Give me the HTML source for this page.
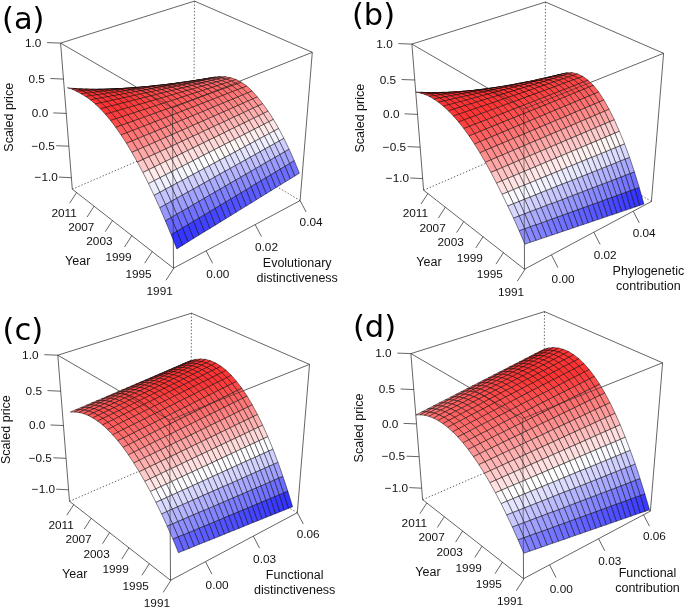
<!DOCTYPE html>
<html><head><meta charset="utf-8"><title>Figure</title>
<style>html,body{margin:0;padding:0;background:#fff}svg{display:block}</style></head>
<body><svg width="685" height="608" viewBox="0 0 685 608">
<rect width="685" height="608" fill="#fff"/>
<g stroke="#222" stroke-width="0.7" fill="none">
<path d="M60.6 43.1L194.5 1.1" />
<path d="M194.5 1.1L312.3 52.3" />
<path d="M60.6 43.1L72.3 189.2" />
<path d="M312.3 52.3L300.1 200.6" />
<path d="M72.3 189.2L173.5 268.2" />
<path d="M173.5 268.2L300.1 200.6" />
<path d="M194.5 1.1L193.7 136.8" stroke-dasharray="1.4 1.9"/>
<path d="M72.3 189.2L193.7 136.8" stroke-dasharray="1.4 1.9"/>
<path d="M300.1 200.6L193.7 136.8" stroke-dasharray="1.4 1.9"/>
<path d="M173.8 268.2L166.0 280.3" />
<path d="M152.3 251.5L144.7 263.2" />
<path d="M131.9 235.6L124.5 247.0" />
<path d="M112.5 220.5L105.3 231.6" />
<path d="M94.1 206.2L87.1 217.0" />
<path d="M76.6 192.6L69.7 203.1" />
<path d="M206.2 250.9L212.6 263.3" />
<path d="M255.2 224.6L261.4 236.5" />
<path d="M300.1 200.6L306.1 211.9" />
<path d="M71.4 177.7L59.0 177.1" />
<path d="M68.9 146.2L56.2 145.7" />
<path d="M66.3 113.4L53.3 112.9" />
<path d="M63.5 79.1L50.3 78.5" />
<path d="M60.6 43.1L47.1 42.6" />
</g>
<g stroke="#000" stroke-width="0.48" stroke-linejoin="round">
<path d="M191.3 86.3L186.7 90.2L191.2 90.3L195.9 86.2Z" fill="#efefff"/>
<path d="M186.7 86.5L182.1 90.2L186.7 90.2L191.3 86.3Z" fill="#f9f9ff"/>
<path d="M196.1 83.1L191.3 86.3L195.9 86.2L200.7 82.8Z" fill="#ffecec"/>
<path d="M182.1 86.6L177.4 90.2L182.1 90.2L186.7 86.5Z" fill="#fffcfc"/>
<path d="M191.5 83.4L186.7 86.5L191.3 86.3L196.1 83.1Z" fill="#ffe3e3"/>
<path d="M177.4 86.8L172.7 90.2L177.4 90.2L182.1 86.6Z" fill="#fff1f1"/>
<path d="M200.9 80.6L196.1 83.1L200.7 82.8L205.5 80.1Z" fill="#ffcdcd"/>
<path d="M186.8 83.8L182.1 86.6L186.7 86.5L191.5 83.4Z" fill="#ffdada"/>
<path d="M172.6 87.0L168.0 90.1L172.7 90.2L177.4 86.8Z" fill="#ffe8e8"/>
<path d="M196.3 81.1L191.5 83.4L196.1 83.1L200.9 80.6Z" fill="#ffc5c5"/>
<path d="M182.1 84.1L177.4 86.8L182.1 86.6L186.8 83.8Z" fill="#ffd1d1"/>
<path d="M167.8 87.1L163.2 90.1L168.0 90.1L172.6 87.0Z" fill="#ffdede"/>
<path d="M205.9 78.8L200.9 80.6L205.5 80.1L210.5 78.2Z" fill="#ffb2b2"/>
<path d="M191.6 81.6L186.8 83.8L191.5 83.4L196.3 81.1Z" fill="#ffbdbd"/>
<path d="M177.3 84.5L172.6 87.0L177.4 86.8L182.1 84.1Z" fill="#ffc9c9"/>
<path d="M162.9 87.3L158.4 90.1L163.2 90.1L167.8 87.1Z" fill="#ffd5d5"/>
<path d="M201.2 79.5L196.3 81.1L200.9 80.6L205.9 78.8Z" fill="#ffacac"/>
<path d="M186.8 82.1L182.1 84.1L186.8 83.8L191.6 81.6Z" fill="#ffb6b6"/>
<path d="M172.5 84.8L167.8 87.1L172.6 87.0L177.3 84.5Z" fill="#ffc1c1"/>
<path d="M158.0 87.5L153.5 90.1L158.4 90.1L162.9 87.3Z" fill="#ffcbcb"/>
<path d="M210.9 77.8L205.9 78.8L210.5 78.2L215.5 77.0Z" fill="#ff9c9c"/>
<path d="M196.5 80.2L191.6 81.6L196.3 81.1L201.2 79.5Z" fill="#ffa5a5"/>
<path d="M182.1 82.7L177.3 84.5L182.1 84.1L186.8 82.1Z" fill="#ffaeae"/>
<path d="M167.6 85.2L162.9 87.3L167.8 87.1L172.5 84.8Z" fill="#ffb8b8"/>
<path d="M206.2 78.7L201.2 79.5L205.9 78.8L210.9 77.8Z" fill="#ff9696"/>
<path d="M153.1 87.6L148.6 90.0L153.5 90.1L158.0 87.5Z" fill="#ffc1c1"/>
<path d="M191.7 80.9L186.8 82.1L191.6 81.6L196.5 80.2Z" fill="#ff9e9e"/>
<path d="M177.2 83.2L172.5 84.8L177.3 84.5L182.1 82.7Z" fill="#ffa7a7"/>
<path d="M215.9 77.6L210.9 77.8L215.5 77.0L220.6 76.6Z" fill="#ff8a8a"/>
<path d="M162.7 85.5L158.0 87.5L162.9 87.3L167.6 85.2Z" fill="#ffafaf"/>
<path d="M201.4 79.6L196.5 80.2L201.2 79.5L206.2 78.7Z" fill="#ff9191"/>
<path d="M148.1 87.8L143.6 90.0L148.6 90.0L153.1 87.6Z" fill="#ffb7b7"/>
<path d="M186.9 81.6L182.1 82.7L186.8 82.1L191.7 80.9Z" fill="#ff9898"/>
<path d="M172.3 83.7L167.6 85.2L172.5 84.8L177.2 83.2Z" fill="#ff9f9f"/>
<path d="M211.2 78.6L206.2 78.7L210.9 77.8L215.9 77.6Z" fill="#ff8585"/>
<path d="M157.7 85.9L153.1 87.6L158.0 87.5L162.7 85.5Z" fill="#ffa6a6"/>
<path d="M196.7 80.4L191.7 80.9L196.5 80.2L201.4 79.6Z" fill="#ff8b8b"/>
<path d="M143.0 88.0L138.5 90.0L143.6 90.0L148.1 87.8Z" fill="#ffadad"/>
<path d="M221.1 78.0L215.9 77.6L220.6 76.6L225.7 76.8Z" fill="#ff7c7c"/>
<path d="M182.1 82.3L177.2 83.2L182.1 82.7L186.9 81.6Z" fill="#ff9191"/>
<path d="M206.5 79.6L201.4 79.6L206.2 78.7L211.2 78.6Z" fill="#ff8181"/>
<path d="M167.4 84.3L162.7 85.5L167.6 85.2L172.3 83.7Z" fill="#ff9898"/>
<path d="M152.7 86.2L148.1 87.8L153.1 87.6L157.7 85.9Z" fill="#ff9e9e"/>
<path d="M191.8 81.3L186.9 81.6L191.7 80.9L196.7 80.4Z" fill="#ff8585"/>
<path d="M216.3 79.2L211.2 78.6L215.9 77.6L221.1 78.0Z" fill="#ff7979"/>
<path d="M137.9 88.1L133.4 90.0L138.5 90.0L143.0 88.0Z" fill="#ffa4a4"/>
<path d="M177.2 83.1L172.3 83.7L177.2 83.2L182.1 82.3Z" fill="#ff8b8b"/>
<path d="M201.7 80.7L196.7 80.4L201.4 79.6L206.5 79.6Z" fill="#ff7c7c"/>
<path d="M162.4 84.8L157.7 85.9L162.7 85.5L167.4 84.3Z" fill="#ff9090"/>
<path d="M226.2 79.2L221.1 78.0L225.7 76.8L230.9 77.8Z" fill="#ff7272"/>
<path d="M187.0 82.2L182.1 82.3L186.9 81.6L191.8 81.3Z" fill="#ff8080"/>
<path d="M147.6 86.6L143.0 88.0L148.1 87.8L152.7 86.2Z" fill="#ff9595"/>
<path d="M211.6 80.4L206.5 79.6L211.2 78.6L216.3 79.2Z" fill="#ff7575"/>
<path d="M172.2 83.8L167.4 84.3L172.3 83.7L177.2 83.1Z" fill="#ff8585"/>
<path d="M132.7 88.3L128.3 89.9L133.4 90.0L137.9 88.1Z" fill="#ff9a9a"/>
<path d="M196.9 81.8L191.8 81.3L196.7 80.4L201.7 80.7Z" fill="#ff7777"/>
<path d="M221.5 80.6L216.3 79.2L221.1 78.0L226.2 79.2Z" fill="#ff6f6f"/>
<path d="M157.4 85.4L152.7 86.2L157.7 85.9L162.4 84.8Z" fill="#ff8989"/>
<path d="M182.1 83.1L177.2 83.1L182.1 82.3L187.0 82.2Z" fill="#ff7a7a"/>
<path d="M206.8 81.7L201.7 80.7L206.5 79.6L211.6 80.4Z" fill="#ff7171"/>
<path d="M231.5 81.1L226.2 79.2L230.9 77.8L236.2 79.6Z" fill="#ff6c6c"/>
<path d="M142.5 87.0L137.9 88.1L143.0 88.0L147.6 86.6Z" fill="#ff8d8d"/>
<path d="M167.2 84.5L162.4 84.8L167.4 84.3L172.2 83.8Z" fill="#ff7d7d"/>
<path d="M127.5 88.5L123.1 89.9L128.3 89.9L132.7 88.3Z" fill="#ff9090"/>
<path d="M192.0 82.8L187.0 82.2L191.8 81.3L196.9 81.8Z" fill="#ff7272"/>
<path d="M216.7 81.9L211.6 80.4L216.3 79.2L221.5 80.6Z" fill="#ff6c6c"/>
<path d="M152.3 86.0L147.6 86.6L152.7 86.2L157.4 85.4Z" fill="#ff8181"/>
<path d="M177.1 84.0L172.2 83.8L177.2 83.1L182.1 83.1Z" fill="#ff7575"/>
<path d="M226.7 82.6L221.5 80.6L226.2 79.2L231.5 81.1Z" fill="#ff6969"/>
<path d="M201.9 82.9L196.9 81.8L201.7 80.7L206.8 81.7Z" fill="#ff6d6d"/>
<path d="M137.3 87.4L132.7 88.3L137.9 88.1L142.5 87.0Z" fill="#ff8484"/>
<path d="M236.8 84.0L231.5 81.1L236.2 79.6L241.5 82.3Z" fill="#ff6969"/>
<path d="M162.1 85.3L157.4 85.4L162.4 84.8L167.2 84.5Z" fill="#ff7777"/>
<path d="M187.0 83.9L182.1 83.1L187.0 82.2L192.0 82.8Z" fill="#ff6d6d"/>
<path d="M211.9 83.3L206.8 81.7L211.6 80.4L216.7 81.9Z" fill="#ff6969"/>
<path d="M122.2 88.6L117.8 89.9L123.1 89.9L127.5 88.5Z" fill="#ff8686"/>
<path d="M147.1 86.5L142.5 87.0L147.6 86.6L152.3 86.0Z" fill="#ff7979"/>
<path d="M222.0 84.2L216.7 81.9L221.5 80.6L226.7 82.6Z" fill="#ff6767"/>
<path d="M172.1 84.9L167.2 84.5L172.2 83.8L177.1 84.0Z" fill="#ff6f6f"/>
<path d="M197.0 84.2L192.0 82.8L196.9 81.8L201.9 82.9Z" fill="#ff6969"/>
<path d="M132.0 87.7L127.5 88.5L132.7 88.3L137.3 87.4Z" fill="#ff7b7b"/>
<path d="M232.0 85.7L226.7 82.6L231.5 81.1L236.8 84.0Z" fill="#ff6969"/>
<path d="M157.0 86.0L152.3 86.0L157.4 85.4L162.1 85.3Z" fill="#ff7171"/>
<path d="M207.1 84.8L201.9 82.9L206.8 81.7L211.9 83.3Z" fill="#ff6666"/>
<path d="M182.1 85.0L177.1 84.0L182.1 83.1L187.0 83.9Z" fill="#ff6969"/>
<path d="M242.1 87.9L236.8 84.0L241.5 82.3L246.8 86.1Z" fill="#ff6d6d"/>
<path d="M116.9 88.8L112.5 89.8L117.8 89.9L122.2 88.6Z" fill="#ff7d7d"/>
<path d="M217.1 85.8L211.9 83.3L216.7 81.9L222.0 84.2Z" fill="#ff6565"/>
<path d="M141.9 87.1L137.3 87.4L142.5 87.0L147.1 86.5Z" fill="#ff7171"/>
<path d="M192.1 85.4L187.0 83.9L192.0 82.8L197.0 84.2Z" fill="#ff6565"/>
<path d="M167.0 85.9L162.1 85.3L167.2 84.5L172.1 84.9Z" fill="#ff6969"/>
<path d="M227.2 87.4L222.0 84.2L226.7 82.6L232.0 85.7Z" fill="#ff6767"/>
<path d="M126.7 88.1L122.2 88.6L127.5 88.5L132.0 87.7Z" fill="#ff7373"/>
<path d="M202.2 86.2L197.0 84.2L201.9 82.9L207.1 84.8Z" fill="#ff6363"/>
<path d="M237.3 89.8L232.0 85.7L236.8 84.0L242.1 87.9Z" fill="#ff6d6d"/>
<path d="M151.9 86.8L147.1 86.5L152.3 86.0L157.0 86.0Z" fill="#ff6a6a"/>
<path d="M177.0 86.1L172.1 84.9L177.1 84.0L182.1 85.0Z" fill="#ff6565"/>
<path d="M247.4 93.0L242.1 87.9L246.8 86.1L252.1 91.0Z" fill="#ff7676"/>
<path d="M212.3 87.4L207.1 84.8L211.9 83.3L217.1 85.8Z" fill="#ff6363"/>
<path d="M111.5 89.0L107.1 89.7L112.5 89.8L116.9 88.8Z" fill="#ff7272"/>
<path d="M187.1 86.7L182.1 85.0L187.0 83.9L192.1 85.4Z" fill="#ff6161"/>
<path d="M136.7 87.7L132.0 87.7L137.3 87.4L141.9 87.1Z" fill="#ff6a6a"/>
<path d="M161.9 86.8L157.0 86.0L162.1 85.3L167.0 85.9Z" fill="#ff6464"/>
<path d="M222.4 89.1L217.1 85.8L222.0 84.2L227.2 87.4Z" fill="#ff6565"/>
<path d="M232.5 91.6L227.2 87.4L232.0 85.7L237.3 89.8Z" fill="#ff6c6c"/>
<path d="M197.2 87.6L192.1 85.4L197.0 84.2L202.2 86.2Z" fill="#ff6060"/>
<path d="M242.6 95.0L237.3 89.8L242.1 87.9L247.4 93.0Z" fill="#ff7676"/>
<path d="M252.7 99.0L247.4 93.0L252.1 91.0L257.4 97.0Z" fill="#ff8585"/>
<path d="M121.4 88.5L116.9 88.8L122.2 88.6L126.7 88.1Z" fill="#ff6a6a"/>
<path d="M172.0 87.2L167.0 85.9L172.1 84.9L177.0 86.1Z" fill="#ff6060"/>
<path d="M146.7 87.5L141.9 87.1L147.1 86.5L151.9 86.8Z" fill="#ff6363"/>
<path d="M207.4 89.0L202.2 86.2L207.1 84.8L212.3 87.4Z" fill="#ff6161"/>
<path d="M182.1 88.0L177.0 86.1L182.1 85.0L187.1 86.7Z" fill="#ff5d5d"/>
<path d="M106.0 89.1L101.6 89.6L107.1 89.7L111.5 89.0Z" fill="#ff6969"/>
<path d="M217.5 90.9L212.3 87.4L217.1 85.8L222.4 89.1Z" fill="#ff6464"/>
<path d="M156.7 87.8L151.9 86.8L157.0 86.0L161.9 86.8Z" fill="#ff5e5e"/>
<path d="M131.4 88.3L126.7 88.1L132.0 87.7L136.7 87.7Z" fill="#ff6262"/>
<path d="M258.0 105.9L252.7 99.0L257.4 97.0L262.7 103.7Z" fill="#ff9797"/>
<path d="M227.7 93.5L222.4 89.1L227.2 87.4L232.5 91.6Z" fill="#ff6b6b"/>
<path d="M247.9 101.1L242.6 95.0L247.4 93.0L252.7 99.0Z" fill="#ff8585"/>
<path d="M192.2 89.1L187.1 86.7L192.1 85.4L197.2 87.6Z" fill="#ff5d5d"/>
<path d="M237.8 97.0L232.5 91.6L237.3 89.8L242.6 95.0Z" fill="#ff7575"/>
<path d="M166.8 88.3L161.9 86.8L167.0 85.9L172.0 87.2Z" fill="#ff5b5b"/>
<path d="M141.4 88.3L136.7 87.7L141.9 87.1L146.7 87.5Z" fill="#ff5d5d"/>
<path d="M116.0 88.9L111.5 89.0L116.9 88.8L121.4 88.5Z" fill="#ff6161"/>
<path d="M202.4 90.6L197.2 87.6L202.2 86.2L207.4 89.0Z" fill="#ff5e5e"/>
<path d="M263.3 113.5L258.0 105.9L262.7 103.7L268.1 111.1Z" fill="#ffadad"/>
<path d="M177.0 89.3L172.0 87.2L177.0 86.1L182.1 88.0Z" fill="#ff5959"/>
<path d="M212.6 92.6L207.4 89.0L212.3 87.4L217.5 90.9Z" fill="#ff6363"/>
<path d="M151.5 88.7L146.7 87.5L151.9 86.8L156.7 87.8Z" fill="#ff5959"/>
<path d="M253.3 108.1L247.9 101.1L252.7 99.0L258.0 105.9Z" fill="#ff9898"/>
<path d="M126.0 88.8L121.4 88.5L126.7 88.1L131.4 88.3Z" fill="#ff5b5b"/>
<path d="M222.8 95.4L217.5 90.9L222.4 89.1L227.7 93.5Z" fill="#ff6a6a"/>
<path d="M100.5 89.2L96.1 89.5L101.6 89.6L106.0 89.1Z" fill="#ff5e5e"/>
<path d="M243.1 103.3L237.8 97.0L242.6 95.0L247.9 101.1Z" fill="#ff8585"/>
<path d="M233.0 99.0L227.7 93.5L232.5 91.6L237.8 97.0Z" fill="#ff7575"/>
<path d="M187.2 90.5L182.1 88.0L187.1 86.7L192.2 89.1Z" fill="#ff5a5a"/>
<path d="M268.7 121.8L263.3 113.5L268.1 111.1L273.4 119.4Z" fill="#ffc8c8"/>
<path d="M161.7 89.5L156.7 87.8L161.9 86.8L166.8 88.3Z" fill="#ff5656"/>
<path d="M197.4 92.2L192.2 89.1L197.2 87.6L202.4 90.6Z" fill="#ff5d5d"/>
<path d="M136.1 89.1L131.4 88.3L136.7 87.7L141.4 88.3Z" fill="#ff5656"/>
<path d="M110.5 89.2L106.0 89.1L111.5 89.0L116.0 88.9Z" fill="#ff5959"/>
<path d="M258.6 115.8L253.3 108.1L258.0 105.9L263.3 113.5Z" fill="#ffafaf"/>
<path d="M207.6 94.4L202.4 90.6L207.4 89.0L212.6 92.6Z" fill="#ff6161"/>
<path d="M171.9 90.6L166.8 88.3L172.0 87.2L177.0 89.3Z" fill="#ff5555"/>
<path d="M248.5 110.3L243.1 103.3L247.9 101.1L253.3 108.1Z" fill="#ff9999"/>
<path d="M274.0 131.0L268.7 121.8L273.4 119.4L278.7 128.5Z" fill="#ffe6e6"/>
<path d="M217.9 97.3L212.6 92.6L217.5 90.9L222.8 95.4Z" fill="#ff6969"/>
<path d="M238.3 105.4L233.0 99.0L237.8 97.0L243.1 103.3Z" fill="#ff8585"/>
<path d="M146.2 89.7L141.4 88.3L146.7 87.5L151.5 88.7Z" fill="#ff5353"/>
<path d="M228.1 101.0L222.8 95.4L227.7 93.5L233.0 99.0Z" fill="#ff7575"/>
<path d="M120.6 89.4L116.0 88.9L121.4 88.5L126.0 88.8Z" fill="#ff5353"/>
<path d="M182.1 92.0L177.0 89.3L182.1 88.0L187.2 90.5Z" fill="#ff5757"/>
<path d="M94.9 89.3L90.5 89.4L96.1 89.5L100.5 89.2Z" fill="#ff5555"/>
<path d="M263.9 124.3L258.6 115.8L263.3 113.5L268.7 121.8Z" fill="#ffc9c9"/>
<path d="M279.2 141.0L274.0 131.0L278.7 128.5L283.9 138.4Z" fill="#f5f5ff"/>
<path d="M156.4 90.6L151.5 88.7L156.7 87.8L161.7 89.5Z" fill="#ff5151"/>
<path d="M192.3 93.8L187.2 90.5L192.2 89.1L197.4 92.2Z" fill="#ff5a5a"/>
<path d="M284.5 151.9L279.2 141.0L283.9 138.4L289.1 149.2Z" fill="#ceceff"/>
<path d="M253.8 118.1L248.5 110.3L253.3 108.1L258.6 115.8Z" fill="#ffb0b0"/>
<path d="M130.7 89.9L126.0 88.8L131.4 88.3L136.1 89.1Z" fill="#ff5050"/>
<path d="M289.6 163.6L284.5 151.9L289.1 149.2L294.3 160.8Z" fill="#a3a3ff"/>
<path d="M294.8 176.1L289.6 163.6L294.3 160.8L299.4 173.2Z" fill="#7373ff"/>
<path d="M202.6 96.2L197.4 92.2L202.4 90.6L207.6 94.4Z" fill="#ff6060"/>
<path d="M105.0 89.6L100.5 89.2L106.0 89.1L110.5 89.2Z" fill="#ff5050"/>
<path d="M269.2 133.6L263.9 124.3L268.7 121.8L274.0 131.0Z" fill="#ffe9e9"/>
<path d="M243.6 112.6L238.3 105.4L243.1 103.3L248.5 110.3Z" fill="#ff9999"/>
<path d="M166.7 91.9L161.7 89.5L166.8 88.3L171.9 90.6Z" fill="#ff5252"/>
<path d="M212.9 99.3L207.6 94.4L212.6 92.6L217.9 97.3Z" fill="#ff6969"/>
<path d="M233.4 107.5L228.1 101.0L233.0 99.0L238.3 105.4Z" fill="#ff8585"/>
<path d="M223.2 103.1L217.9 97.3L222.8 95.4L228.1 101.0Z" fill="#ff7575"/>
<path d="M140.9 90.7L136.1 89.1L141.4 88.3L146.2 89.7Z" fill="#ff4d4d"/>
<path d="M274.5 143.7L269.2 133.6L274.0 131.0L279.2 141.0Z" fill="#f3f3ff"/>
<path d="M259.1 126.7L253.8 118.1L258.6 115.8L263.9 124.3Z" fill="#ffcbcb"/>
<path d="M176.9 93.5L171.9 90.6L177.0 89.3L182.1 92.0Z" fill="#ff5454"/>
<path d="M115.1 90.0L110.5 89.2L116.0 88.9L120.6 89.4Z" fill="#ff4c4c"/>
<path d="M279.8 154.6L274.5 143.7L279.2 141.0L284.5 151.9Z" fill="#ccccff"/>
<path d="M89.3 89.3L84.9 89.1L90.5 89.4L94.9 89.3Z" fill="#ff4949"/>
<path d="M249.0 120.5L243.6 112.6L248.5 110.3L253.8 118.1Z" fill="#ffb1b1"/>
<path d="M187.2 95.5L182.1 92.0L187.2 90.5L192.3 93.8Z" fill="#ff5858"/>
<path d="M151.2 91.8L146.2 89.7L151.5 88.7L156.4 90.6Z" fill="#ff4d4d"/>
<path d="M285.0 166.4L279.8 154.6L284.5 151.9L289.6 163.6Z" fill="#a1a1ff"/>
<path d="M290.1 178.9L285.0 166.4L289.6 163.6L294.8 176.1Z" fill="#7171ff"/>
<path d="M264.4 136.1L259.1 126.7L263.9 124.3L269.2 133.6Z" fill="#ffeaea"/>
<path d="M238.7 114.9L233.4 107.5L238.3 105.4L243.6 112.6Z" fill="#ff9a9a"/>
<path d="M197.6 98.0L192.3 93.8L197.4 92.2L202.6 96.2Z" fill="#ff5e5e"/>
<path d="M125.3 90.7L120.6 89.4L126.0 88.8L130.7 89.9Z" fill="#ff4949"/>
<path d="M228.5 109.7L223.2 103.1L228.1 101.0L233.4 107.5Z" fill="#ff8686"/>
<path d="M207.9 101.2L202.6 96.2L207.6 94.4L212.9 99.3Z" fill="#ff6868"/>
<path d="M161.4 93.2L156.4 90.6L161.7 89.5L166.7 91.9Z" fill="#ff4e4e"/>
<path d="M218.2 105.1L212.9 99.3L217.9 97.3L223.2 103.1Z" fill="#ff7575"/>
<path d="M99.4 90.0L94.9 89.3L100.5 89.2L105.0 89.6Z" fill="#ff4646"/>
<path d="M269.7 146.3L264.4 136.1L269.2 133.6L274.5 143.7Z" fill="#f1f1ff"/>
<path d="M254.3 129.2L249.0 120.5L253.8 118.1L259.1 126.7Z" fill="#ffcdcd"/>
<path d="M135.5 91.6L130.7 89.9L136.1 89.1L140.9 90.7Z" fill="#ff4848"/>
<path d="M171.8 95.0L166.7 91.9L171.9 90.6L176.9 93.5Z" fill="#ff5151"/>
<path d="M275.0 157.4L269.7 146.3L274.5 143.7L279.8 154.6Z" fill="#c9c9ff"/>
<path d="M244.1 122.9L238.7 114.9L243.6 112.6L249.0 120.5Z" fill="#ffb2b2"/>
<path d="M109.6 90.6L105.0 89.6L110.5 89.2L115.1 90.0Z" fill="#ff4444"/>
<path d="M280.2 169.2L275.0 157.4L279.8 154.6L285.0 166.4Z" fill="#9d9dff"/>
<path d="M285.4 181.8L280.2 169.2L285.0 166.4L290.1 178.9Z" fill="#6d6dff"/>
<path d="M182.1 97.2L176.9 93.5L182.1 92.0L187.2 95.5Z" fill="#ff5656"/>
<path d="M259.6 138.7L254.3 129.2L259.1 126.7L264.4 136.1Z" fill="#ffecec"/>
<path d="M145.8 92.9L140.9 90.7L146.2 89.7L151.2 91.8Z" fill="#ff4848"/>
<path d="M233.8 117.1L228.5 109.7L233.4 107.5L238.7 114.9Z" fill="#ff9b9b"/>
<path d="M83.5 89.3L79.2 88.8L84.9 89.1L89.3 89.3Z" fill="#ff3f3f"/>
<path d="M192.5 99.9L187.2 95.5L192.3 93.8L197.6 98.0Z" fill="#ff5d5d"/>
<path d="M223.5 111.9L218.2 105.1L223.2 103.1L228.5 109.7Z" fill="#ff8686"/>
<path d="M202.8 103.2L197.6 98.0L202.6 96.2L207.9 101.2Z" fill="#ff6767"/>
<path d="M213.2 107.2L207.9 101.2L212.9 99.3L218.2 105.1Z" fill="#ff7575"/>
<path d="M119.8 91.5L115.1 90.0L120.6 89.4L125.3 90.7Z" fill="#ff4242"/>
<path d="M264.9 149.0L259.6 138.7L264.4 136.1L269.7 146.3Z" fill="#eeeeff"/>
<path d="M156.2 94.6L151.2 91.8L156.4 90.6L161.4 93.2Z" fill="#ff4a4a"/>
<path d="M249.4 131.7L244.1 122.9L249.0 120.5L254.3 129.2Z" fill="#ffcece"/>
<path d="M93.7 90.3L89.3 89.3L94.9 89.3L99.4 90.0Z" fill="#ff3d3d"/>
<path d="M270.2 160.1L264.9 149.0L269.7 146.3L275.0 157.4Z" fill="#c7c7ff"/>
<path d="M166.5 96.5L161.4 93.2L166.7 91.9L171.8 95.0Z" fill="#ff4e4e"/>
<path d="M239.2 125.3L233.8 117.1L238.7 114.9L244.1 122.9Z" fill="#ffb4b4"/>
<path d="M130.1 92.6L125.3 90.7L130.7 89.9L135.5 91.6Z" fill="#ff4242"/>
<path d="M275.4 172.1L270.2 160.1L275.0 157.4L280.2 169.2Z" fill="#9b9bff"/>
<path d="M280.6 184.8L275.4 172.1L280.2 169.2L285.4 181.8Z" fill="#6b6bff"/>
<path d="M254.8 141.3L249.4 131.7L254.3 129.2L259.6 138.7Z" fill="#ffeeee"/>
<path d="M176.9 98.9L171.8 95.0L176.9 93.5L182.1 97.2Z" fill="#ff5454"/>
<path d="M228.9 119.5L223.5 111.9L228.5 109.7L233.8 117.1Z" fill="#ff9c9c"/>
<path d="M104.0 91.2L99.4 90.0L105.0 89.6L109.6 90.6Z" fill="#ff3d3d"/>
<path d="M140.4 94.1L135.5 91.6L140.9 90.7L145.8 92.9Z" fill="#ff4343"/>
<path d="M187.3 101.7L182.1 97.2L187.2 95.5L192.5 99.9Z" fill="#ff5c5c"/>
<path d="M218.5 114.1L213.2 107.2L218.2 105.1L223.5 111.9Z" fill="#ff8787"/>
<path d="M197.7 105.2L192.5 99.9L197.6 98.0L202.8 103.2Z" fill="#ff6666"/>
<path d="M260.1 151.7L254.8 141.3L259.6 138.7L264.9 149.0Z" fill="#ededff"/>
<path d="M208.1 109.3L202.8 103.2L207.9 101.2L213.2 107.2Z" fill="#ff7575"/>
<path d="M244.5 134.2L239.2 125.3L244.1 122.9L249.4 131.7Z" fill="#ffd0d0"/>
<path d="M77.7 89.2L73.4 88.4L79.2 88.8L83.5 89.3Z" fill="#ff3434"/>
<path d="M150.8 95.9L145.8 92.9L151.2 91.8L156.2 94.6Z" fill="#ff4646"/>
<path d="M114.3 92.3L109.6 90.6L115.1 90.0L119.8 91.5Z" fill="#ff3c3c"/>
<path d="M265.4 162.9L260.1 151.7L264.9 149.0L270.2 160.1Z" fill="#c5c5ff"/>
<path d="M270.6 175.0L265.4 162.9L270.2 160.1L275.4 172.1Z" fill="#9999ff"/>
<path d="M275.8 187.7L270.6 175.0L275.4 172.1L280.6 184.8Z" fill="#6868ff"/>
<path d="M234.2 127.7L228.9 119.5L233.8 117.1L239.2 125.3Z" fill="#ffb5b5"/>
<path d="M161.2 98.1L156.2 94.6L161.4 93.2L166.5 96.5Z" fill="#ff4b4b"/>
<path d="M249.9 143.9L244.5 134.2L249.4 131.7L254.8 141.3Z" fill="#fff0f0"/>
<path d="M88.0 90.6L83.5 89.3L89.3 89.3L93.7 90.3Z" fill="#ff3434"/>
<path d="M124.6 93.6L119.8 91.5L125.3 90.7L130.1 92.6Z" fill="#ff3d3d"/>
<path d="M223.9 121.8L218.5 114.1L223.5 111.9L228.9 119.5Z" fill="#ff9d9d"/>
<path d="M171.7 100.6L166.5 96.5L171.8 95.0L176.9 98.9Z" fill="#ff5151"/>
<path d="M213.5 116.4L208.1 109.3L213.2 107.2L218.5 114.1Z" fill="#ff8787"/>
<path d="M182.1 103.6L176.9 98.9L182.1 97.2L187.3 101.7Z" fill="#ff5a5a"/>
<path d="M255.2 154.5L249.9 143.9L254.8 141.3L260.1 151.7Z" fill="#eaeaff"/>
<path d="M98.3 91.8L93.7 90.3L99.4 90.0L104.0 91.2Z" fill="#ff3535"/>
<path d="M135.0 95.3L130.1 92.6L135.5 91.6L140.4 94.1Z" fill="#ff3f3f"/>
<path d="M203.0 111.5L197.7 105.2L202.8 103.2L208.1 109.3Z" fill="#ff7575"/>
<path d="M192.6 107.2L187.3 101.7L192.5 99.9L197.7 105.2Z" fill="#ff6565"/>
<path d="M239.6 136.8L234.2 127.7L239.2 125.3L244.5 134.2Z" fill="#ffd1d1"/>
<path d="M260.5 165.8L255.2 154.5L260.1 151.7L265.4 162.9Z" fill="#c2c2ff"/>
<path d="M145.4 97.3L140.4 94.1L145.8 92.9L150.8 95.9Z" fill="#ff4242"/>
<path d="M265.8 177.9L260.5 165.8L265.4 162.9L270.6 175.0Z" fill="#9595ff"/>
<path d="M271.0 190.7L265.8 177.9L270.6 175.0L275.8 187.7Z" fill="#6565ff"/>
<path d="M229.2 130.2L223.9 121.8L228.9 119.5L234.2 127.7Z" fill="#ffb6b6"/>
<path d="M108.7 93.1L104.0 91.2L109.6 90.6L114.3 92.3Z" fill="#ff3535"/>
<path d="M244.9 146.6L239.6 136.8L244.5 134.2L249.9 143.9Z" fill="#fff1f1"/>
<path d="M71.9 89.0L67.5 87.8L73.4 88.4L77.7 89.2Z" fill="#ff3333"/>
<path d="M155.9 99.6L150.8 95.9L156.2 94.6L161.2 98.1Z" fill="#ff4848"/>
<path d="M218.8 124.1L213.5 116.4L218.5 114.1L223.9 121.8Z" fill="#ff9d9d"/>
<path d="M119.1 94.7L114.3 92.3L119.8 91.5L124.6 93.6Z" fill="#ff3737"/>
<path d="M166.4 102.3L161.2 98.1L166.5 96.5L171.7 100.6Z" fill="#ff5050"/>
<path d="M82.2 90.9L77.7 89.2L83.5 89.3L88.0 90.6Z" fill="#ff3333"/>
<path d="M250.3 157.2L244.9 146.6L249.9 143.9L255.2 154.5Z" fill="#e8e8ff"/>
<path d="M208.4 118.6L203.0 111.5L208.1 109.3L213.5 116.4Z" fill="#ff8888"/>
<path d="M176.9 105.5L171.7 100.6L176.9 98.9L182.1 103.6Z" fill="#ff5959"/>
<path d="M234.6 139.3L229.2 130.2L234.2 127.7L239.6 136.8Z" fill="#ffd3d3"/>
<path d="M197.9 113.6L192.6 107.2L197.7 105.2L203.0 111.5Z" fill="#ff7575"/>
<path d="M187.4 109.2L182.1 103.6L187.3 101.7L192.6 107.2Z" fill="#ff6565"/>
<path d="M255.6 168.6L250.3 157.2L255.2 154.5L260.5 165.8Z" fill="#c0c0ff"/>
<path d="M129.5 96.5L124.6 93.6L130.1 92.6L135.0 95.3Z" fill="#ff3a3a"/>
<path d="M92.6 92.5L88.0 90.6L93.7 90.3L98.3 91.8Z" fill="#ff3333"/>
<path d="M260.9 180.8L255.6 168.6L260.5 165.8L265.8 177.9Z" fill="#9393ff"/>
<path d="M266.1 193.7L260.9 180.8L265.8 177.9L271.0 190.7Z" fill="#6262ff"/>
<path d="M224.2 132.7L218.8 124.1L223.9 121.8L229.2 130.2Z" fill="#ffb7b7"/>
<path d="M140.0 98.7L135.0 95.3L140.4 94.1L145.4 97.3Z" fill="#ff3f3f"/>
<path d="M240.0 149.3L234.6 139.3L239.6 136.8L244.9 146.6Z" fill="#fff4f4"/>
<path d="M103.0 94.0L98.3 91.8L104.0 91.2L108.7 93.1Z" fill="#ff3333"/>
<path d="M213.7 126.5L208.4 118.6L213.5 116.4L218.8 124.1Z" fill="#ff9e9e"/>
<path d="M150.5 101.2L145.4 97.3L150.8 95.9L155.9 99.6Z" fill="#ff4545"/>
<path d="M245.3 160.0L240.0 149.3L244.9 146.6L250.3 157.2Z" fill="#e5e5ff"/>
<path d="M161.0 104.0L155.9 99.6L161.2 98.1L166.4 102.3Z" fill="#ff4d4d"/>
<path d="M203.2 120.9L197.9 113.6L203.0 111.5L208.4 118.6Z" fill="#ff8888"/>
<path d="M229.6 141.9L224.2 132.7L229.2 130.2L234.6 139.3Z" fill="#ffd5d5"/>
<path d="M113.5 95.7L108.7 93.1L114.3 92.3L119.1 94.7Z" fill="#ff3333"/>
<path d="M171.6 107.4L166.4 102.3L171.7 100.6L176.9 105.5Z" fill="#ff5858"/>
<path d="M192.7 115.8L187.4 109.2L192.6 107.2L197.9 113.6Z" fill="#ff7575"/>
<path d="M250.7 171.5L245.3 160.0L250.3 157.2L255.6 168.6Z" fill="#bdbdff"/>
<path d="M182.1 111.2L176.9 105.5L182.1 103.6L187.4 109.2Z" fill="#ff6565"/>
<path d="M76.4 91.2L71.9 89.0L77.7 89.2L82.2 90.9Z" fill="#ff3333"/>
<path d="M256.0 183.7L250.7 171.5L255.6 168.6L260.9 180.8Z" fill="#9191ff"/>
<path d="M261.2 196.7L256.0 183.7L260.9 180.8L266.1 193.7Z" fill="#6060ff"/>
<path d="M124.0 97.7L119.1 94.7L124.6 93.6L129.5 96.5Z" fill="#ff3535"/>
<path d="M219.1 135.2L213.7 126.5L218.8 124.1L224.2 132.7Z" fill="#ffb9b9"/>
<path d="M234.9 152.0L229.6 141.9L234.6 139.3L240.0 149.3Z" fill="#fff5f5"/>
<path d="M86.8 93.1L82.2 90.9L88.0 90.6L92.6 92.5Z" fill="#ff3333"/>
<path d="M134.5 100.1L129.5 96.5L135.0 95.3L140.0 98.7Z" fill="#ff3b3b"/>
<path d="M208.6 128.9L203.2 120.9L208.4 118.6L213.7 126.5Z" fill="#ff9f9f"/>
<path d="M240.3 162.8L234.9 152.0L240.0 149.3L245.3 160.0Z" fill="#e4e4ff"/>
<path d="M145.0 102.8L140.0 98.7L145.4 97.3L150.5 101.2Z" fill="#ff4242"/>
<path d="M97.3 94.8L92.6 92.5L98.3 91.8L103.0 94.0Z" fill="#ff3333"/>
<path d="M198.0 123.2L192.7 115.8L197.9 113.6L203.2 120.9Z" fill="#ff8888"/>
<path d="M224.5 144.5L219.1 135.2L224.2 132.7L229.6 141.9Z" fill="#ffd6d6"/>
<path d="M155.6 105.8L150.5 101.2L155.9 99.6L161.0 104.0Z" fill="#ff4b4b"/>
<path d="M245.7 174.4L240.3 162.8L245.3 160.0L250.7 171.5Z" fill="#bbbbff"/>
<path d="M187.4 117.9L182.1 111.2L187.4 109.2L192.7 115.8Z" fill="#ff7575"/>
<path d="M166.2 109.3L161.0 104.0L166.4 102.3L171.6 107.4Z" fill="#ff5656"/>
<path d="M176.8 113.3L171.6 107.4L176.9 105.5L182.1 111.2Z" fill="#ff6464"/>
<path d="M251.0 186.7L245.7 174.4L250.7 171.5L256.0 183.7Z" fill="#8d8dff"/>
<path d="M256.3 199.8L251.0 186.7L256.0 183.7L261.2 196.7Z" fill="#5d5dff"/>
<path d="M107.8 96.7L103.0 94.0L108.7 93.1L113.5 95.7Z" fill="#ff3333"/>
<path d="M214.0 137.7L208.6 128.9L213.7 126.5L219.1 135.2Z" fill="#ffb9b9"/>
<path d="M229.9 154.7L224.5 144.5L229.6 141.9L234.9 152.0Z" fill="#fff8f8"/>
<path d="M118.4 99.0L113.5 95.7L119.1 94.7L124.0 97.7Z" fill="#ff3333"/>
<path d="M203.4 131.3L198.0 123.2L203.2 120.9L208.6 128.9Z" fill="#ffa0a0"/>
<path d="M128.9 101.5L124.0 97.7L129.5 96.5L134.5 100.1Z" fill="#ff3737"/>
<path d="M235.3 165.6L229.9 154.7L234.9 152.0L240.3 162.8Z" fill="#e1e1ff"/>
<path d="M81.0 93.7L76.4 91.2L82.2 90.9L86.8 93.1Z" fill="#ff3333"/>
<path d="M219.4 147.2L214.0 137.7L219.1 135.2L224.5 144.5Z" fill="#ffd8d8"/>
<path d="M139.6 104.4L134.5 100.1L140.0 98.7L145.0 102.8Z" fill="#ff3f3f"/>
<path d="M192.8 125.5L187.4 117.9L192.7 115.8L198.0 123.2Z" fill="#ff8989"/>
<path d="M240.6 177.3L235.3 165.6L240.3 162.8L245.7 174.4Z" fill="#b8b8ff"/>
<path d="M150.2 107.6L145.0 102.8L150.5 101.2L155.6 105.8Z" fill="#ff4949"/>
<path d="M91.5 95.6L86.8 93.1L92.6 92.5L97.3 94.8Z" fill="#ff3333"/>
<path d="M251.3 202.9L246.0 189.7L251.0 186.7L256.3 199.8Z" fill="#5a5aff"/>
<path d="M246.0 189.7L240.6 177.3L245.7 174.4L251.0 186.7Z" fill="#8b8bff"/>
<path d="M182.1 120.1L176.8 113.3L182.1 111.2L187.4 117.9Z" fill="#ff7474"/>
<path d="M160.8 111.2L155.6 105.8L161.0 104.0L166.2 109.3Z" fill="#ff5555"/>
<path d="M171.5 115.4L166.2 109.3L171.6 107.4L176.8 113.3Z" fill="#ff6363"/>
<path d="M208.8 140.2L203.4 131.3L208.6 128.9L214.0 137.7Z" fill="#ffbaba"/>
<path d="M224.8 157.4L219.4 147.2L224.5 144.5L229.9 154.7Z" fill="#fff9f9"/>
<path d="M102.1 97.8L97.3 94.8L103.0 94.0L107.8 96.7Z" fill="#ff3333"/>
<path d="M112.7 100.2L107.8 96.7L113.5 95.7L118.4 99.0Z" fill="#ff3333"/>
<path d="M198.2 133.8L192.8 125.5L198.0 123.2L203.4 131.3Z" fill="#ffa1a1"/>
<path d="M230.2 168.5L224.8 157.4L229.9 154.7L235.3 165.6Z" fill="#dfdfff"/>
<path d="M123.3 102.9L118.4 99.0L124.0 97.7L128.9 101.5Z" fill="#ff3333"/>
<path d="M214.2 149.8L208.8 140.2L214.0 137.7L219.4 147.2Z" fill="#ffd9d9"/>
<path d="M235.6 180.2L230.2 168.5L235.3 165.6L240.6 177.3Z" fill="#b5b5ff"/>
<path d="M187.5 127.8L182.1 120.1L187.4 117.9L192.8 125.5Z" fill="#ff8989"/>
<path d="M246.3 206.0L240.9 192.7L246.0 189.7L251.3 202.9Z" fill="#5757ff"/>
<path d="M240.9 192.7L235.6 180.2L240.6 177.3L246.0 189.7Z" fill="#8989ff"/>
<path d="M134.0 106.0L128.9 101.5L134.5 100.1L139.6 104.4Z" fill="#ff3c3c"/>
<path d="M176.8 122.4L171.5 115.4L176.8 113.3L182.1 120.1Z" fill="#ff7474"/>
<path d="M144.7 109.4L139.6 104.4L145.0 102.8L150.2 107.6Z" fill="#ff4747"/>
<path d="M166.1 117.5L160.8 111.2L166.2 109.3L171.5 115.4Z" fill="#ff6262"/>
<path d="M155.4 113.2L150.2 107.6L155.6 105.8L160.8 111.2Z" fill="#ff5353"/>
<path d="M85.7 96.5L81.0 93.7L86.8 93.1L91.5 95.6Z" fill="#ff3333"/>
<path d="M203.6 142.8L198.2 133.8L203.4 131.3L208.8 140.2Z" fill="#ffbcbc"/>
<path d="M219.6 160.2L214.2 149.8L219.4 147.2L224.8 157.4Z" fill="#fffbfb"/>
<path d="M96.3 98.8L91.5 95.6L97.3 94.8L102.1 97.8Z" fill="#ff3333"/>
<path d="M225.0 171.3L219.6 160.2L224.8 157.4L230.2 168.5Z" fill="#ddddff"/>
<path d="M192.9 136.2L187.5 127.8L192.8 125.5L198.2 133.8Z" fill="#ffa1a1"/>
<path d="M107.0 101.5L102.1 97.8L107.8 96.7L112.7 100.2Z" fill="#ff3333"/>
<path d="M209.0 152.5L203.6 142.8L208.8 140.2L214.2 149.8Z" fill="#ffdbdb"/>
<path d="M230.4 183.2L225.0 171.3L230.2 168.5L235.6 180.2Z" fill="#b3b3ff"/>
<path d="M182.2 130.2L176.8 122.4L182.1 120.1L187.5 127.8Z" fill="#ff8989"/>
<path d="M241.2 209.1L235.8 195.8L240.9 192.7L246.3 206.0Z" fill="#5555ff"/>
<path d="M235.8 195.8L230.4 183.2L235.6 180.2L240.9 192.7Z" fill="#8686ff"/>
<path d="M117.7 104.4L112.7 100.2L118.4 99.0L123.3 102.9Z" fill="#ff3333"/>
<path d="M128.4 107.6L123.3 102.9L128.9 101.5L134.0 106.0Z" fill="#ff3939"/>
<path d="M171.4 124.6L166.1 117.5L171.5 115.4L176.8 122.4Z" fill="#ff7474"/>
<path d="M139.1 111.2L134.0 106.0L139.6 104.4L144.7 109.4Z" fill="#ff4545"/>
<path d="M160.7 119.6L155.4 113.2L160.8 111.2L166.1 117.5Z" fill="#ff6161"/>
<path d="M149.9 115.1L144.7 109.4L150.2 107.6L155.4 113.2Z" fill="#ff5252"/>
<path d="M214.4 163.0L209.0 152.5L214.2 149.8L219.6 160.2Z" fill="#fffdfd"/>
<path d="M198.3 145.4L192.9 136.2L198.2 133.8L203.6 142.8Z" fill="#ffbdbd"/>
<path d="M219.8 174.2L214.4 163.0L219.6 160.2L225.0 171.3Z" fill="#dbdbff"/>
<path d="M187.6 138.7L182.2 130.2L187.5 127.8L192.9 136.2Z" fill="#ffa2a2"/>
<path d="M90.5 99.9L85.7 96.5L91.5 95.6L96.3 98.8Z" fill="#ff3333"/>
<path d="M225.3 186.2L219.8 174.2L225.0 171.3L230.4 183.2Z" fill="#b1b1ff"/>
<path d="M203.7 155.2L198.3 145.4L203.6 142.8L209.0 152.5Z" fill="#ffdcdc"/>
<path d="M236.1 212.3L230.7 198.9L235.8 195.8L241.2 209.1Z" fill="#5151ff"/>
<path d="M230.7 198.9L225.3 186.2L230.4 183.2L235.8 195.8Z" fill="#8383ff"/>
<path d="M101.2 102.7L96.3 98.8L102.1 97.8L107.0 101.5Z" fill="#ff3333"/>
<path d="M176.8 132.5L171.4 124.6L176.8 122.4L182.2 130.2Z" fill="#ff8989"/>
<path d="M111.9 105.8L107.0 101.5L112.7 100.2L117.7 104.4Z" fill="#ff3333"/>
<path d="M166.0 126.9L160.7 119.6L166.1 117.5L171.4 124.6Z" fill="#ff7474"/>
<path d="M122.7 109.2L117.7 104.4L123.3 102.9L128.4 107.6Z" fill="#ff3636"/>
<path d="M209.2 165.8L203.7 155.2L209.0 152.5L214.4 163.0Z" fill="#ffffff"/>
<path d="M193.0 148.0L187.6 138.7L192.9 136.2L198.3 145.4Z" fill="#ffbebe"/>
<path d="M155.2 121.7L149.9 115.1L155.4 113.2L160.7 119.6Z" fill="#ff6161"/>
<path d="M133.5 113.0L128.4 107.6L134.0 106.0L139.1 111.2Z" fill="#ff4242"/>
<path d="M144.3 117.1L139.1 111.2L144.7 109.4L149.9 115.1Z" fill="#ff5151"/>
<path d="M214.6 177.1L209.2 165.8L214.4 163.0L219.8 174.2Z" fill="#d9d9ff"/>
<path d="M182.2 141.2L176.8 132.5L182.2 130.2L187.6 138.7Z" fill="#ffa3a3"/>
<path d="M220.1 189.2L214.6 177.1L219.8 174.2L225.3 186.2Z" fill="#aeaeff"/>
<path d="M198.4 157.9L193.0 148.0L198.3 145.4L203.7 155.2Z" fill="#ffdddd"/>
<path d="M230.9 215.5L225.5 202.0L230.7 198.9L236.1 212.3Z" fill="#4f4fff"/>
<path d="M225.5 202.0L220.1 189.2L225.3 186.2L230.7 198.9Z" fill="#8181ff"/>
<path d="M171.4 134.9L166.0 126.9L171.4 124.6L176.8 132.5Z" fill="#ff8989"/>
<path d="M95.3 104.0L90.5 99.9L96.3 98.8L101.2 102.7Z" fill="#ff3333"/>
<path d="M160.5 129.2L155.2 121.7L160.7 119.6L166.0 126.9Z" fill="#ff7474"/>
<path d="M203.9 168.6L198.4 157.9L203.7 155.2L209.2 165.8Z" fill="#fdfdff"/>
<path d="M106.2 107.3L101.2 102.7L107.0 101.5L111.9 105.8Z" fill="#ff3333"/>
<path d="M187.6 150.6L182.2 141.2L187.6 138.7L193.0 148.0Z" fill="#ffbfbf"/>
<path d="M149.6 123.9L144.3 117.1L149.9 115.1L155.2 121.7Z" fill="#ff6060"/>
<path d="M117.0 110.9L111.9 105.8L117.7 104.4L122.7 109.2Z" fill="#ff3333"/>
<path d="M138.7 119.1L133.5 113.0L139.1 111.2L144.3 117.1Z" fill="#ff4f4f"/>
<path d="M127.9 114.8L122.7 109.2L128.4 107.6L133.5 113.0Z" fill="#ff4141"/>
<path d="M209.4 180.1L203.9 168.6L209.2 165.8L214.6 177.1Z" fill="#d6d6ff"/>
<path d="M176.8 143.7L171.4 134.9L176.8 132.5L182.2 141.2Z" fill="#ffa4a4"/>
<path d="M214.8 192.2L209.4 180.1L214.6 177.1L220.1 189.2Z" fill="#acacff"/>
<path d="M225.7 218.7L220.3 205.1L225.5 202.0L230.9 215.5Z" fill="#4c4cff"/>
<path d="M193.1 160.7L187.6 150.6L193.0 148.0L198.4 157.9Z" fill="#ffdfdf"/>
<path d="M220.3 205.1L214.8 192.2L220.1 189.2L225.5 202.0Z" fill="#7e7eff"/>
<path d="M165.9 137.4L160.5 129.2L166.0 126.9L171.4 134.9Z" fill="#ff8a8a"/>
<path d="M198.6 171.5L193.1 160.7L198.4 157.9L203.9 168.6Z" fill="#fbfbff"/>
<path d="M155.0 131.5L149.6 123.9L155.2 121.7L160.5 129.2Z" fill="#ff7474"/>
<path d="M182.2 153.2L176.8 143.7L182.2 141.2L187.6 150.6Z" fill="#ffc1c1"/>
<path d="M144.0 126.1L138.7 119.1L144.3 117.1L149.6 123.9Z" fill="#ff5f5f"/>
<path d="M100.3 108.8L95.3 104.0L101.2 102.7L106.2 107.3Z" fill="#ff3333"/>
<path d="M133.1 121.2L127.9 114.8L133.5 113.0L138.7 119.1Z" fill="#ff4d4d"/>
<path d="M111.2 112.6L106.2 107.3L111.9 105.8L117.0 110.9Z" fill="#ff3333"/>
<path d="M204.0 183.1L198.6 171.5L203.9 168.6L209.4 180.1Z" fill="#d4d4ff"/>
<path d="M122.2 116.7L117.0 110.9L122.7 109.2L127.9 114.8Z" fill="#ff3e3e"/>
<path d="M209.5 195.3L204.0 183.1L209.4 180.1L214.8 192.2Z" fill="#a9a9ff"/>
<path d="M171.3 146.3L165.9 137.4L171.4 134.9L176.8 143.7Z" fill="#ffa5a5"/>
<path d="M220.5 221.9L215.0 208.3L220.3 205.1L225.7 218.7Z" fill="#4949ff"/>
<path d="M215.0 208.3L209.5 195.3L214.8 192.2L220.3 205.1Z" fill="#7b7bff"/>
<path d="M187.7 163.5L182.2 153.2L187.6 150.6L193.1 160.7Z" fill="#ffe1e1"/>
<path d="M160.3 139.8L155.0 131.5L160.5 129.2L165.9 137.4Z" fill="#ff8a8a"/>
<path d="M193.2 174.4L187.7 163.5L193.1 160.7L198.6 171.5Z" fill="#f9f9ff"/>
<path d="M149.4 133.8L144.0 126.1L149.6 123.9L155.0 131.5Z" fill="#ff7373"/>
<path d="M176.8 155.9L171.3 146.3L176.8 143.7L182.2 153.2Z" fill="#ffc1c1"/>
<path d="M138.4 128.3L133.1 121.2L138.7 119.1L144.0 126.1Z" fill="#ff5f5f"/>
<path d="M198.7 186.1L193.2 174.4L198.6 171.5L204.0 183.1Z" fill="#d2d2ff"/>
<path d="M127.4 123.2L122.2 116.7L127.9 114.8L133.1 121.2Z" fill="#ff4d4d"/>
<path d="M105.4 114.3L100.3 108.8L106.2 107.3L111.2 112.6Z" fill="#ff3333"/>
<path d="M116.4 118.6L111.2 112.6L117.0 110.9L122.2 116.7Z" fill="#ff3c3c"/>
<path d="M204.2 198.4L198.7 186.1L204.0 183.1L209.5 195.3Z" fill="#a7a7ff"/>
<path d="M215.2 225.2L209.7 211.5L215.0 208.3L220.5 221.9Z" fill="#4646ff"/>
<path d="M165.8 148.9L160.3 139.8L165.9 137.4L171.3 146.3Z" fill="#ffa5a5"/>
<path d="M209.7 211.5L204.2 198.4L209.5 195.3L215.0 208.3Z" fill="#7979ff"/>
<path d="M182.2 166.3L176.8 155.9L182.2 153.2L187.7 163.5Z" fill="#ffe2e2"/>
<path d="M154.8 142.3L149.4 133.8L155.0 131.5L160.3 139.8Z" fill="#ff8b8b"/>
<path d="M187.7 177.3L182.2 166.3L187.7 163.5L193.2 174.4Z" fill="#f8f8ff"/>
<path d="M171.2 158.6L165.8 148.9L171.3 146.3L176.8 155.9Z" fill="#ffc3c3"/>
<path d="M143.7 136.1L138.4 128.3L144.0 126.1L149.4 133.8Z" fill="#ff7373"/>
<path d="M193.3 189.1L187.7 177.3L193.2 174.4L198.7 186.1Z" fill="#d0d0ff"/>
<path d="M132.7 130.5L127.4 123.2L133.1 121.2L138.4 128.3Z" fill="#ff5e5e"/>
<path d="M198.8 201.5L193.3 189.1L198.7 186.1L204.2 198.4Z" fill="#a5a5ff"/>
<path d="M209.8 228.5L204.3 214.7L209.7 211.5L215.2 225.2Z" fill="#4444ff"/>
<path d="M121.6 125.3L116.4 118.6L122.2 116.7L127.4 123.2Z" fill="#ff4b4b"/>
<path d="M204.3 214.7L198.8 201.5L204.2 198.4L209.7 211.5Z" fill="#7676ff"/>
<path d="M160.2 151.5L154.8 142.3L160.3 139.8L165.8 148.9Z" fill="#ffa5a5"/>
<path d="M110.6 120.5L105.4 114.3L111.2 112.6L116.4 118.6Z" fill="#ff3939"/>
<path d="M176.7 169.1L171.2 158.6L176.8 155.9L182.2 166.3Z" fill="#ffe4e4"/>
<path d="M149.1 144.8L143.7 136.1L149.4 133.8L154.8 142.3Z" fill="#ff8b8b"/>
<path d="M182.3 180.3L176.7 169.1L182.2 166.3L187.7 177.3Z" fill="#f5f5ff"/>
<path d="M165.7 161.3L160.2 151.5L165.8 148.9L171.2 158.6Z" fill="#ffc4c4"/>
<path d="M138.0 138.5L132.7 130.5L138.4 128.3L143.7 136.1Z" fill="#ff7373"/>
<path d="M187.8 192.1L182.3 180.3L187.7 177.3L193.3 189.1Z" fill="#cdcdff"/>
<path d="M193.3 204.7L187.8 192.1L193.3 189.1L198.8 201.5Z" fill="#a2a2ff"/>
<path d="M126.9 132.7L121.6 125.3L127.4 123.2L132.7 130.5Z" fill="#ff5d5d"/>
<path d="M204.4 231.8L198.9 217.9L204.3 214.7L209.8 228.5Z" fill="#4141ff"/>
<path d="M198.9 217.9L193.3 204.7L198.8 201.5L204.3 214.7Z" fill="#7373ff"/>
<path d="M115.8 127.4L110.6 120.5L116.4 118.6L121.6 125.3Z" fill="#ff4949"/>
<path d="M154.6 154.1L149.1 144.8L154.8 142.3L160.2 151.5Z" fill="#ffa6a6"/>
<path d="M171.2 171.9L165.7 161.3L171.2 158.6L176.7 169.1Z" fill="#ffe5e5"/>
<path d="M143.4 147.3L138.0 138.5L143.7 136.1L149.1 144.8Z" fill="#ff8c8c"/>
<path d="M176.7 183.2L171.2 171.9L176.7 169.1L182.3 180.3Z" fill="#f4f4ff"/>
<path d="M160.1 164.1L154.6 154.1L160.2 151.5L165.7 161.3Z" fill="#ffc5c5"/>
<path d="M182.3 195.2L176.7 183.2L182.3 180.3L187.8 192.1Z" fill="#cbcbff"/>
<path d="M132.3 140.9L126.9 132.7L132.7 130.5L138.0 138.5Z" fill="#ff7373"/>
<path d="M187.9 207.9L182.3 195.2L187.8 192.1L193.3 204.7Z" fill="#a0a0ff"/>
<path d="M199.0 235.1L193.4 221.2L198.9 217.9L204.4 231.8Z" fill="#3e3eff"/>
<path d="M193.4 221.2L187.9 207.9L193.3 204.7L198.9 217.9Z" fill="#7171ff"/>
<path d="M121.1 135.0L115.8 127.4L121.6 125.3L126.9 132.7Z" fill="#ff5d5d"/>
<path d="M165.6 174.8L160.1 164.1L165.7 161.3L171.2 171.9Z" fill="#ffe7e7"/>
<path d="M148.9 156.7L143.4 147.3L149.1 144.8L154.6 154.1Z" fill="#ffa7a7"/>
<path d="M171.2 186.2L165.6 174.8L171.2 171.9L176.7 183.2Z" fill="#f1f1ff"/>
<path d="M137.7 149.8L132.3 140.9L138.0 138.5L143.4 147.3Z" fill="#ff8c8c"/>
<path d="M154.4 166.9L148.9 156.7L154.6 154.1L160.1 164.1Z" fill="#ffc6c6"/>
<path d="M176.7 198.3L171.2 186.2L176.7 183.2L182.3 195.2Z" fill="#c9c9ff"/>
<path d="M126.5 143.3L121.1 135.0L126.9 132.7L132.3 140.9Z" fill="#ff7373"/>
<path d="M193.5 238.5L187.9 224.5L193.4 221.2L199.0 235.1Z" fill="#3b3bff"/>
<path d="M182.3 211.1L176.7 198.3L182.3 195.2L187.9 207.9Z" fill="#9d9dff"/>
<path d="M187.9 224.5L182.3 211.1L187.9 207.9L193.4 221.2Z" fill="#6e6eff"/>
<path d="M160.0 177.7L154.4 166.9L160.1 164.1L165.6 174.8Z" fill="#ffe9e9"/>
<path d="M143.2 159.4L137.7 149.8L143.4 147.3L148.9 156.7Z" fill="#ffa8a8"/>
<path d="M165.5 189.2L160.0 177.7L165.6 174.8L171.2 186.2Z" fill="#f0f0ff"/>
<path d="M131.9 152.4L126.5 143.3L132.3 140.9L137.7 149.8Z" fill="#ff8c8c"/>
<path d="M148.7 169.7L143.2 159.4L148.9 156.7L154.4 166.9Z" fill="#ffc8c8"/>
<path d="M171.1 201.4L165.5 189.2L171.2 186.2L176.7 198.3Z" fill="#c7c7ff"/>
<path d="M188.0 241.9L182.4 227.8L187.9 224.5L193.5 238.5Z" fill="#3939ff"/>
<path d="M176.7 214.3L171.1 201.4L176.7 198.3L182.3 211.1Z" fill="#9b9bff"/>
<path d="M182.4 227.8L176.7 214.3L182.3 211.1L187.9 224.5Z" fill="#6b6bff"/>
<path d="M154.3 180.6L148.7 169.7L154.4 166.9L160.0 177.7Z" fill="#ffeaea"/>
<path d="M137.4 162.1L131.9 152.4L137.7 149.8L143.2 159.4Z" fill="#ffa9a9"/>
<path d="M159.9 192.3L154.3 180.6L160.0 177.7L165.5 189.2Z" fill="#eeeeff"/>
<path d="M165.5 204.6L159.9 192.3L165.5 189.2L171.1 201.4Z" fill="#c5c5ff"/>
<path d="M142.9 172.5L137.4 162.1L143.2 159.4L148.7 169.7Z" fill="#ffc9c9"/>
<path d="M182.4 245.4L176.8 231.2L182.4 227.8L188.0 241.9Z" fill="#3535ff"/>
<path d="M171.1 217.6L165.5 204.6L171.1 201.4L176.7 214.3Z" fill="#9999ff"/>
<path d="M176.8 231.2L171.1 217.6L176.7 214.3L182.4 227.8Z" fill="#6969ff"/>
<path d="M148.5 183.6L142.9 172.5L148.7 169.7L154.3 180.6Z" fill="#ffecec"/>
<path d="M154.1 195.4L148.5 183.6L154.3 180.6L159.9 192.3Z" fill="#ececff"/>
<path d="M159.8 207.8L154.1 195.4L159.9 192.3L165.5 204.6Z" fill="#c2c2ff"/>
<path d="M176.8 248.9L171.1 234.6L176.8 231.2L182.4 245.4Z" fill="#3333ff"/>
<path d="M165.4 220.9L159.8 207.8L165.5 204.6L171.1 217.6Z" fill="#9696ff"/>
<path d="M171.1 234.6L165.4 220.9L171.1 217.6L176.8 231.2Z" fill="#6666ff"/>
</g>
<g stroke="#222" stroke-width="0.7" fill="none">
<path d="M60.6 43.1L137.0 87.4" />
<path d="M312.3 52.3L239.4 81.3" />
<path d="M173.3 240.1L173.5 268.2" />
</g>
<g stroke="#222" stroke-width="0.7" fill="none" opacity="0.75">
<path d="M137.0 87.4L172.4 108.0" />
<path d="M239.4 81.3L172.4 108.0" />
<path d="M172.4 108.0L173.3 240.1" />
</g>
<g font-family='"Liberation Sans", sans-serif' font-size="11.8" fill="#111" text-anchor="middle">
<text x="159.7" y="294.8" >1991</text>
<text x="138.5" y="277.5" >1995</text>
<text x="118.5" y="261.0" >1999</text>
<text x="99.4" y="245.4" >2003</text>
<text x="81.3" y="230.6" >2007</text>
<text x="64.1" y="216.5" >2011</text>
<text x="217.8" y="278.3" >0.00</text>
<text x="266.5" y="251.0" >0.02</text>
<text x="311.1" y="226.0" >0.04</text>
<text x="46.2" y="181.2" >−1.0</text>
<text x="43.2" y="149.8" >−0.5</text>
<text x="40.0" y="117.0" >0.0</text>
<text x="36.6" y="82.7" >0.5</text>
<text x="33.2" y="46.8" >1.0</text>
</g>
<g font-family='"Liberation Sans", sans-serif' font-size="12.5" fill="#111" text-anchor="middle">
<text x="12.8" y="117.3" transform="rotate(-90 12.8 117.3)">Scaled price</text>
<text x="77.7" y="265.0">Year</text>
<text x="297.2" y="266.7">Evolutionary</text>
<text x="297.2" y="282.0">distinctiveness</text>
</g>
<text x="2.0" y="28.5" font-family='"DejaVu Sans", sans-serif' font-size="30.5" fill="#000">(a)</text>
<g stroke="#222" stroke-width="0.7" fill="none">
<path d="M411.9 44.1L545.5 2.0" />
<path d="M545.5 2.0L663.6 53.3" />
<path d="M411.9 44.1L423.6 190.2" />
<path d="M663.6 53.3L651.4 201.5" />
<path d="M423.6 190.2L524.5 269.2" />
<path d="M524.5 269.2L651.4 201.5" />
<path d="M545.5 2.0L544.7 137.8" stroke-dasharray="1.4 1.9"/>
<path d="M423.6 190.2L544.7 137.8" stroke-dasharray="1.4 1.9"/>
<path d="M651.4 201.5L544.7 137.8" stroke-dasharray="1.4 1.9"/>
<path d="M525.1 269.2L517.3 281.2" />
<path d="M503.6 252.4L496.0 264.1" />
<path d="M483.2 236.5L475.8 247.9" />
<path d="M463.8 221.5L456.6 232.6" />
<path d="M445.4 207.1L438.4 218.0" />
<path d="M427.9 193.5L421.0 204.0" />
<path d="M551.5 255.0L557.9 267.6" />
<path d="M593.9 232.3L600.1 244.4" />
<path d="M633.2 211.3L639.3 222.9" />
<path d="M422.7 178.6L410.3 178.0" />
<path d="M420.2 147.2L407.5 146.6" />
<path d="M417.6 114.4L404.6 113.8" />
<path d="M414.8 80.0L401.6 79.5" />
<path d="M411.9 44.1L398.4 43.6" />
</g>
<g stroke="#000" stroke-width="0.48" stroke-linejoin="round">
<path d="M538.0 90.4L533.4 96.8L537.9 97.0L542.5 90.3Z" fill="#fff9f9"/>
<path d="M533.5 90.5L528.8 96.6L533.4 96.8L538.0 90.4Z" fill="#fff0f0"/>
<path d="M528.9 90.6L524.3 96.4L528.8 96.6L533.5 90.5Z" fill="#ffe7e7"/>
<path d="M542.8 85.0L538.0 90.4L542.5 90.3L547.3 84.6Z" fill="#ffcece"/>
<path d="M524.2 90.7L519.6 96.3L524.3 96.4L528.9 90.6Z" fill="#ffdede"/>
<path d="M538.2 85.3L533.5 90.5L538.0 90.4L542.8 85.0Z" fill="#ffc7c7"/>
<path d="M519.5 90.8L515.0 96.1L519.6 96.3L524.2 90.7Z" fill="#ffd5d5"/>
<path d="M533.5 85.7L528.9 90.6L533.5 90.5L538.2 85.3Z" fill="#ffc0c0"/>
<path d="M547.6 80.6L542.8 85.0L547.3 84.6L552.2 80.0Z" fill="#ffa9a9"/>
<path d="M514.8 90.9L510.2 95.9L515.0 96.1L519.5 90.8Z" fill="#ffcccc"/>
<path d="M528.9 86.1L524.2 90.7L528.9 90.6L533.5 85.7Z" fill="#ffb8b8"/>
<path d="M543.0 81.2L538.2 85.3L542.8 85.0L547.6 80.6Z" fill="#ffa4a4"/>
<path d="M510.0 91.0L505.5 95.7L510.2 95.9L514.8 90.9Z" fill="#ffc3c3"/>
<path d="M524.1 86.4L519.5 90.8L524.2 90.7L528.9 86.1Z" fill="#ffb1b1"/>
<path d="M538.3 81.8L533.5 85.7L538.2 85.3L543.0 81.2Z" fill="#ff9d9d"/>
<path d="M552.5 77.2L547.6 80.6L552.2 80.0L557.1 76.4Z" fill="#ff8b8b"/>
<path d="M505.1 91.1L500.6 95.5L505.5 95.7L510.0 91.0Z" fill="#ffbaba"/>
<path d="M519.4 86.8L514.8 90.9L519.5 90.8L524.1 86.4Z" fill="#ffa9a9"/>
<path d="M533.6 82.4L528.9 86.1L533.5 85.7L538.3 81.8Z" fill="#ff9898"/>
<path d="M547.9 78.1L543.0 81.2L547.6 80.6L552.5 77.2Z" fill="#ff8686"/>
<path d="M500.2 91.2L495.8 95.3L500.6 95.5L505.1 91.1Z" fill="#ffb1b1"/>
<path d="M514.6 87.2L510.0 91.0L514.8 90.9L519.4 86.8Z" fill="#ffa2a2"/>
<path d="M528.9 83.1L524.1 86.4L528.9 86.1L533.6 82.4Z" fill="#ff9191"/>
<path d="M543.2 78.9L538.3 81.8L543.0 81.2L547.9 78.1Z" fill="#ff8181"/>
<path d="M557.5 75.0L552.5 77.2L557.1 76.4L562.2 74.0Z" fill="#ff7171"/>
<path d="M552.9 76.1L547.9 78.1L552.5 77.2L557.5 75.0Z" fill="#ff6d6d"/>
<path d="M538.5 79.8L533.6 82.4L538.3 81.8L543.2 78.9Z" fill="#ff7d7d"/>
<path d="M524.1 83.7L519.4 86.8L524.1 86.4L528.9 83.1Z" fill="#ff8c8c"/>
<path d="M509.7 87.6L505.1 91.1L510.0 91.0L514.6 87.2Z" fill="#ff9b9b"/>
<path d="M495.3 91.3L490.8 95.1L495.8 95.3L500.2 91.2Z" fill="#ffa9a9"/>
<path d="M562.6 74.0L557.5 75.0L562.2 74.0L567.3 72.7Z" fill="#ff5d5d"/>
<path d="M548.2 77.2L543.2 78.9L547.9 78.1L552.9 76.1Z" fill="#ff6969"/>
<path d="M533.7 80.7L528.9 83.1L533.6 82.4L538.5 79.8Z" fill="#ff7777"/>
<path d="M519.3 84.3L514.6 87.2L519.4 86.8L524.1 83.7Z" fill="#ff8585"/>
<path d="M504.8 88.0L500.2 91.2L505.1 91.1L509.7 87.6Z" fill="#ff9393"/>
<path d="M490.3 91.4L485.9 94.9L490.8 95.1L495.3 91.3Z" fill="#ffa0a0"/>
<path d="M557.9 75.2L552.9 76.1L557.5 75.0L562.6 74.0Z" fill="#ff5a5a"/>
<path d="M543.4 78.3L538.5 79.8L543.2 78.9L548.2 77.2Z" fill="#ff6666"/>
<path d="M528.9 81.6L524.1 83.7L528.9 83.1L533.7 80.7Z" fill="#ff7272"/>
<path d="M514.4 85.0L509.7 87.6L514.6 87.2L519.3 84.3Z" fill="#ff8080"/>
<path d="M499.8 88.4L495.3 91.3L500.2 91.2L504.8 88.0Z" fill="#ff8c8c"/>
<path d="M485.2 91.5L480.8 94.7L485.9 94.9L490.3 91.4Z" fill="#ff9797"/>
<path d="M567.8 74.1L562.6 74.0L567.3 72.7L572.4 72.7Z" fill="#ff4f4f"/>
<path d="M553.2 76.5L548.2 77.2L552.9 76.1L557.9 75.2Z" fill="#ff5858"/>
<path d="M538.7 79.3L533.7 80.7L538.5 79.8L543.4 78.3Z" fill="#ff6262"/>
<path d="M524.1 82.4L519.3 84.3L524.1 83.7L528.9 81.6Z" fill="#ff6d6d"/>
<path d="M509.4 85.6L504.8 88.0L509.7 87.6L514.4 85.0Z" fill="#ff7979"/>
<path d="M494.8 88.8L490.3 91.4L495.3 91.3L499.8 88.4Z" fill="#ff8585"/>
<path d="M480.1 91.6L475.7 94.5L480.8 94.7L485.2 91.5Z" fill="#ff8e8e"/>
<path d="M563.1 75.5L557.9 75.2L562.6 74.0L567.8 74.1Z" fill="#ff4d4d"/>
<path d="M548.5 77.8L543.4 78.3L548.2 77.2L553.2 76.5Z" fill="#ff5555"/>
<path d="M533.8 80.5L528.9 81.6L533.7 80.7L538.7 79.3Z" fill="#ff5e5e"/>
<path d="M519.2 83.3L514.4 85.0L519.3 84.3L524.1 82.4Z" fill="#ff6969"/>
<path d="M573.0 75.5L567.8 74.1L572.4 72.7L577.6 73.9Z" fill="#ff4646"/>
<path d="M504.5 86.3L499.8 88.4L504.8 88.0L509.4 85.6Z" fill="#ff7373"/>
<path d="M489.7 89.2L485.2 91.5L490.3 91.4L494.8 88.8Z" fill="#ff7d7d"/>
<path d="M558.3 77.0L553.2 76.5L557.9 75.2L563.1 75.5Z" fill="#ff4b4b"/>
<path d="M474.9 91.7L470.6 94.3L475.7 94.5L480.1 91.6Z" fill="#ff8585"/>
<path d="M543.7 79.1L538.7 79.3L543.4 78.3L548.5 77.8Z" fill="#ff5252"/>
<path d="M529.0 81.6L524.1 82.4L528.9 81.6L533.8 80.5Z" fill="#ff5b5b"/>
<path d="M568.3 77.1L563.1 75.5L567.8 74.1L573.0 75.5Z" fill="#ff4545"/>
<path d="M514.2 84.3L509.4 85.6L514.4 85.0L519.2 83.3Z" fill="#ff6464"/>
<path d="M499.4 87.0L494.8 88.8L499.8 88.4L504.5 86.3Z" fill="#ff6d6d"/>
<path d="M553.6 78.5L548.5 77.8L553.2 76.5L558.3 77.0Z" fill="#ff4949"/>
<path d="M484.6 89.6L480.1 91.6L485.2 91.5L489.7 89.2Z" fill="#ff7575"/>
<path d="M578.2 78.1L573.0 75.5L577.6 73.9L582.9 76.4Z" fill="#ff4343"/>
<path d="M538.8 80.4L533.8 80.5L538.7 79.3L543.7 79.1Z" fill="#ff4f4f"/>
<path d="M469.7 91.8L465.4 94.1L470.6 94.3L474.9 91.7Z" fill="#ff7d7d"/>
<path d="M524.0 82.7L519.2 83.3L524.1 82.4L529.0 81.6Z" fill="#ff5757"/>
<path d="M563.5 78.7L558.3 77.0L563.1 75.5L568.3 77.1Z" fill="#ff4343"/>
<path d="M509.2 85.2L504.5 86.3L509.4 85.6L514.2 84.3Z" fill="#ff5f5f"/>
<path d="M548.8 79.9L543.7 79.1L548.5 77.8L553.6 78.5Z" fill="#ff4747"/>
<path d="M494.3 87.6L489.7 89.2L494.8 88.8L499.4 87.0Z" fill="#ff6767"/>
<path d="M573.5 79.8L568.3 77.1L573.0 75.5L578.2 78.1Z" fill="#ff4242"/>
<path d="M479.4 90.0L474.9 91.7L480.1 91.6L484.6 89.6Z" fill="#ff6e6e"/>
<path d="M533.9 81.7L529.0 81.6L533.8 80.5L538.8 80.4Z" fill="#ff4d4d"/>
<path d="M583.4 82.0L578.2 78.1L582.9 76.4L588.1 80.2Z" fill="#ff4545"/>
<path d="M558.7 80.3L553.6 78.5L558.3 77.0L563.5 78.7Z" fill="#ff4242"/>
<path d="M519.1 83.8L514.2 84.3L519.2 83.3L524.0 82.7Z" fill="#ff5353"/>
<path d="M464.5 92.0L460.1 93.9L465.4 94.1L469.7 91.8Z" fill="#ff7474"/>
<path d="M504.2 86.1L499.4 87.0L504.5 86.3L509.2 85.2Z" fill="#ff5a5a"/>
<path d="M543.9 81.4L538.8 80.4L543.7 79.1L548.8 79.9Z" fill="#ff4545"/>
<path d="M568.7 81.6L563.5 78.7L568.3 77.1L573.5 79.8Z" fill="#ff4141"/>
<path d="M489.2 88.3L484.6 89.6L489.7 89.2L494.3 87.6Z" fill="#ff6161"/>
<path d="M529.0 83.1L524.0 82.7L529.0 81.6L533.9 81.7Z" fill="#ff4949"/>
<path d="M578.7 83.9L573.5 79.8L578.2 78.1L583.4 82.0Z" fill="#ff4545"/>
<path d="M474.2 90.4L469.7 91.8L474.9 91.7L479.4 90.0Z" fill="#ff6767"/>
<path d="M588.7 87.3L583.4 82.0L588.1 80.2L593.4 85.4Z" fill="#ff4d4d"/>
<path d="M553.9 81.9L548.8 79.9L553.6 78.5L558.7 80.3Z" fill="#ff4141"/>
<path d="M514.1 85.0L509.2 85.2L514.2 84.3L519.1 83.8Z" fill="#ff4f4f"/>
<path d="M459.1 92.1L454.8 93.7L460.1 93.9L464.5 92.0Z" fill="#ff6b6b"/>
<path d="M499.1 87.0L494.3 87.6L499.4 87.0L504.2 86.1Z" fill="#ff5555"/>
<path d="M539.0 82.9L533.9 81.7L538.8 80.4L543.9 81.4Z" fill="#ff4343"/>
<path d="M563.9 83.3L558.7 80.3L563.5 78.7L568.7 81.6Z" fill="#ff4141"/>
<path d="M484.0 89.0L479.4 90.0L484.6 89.6L489.2 88.3Z" fill="#ff5b5b"/>
<path d="M574.0 85.7L568.7 81.6L573.5 79.8L578.7 83.9Z" fill="#ff4545"/>
<path d="M524.0 84.4L519.1 83.8L524.0 82.7L529.0 83.1Z" fill="#ff4747"/>
<path d="M594.0 94.0L588.7 87.3L593.4 85.4L598.7 92.0Z" fill="#ff5c5c"/>
<path d="M584.0 89.2L578.7 83.9L583.4 82.0L588.7 87.3Z" fill="#ff4d4d"/>
<path d="M549.0 83.6L543.9 81.4L548.8 79.9L553.9 81.9Z" fill="#ff4040"/>
<path d="M468.9 90.8L464.5 92.0L469.7 91.8L474.2 90.4Z" fill="#ff6060"/>
<path d="M639.5 205.5L634.7 189.0L639.2 187.4L643.9 204.1Z" fill="#3333ff"/>
<path d="M509.0 86.1L504.2 86.1L509.2 85.2L514.1 85.0Z" fill="#ff4c4c"/>
<path d="M559.1 85.1L553.9 81.9L558.7 80.3L563.9 83.3Z" fill="#ff4040"/>
<path d="M534.0 84.5L529.0 83.1L533.9 81.7L539.0 82.9Z" fill="#ff4141"/>
<path d="M493.9 88.0L489.2 88.3L494.3 87.6L499.1 87.0Z" fill="#ff5151"/>
<path d="M453.7 92.2L449.4 93.5L454.8 93.7L459.1 92.1Z" fill="#ff6262"/>
<path d="M599.2 102.0L594.0 94.0L598.7 92.0L603.9 100.0Z" fill="#ff7171"/>
<path d="M569.2 87.6L563.9 83.3L568.7 81.6L574.0 85.7Z" fill="#ff4545"/>
<path d="M589.3 95.9L584.0 89.2L588.7 87.3L594.0 94.0Z" fill="#ff5c5c"/>
<path d="M634.7 189.0L629.9 173.5L634.4 171.8L639.2 187.4Z" fill="#7070ff"/>
<path d="M579.2 91.2L574.0 85.7L578.7 83.9L584.0 89.2Z" fill="#ff4d4d"/>
<path d="M519.0 85.8L514.1 85.0L519.1 83.8L524.0 84.4Z" fill="#ff4444"/>
<path d="M478.8 89.7L474.2 90.4L479.4 90.0L484.0 89.0Z" fill="#ff5555"/>
<path d="M544.1 85.2L539.0 82.9L543.9 81.4L549.0 83.6Z" fill="#ff3e3e"/>
<path d="M604.5 111.3L599.2 102.0L603.9 100.0L609.1 109.3Z" fill="#ff8a8a"/>
<path d="M629.9 173.5L624.9 159.1L629.5 157.3L634.4 171.8Z" fill="#a7a7ff"/>
<path d="M635.1 207.0L630.2 190.6L634.7 189.0L639.5 205.5Z" fill="#3737ff"/>
<path d="M503.9 87.3L499.1 87.0L504.2 86.1L509.0 86.1Z" fill="#ff4848"/>
<path d="M463.6 91.2L459.1 92.1L464.5 92.0L468.9 90.8Z" fill="#ff5959"/>
<path d="M554.2 86.9L549.0 83.6L553.9 81.9L559.1 85.1Z" fill="#ff3f3f"/>
<path d="M609.6 121.7L604.5 111.3L609.1 109.3L614.3 119.8Z" fill="#ffaaaa"/>
<path d="M529.1 86.0L524.0 84.4L529.0 83.1L534.0 84.5Z" fill="#ff3f3f"/>
<path d="M594.5 104.0L589.3 95.9L594.0 94.0L599.2 102.0Z" fill="#ff7171"/>
<path d="M624.9 159.1L619.9 145.7L624.5 143.8L629.5 157.3Z" fill="#d9d9ff"/>
<path d="M614.8 133.2L609.6 121.7L614.3 119.8L619.4 131.3Z" fill="#ffcece"/>
<path d="M488.7 88.9L484.0 89.0L489.2 88.3L493.9 88.0Z" fill="#ff4c4c"/>
<path d="M619.9 145.7L614.8 133.2L619.4 131.3L624.5 143.8Z" fill="#fff7f7"/>
<path d="M564.3 89.5L559.1 85.1L563.9 83.3L569.2 87.6Z" fill="#ff4444"/>
<path d="M584.5 97.9L579.2 91.2L584.0 89.2L589.3 95.9Z" fill="#ff5d5d"/>
<path d="M448.3 92.3L444.0 93.2L449.4 93.5L453.7 92.2Z" fill="#ff5959"/>
<path d="M574.4 93.1L569.2 87.6L574.0 85.7L579.2 91.2Z" fill="#ff4d4d"/>
<path d="M630.2 190.6L625.3 175.3L629.9 173.5L634.7 189.0Z" fill="#7373ff"/>
<path d="M513.9 87.1L509.0 86.1L514.1 85.0L519.0 85.8Z" fill="#ff4141"/>
<path d="M539.2 86.9L534.0 84.5L539.0 82.9L544.1 85.2Z" fill="#ff3d3d"/>
<path d="M599.8 113.3L594.5 104.0L599.2 102.0L604.5 111.3Z" fill="#ff8a8a"/>
<path d="M473.5 90.4L468.9 90.8L474.2 90.4L478.8 89.7Z" fill="#ff4f4f"/>
<path d="M625.3 175.3L620.3 160.9L624.9 159.1L629.9 173.5Z" fill="#a9a9ff"/>
<path d="M498.7 88.5L493.9 88.0L499.1 87.0L503.9 87.3Z" fill="#ff4444"/>
<path d="M630.6 208.6L625.7 192.3L630.2 190.6L635.1 207.0Z" fill="#3b3bff"/>
<path d="M549.3 88.7L544.1 85.2L549.0 83.6L554.2 86.9Z" fill="#ff3e3e"/>
<path d="M605.0 123.7L599.8 113.3L604.5 111.3L609.6 121.7Z" fill="#ffa9a9"/>
<path d="M589.8 106.0L584.5 97.9L589.3 95.9L594.5 104.0Z" fill="#ff7171"/>
<path d="M458.2 91.6L453.7 92.2L459.1 92.1L463.6 91.2Z" fill="#ff5151"/>
<path d="M524.0 87.5L519.0 85.8L524.0 84.4L529.1 86.0Z" fill="#ff3d3d"/>
<path d="M620.3 160.9L615.3 147.6L619.9 145.7L624.9 159.1Z" fill="#dbdbff"/>
<path d="M610.1 135.2L605.0 123.7L609.6 121.7L614.8 133.2Z" fill="#ffcece"/>
<path d="M615.3 147.6L610.1 135.2L614.8 133.2L619.9 145.7Z" fill="#fff6f6"/>
<path d="M559.5 91.4L554.2 86.9L559.1 85.1L564.3 89.5Z" fill="#ff4444"/>
<path d="M579.7 99.9L574.4 93.1L579.2 91.2L584.5 97.9Z" fill="#ff5d5d"/>
<path d="M569.6 95.1L564.3 89.5L569.2 87.6L574.4 93.1Z" fill="#ff4d4d"/>
<path d="M483.5 89.9L478.8 89.7L484.0 89.0L488.7 88.9Z" fill="#ff4747"/>
<path d="M625.7 192.3L620.8 177.0L625.3 175.3L630.2 190.6Z" fill="#7575ff"/>
<path d="M508.8 88.5L503.9 87.3L509.0 86.1L513.9 87.1Z" fill="#ff3e3e"/>
<path d="M534.2 88.6L529.1 86.0L534.0 84.5L539.2 86.9Z" fill="#ff3c3c"/>
<path d="M595.0 115.3L589.8 106.0L594.5 104.0L599.8 113.3Z" fill="#ff8a8a"/>
<path d="M442.8 92.4L438.4 93.0L444.0 93.2L448.3 92.3Z" fill="#ff5151"/>
<path d="M468.1 91.1L463.6 91.2L468.9 90.8L473.5 90.4Z" fill="#ff4949"/>
<path d="M620.8 177.0L615.7 162.8L620.3 160.9L625.3 175.3Z" fill="#ababff"/>
<path d="M600.3 125.7L595.0 115.3L599.8 113.3L605.0 123.7Z" fill="#ffa9a9"/>
<path d="M544.3 90.5L539.2 86.9L544.1 85.2L549.3 88.7Z" fill="#ff3d3d"/>
<path d="M585.0 108.0L579.7 99.9L584.5 97.9L589.8 106.0Z" fill="#ff7171"/>
<path d="M493.5 89.7L488.7 88.9L493.9 88.0L498.7 88.5Z" fill="#ff4141"/>
<path d="M626.0 210.1L621.1 193.9L625.7 192.3L630.6 208.6Z" fill="#3f3fff"/>
<path d="M518.9 89.1L513.9 87.1L519.0 85.8L524.0 87.5Z" fill="#ff3b3b"/>
<path d="M615.7 162.8L610.6 149.5L615.3 147.6L620.3 160.9Z" fill="#dcdcff"/>
<path d="M605.5 137.2L600.3 125.7L605.0 123.7L610.1 135.2Z" fill="#ffcdcd"/>
<path d="M554.5 93.3L549.3 88.7L554.2 86.9L559.5 91.4Z" fill="#ff4343"/>
<path d="M610.6 149.5L605.5 137.2L610.1 135.2L615.3 147.6Z" fill="#fff5f5"/>
<path d="M574.9 102.0L569.6 95.1L574.4 93.1L579.7 99.9Z" fill="#ff5d5d"/>
<path d="M452.7 92.1L448.3 92.3L453.7 92.2L458.2 91.6Z" fill="#ff4949"/>
<path d="M564.7 97.1L559.5 91.4L564.3 89.5L569.6 95.1Z" fill="#ff4d4d"/>
<path d="M478.2 90.8L473.5 90.4L478.8 89.7L483.5 89.9Z" fill="#ff4242"/>
<path d="M590.3 117.4L585.0 108.0L589.8 106.0L595.0 115.3Z" fill="#ff8a8a"/>
<path d="M621.1 193.9L616.1 178.8L620.8 177.0L625.7 192.3Z" fill="#7979ff"/>
<path d="M529.1 90.3L524.0 87.5L529.1 86.0L534.2 88.6Z" fill="#ff3a3a"/>
<path d="M503.6 89.9L498.7 88.5L503.9 87.3L508.8 88.5Z" fill="#ff3b3b"/>
<path d="M437.2 92.5L432.9 92.8L438.4 93.0L442.8 92.4Z" fill="#ff4848"/>
<path d="M595.5 127.8L590.3 117.4L595.0 115.3L600.3 125.7Z" fill="#ffa9a9"/>
<path d="M616.1 178.8L611.0 164.7L615.7 162.8L620.8 177.0Z" fill="#adadff"/>
<path d="M539.3 92.3L534.2 88.6L539.2 86.9L544.3 90.5Z" fill="#ff3d3d"/>
<path d="M462.7 91.8L458.2 91.6L463.6 91.2L468.1 91.1Z" fill="#ff4343"/>
<path d="M580.2 110.1L574.9 102.0L579.7 99.9L585.0 108.0Z" fill="#ff7171"/>
<path d="M488.3 90.9L483.5 89.9L488.7 88.9L493.5 89.7Z" fill="#ff3d3d"/>
<path d="M621.5 211.6L616.5 195.6L621.1 193.9L626.0 210.1Z" fill="#4242ff"/>
<path d="M600.7 139.2L595.5 127.8L600.3 125.7L605.5 137.2Z" fill="#ffcdcd"/>
<path d="M611.0 164.7L605.9 151.5L610.6 149.5L615.7 162.8Z" fill="#ddddff"/>
<path d="M513.8 90.7L508.8 88.5L513.9 87.1L518.9 89.1Z" fill="#ff3939"/>
<path d="M549.6 95.2L544.3 90.5L549.3 88.7L554.5 93.3Z" fill="#ff4343"/>
<path d="M570.0 104.0L564.7 97.1L569.6 95.1L574.9 102.0Z" fill="#ff5d5d"/>
<path d="M605.9 151.5L600.7 139.2L605.5 137.2L610.6 149.5Z" fill="#fff5f5"/>
<path d="M559.8 99.1L554.5 93.3L559.5 91.4L564.7 97.1Z" fill="#ff4d4d"/>
<path d="M447.2 92.5L442.8 92.4L448.3 92.3L452.7 92.1Z" fill="#ff4242"/>
<path d="M585.5 119.4L580.2 110.1L585.0 108.0L590.3 117.4Z" fill="#ff8a8a"/>
<path d="M524.0 92.1L518.9 89.1L524.0 87.5L529.1 90.3Z" fill="#ff3939"/>
<path d="M472.8 91.8L468.1 91.1L473.5 90.4L478.2 90.8Z" fill="#ff3d3d"/>
<path d="M616.5 195.6L611.5 180.6L616.1 178.8L621.1 193.9Z" fill="#7c7cff"/>
<path d="M498.4 91.3L493.5 89.7L498.7 88.5L503.6 89.9Z" fill="#ff3939"/>
<path d="M590.7 129.8L585.5 119.4L590.3 117.4L595.5 127.8Z" fill="#ffa9a9"/>
<path d="M575.3 112.2L570.0 104.0L574.9 102.0L580.2 110.1Z" fill="#ff7171"/>
<path d="M534.3 94.2L529.1 90.3L534.2 88.6L539.3 92.3Z" fill="#ff3c3c"/>
<path d="M611.5 180.6L606.3 166.5L611.0 164.7L616.1 178.8Z" fill="#b0b0ff"/>
<path d="M596.0 141.2L590.7 129.8L595.5 127.8L600.7 139.2Z" fill="#ffcdcd"/>
<path d="M457.3 92.6L452.7 92.1L458.2 91.6L462.7 91.8Z" fill="#ff3d3d"/>
<path d="M431.6 92.7L427.2 92.6L432.9 92.8L437.2 92.5Z" fill="#ff3f3f"/>
<path d="M544.6 97.1L539.3 92.3L544.3 90.5L549.6 95.2Z" fill="#ff4343"/>
<path d="M606.3 166.5L601.2 153.4L605.9 151.5L611.0 164.7Z" fill="#dfdfff"/>
<path d="M565.1 106.1L559.8 99.1L564.7 97.1L570.0 104.0Z" fill="#ff5d5d"/>
<path d="M508.6 92.3L503.6 89.9L508.8 88.5L513.8 90.7Z" fill="#ff3737"/>
<path d="M483.0 92.1L478.2 90.8L483.5 89.9L488.3 90.9Z" fill="#ff3939"/>
<path d="M601.2 153.4L596.0 141.2L600.7 139.2L605.9 151.5Z" fill="#fff4f4"/>
<path d="M616.8 213.2L611.8 197.3L616.5 195.6L621.5 211.6Z" fill="#4646ff"/>
<path d="M554.8 101.1L549.6 95.2L554.5 93.3L559.8 99.1Z" fill="#ff4d4d"/>
<path d="M580.6 121.5L575.3 112.2L580.2 110.1L585.5 119.4Z" fill="#ff8b8b"/>
<path d="M518.9 93.8L513.8 90.7L518.9 89.1L524.0 92.1Z" fill="#ff3838"/>
<path d="M611.8 197.3L606.7 182.4L611.5 180.6L616.5 195.6Z" fill="#7e7eff"/>
<path d="M441.6 93.0L437.2 92.5L442.8 92.4L447.2 92.5Z" fill="#ff3b3b"/>
<path d="M467.4 92.8L462.7 91.8L468.1 91.1L472.8 91.8Z" fill="#ff3939"/>
<path d="M493.2 92.7L488.3 90.9L493.5 89.7L498.4 91.3Z" fill="#ff3535"/>
<path d="M585.9 131.9L580.6 121.5L585.5 119.4L590.7 129.8Z" fill="#ffa9a9"/>
<path d="M570.4 114.3L565.1 106.1L570.0 104.0L575.3 112.2Z" fill="#ff7171"/>
<path d="M529.2 96.0L524.0 92.1L529.1 90.3L534.3 94.2Z" fill="#ff3b3b"/>
<path d="M606.7 182.4L601.6 168.4L606.3 166.5L611.5 180.6Z" fill="#b2b2ff"/>
<path d="M591.1 143.2L585.9 131.9L590.7 129.8L596.0 141.2Z" fill="#ffcccc"/>
<path d="M560.1 108.1L554.8 101.1L559.8 99.1L565.1 106.1Z" fill="#ff5d5d"/>
<path d="M539.5 99.1L534.3 94.2L539.3 92.3L544.6 97.1Z" fill="#ff4242"/>
<path d="M601.6 168.4L596.4 155.4L601.2 153.4L606.3 166.5Z" fill="#e1e1ff"/>
<path d="M549.8 103.1L544.6 97.1L549.6 95.2L554.8 101.1Z" fill="#ff4d4d"/>
<path d="M596.4 155.4L591.1 143.2L596.0 141.2L601.2 153.4Z" fill="#fff2f2"/>
<path d="M503.4 93.9L498.4 91.3L503.6 89.9L508.6 92.3Z" fill="#ff3535"/>
<path d="M477.6 93.3L472.8 91.8L478.2 90.8L483.0 92.1Z" fill="#ff3535"/>
<path d="M451.8 93.3L447.2 92.5L452.7 92.1L457.3 92.6Z" fill="#ff3737"/>
<path d="M612.2 214.8L607.1 199.0L611.8 197.3L616.8 213.2Z" fill="#4a4aff"/>
<path d="M425.9 92.8L421.5 92.3L427.2 92.6L431.6 92.7Z" fill="#ff3636"/>
<path d="M575.7 123.6L570.4 114.3L575.3 112.2L580.6 121.5Z" fill="#ff8b8b"/>
<path d="M513.7 95.6L508.6 92.3L513.8 90.7L518.9 93.8Z" fill="#ff3636"/>
<path d="M607.1 199.0L602.0 184.2L606.7 182.4L611.8 197.3Z" fill="#8181ff"/>
<path d="M487.8 94.2L483.0 92.1L488.3 90.9L493.2 92.7Z" fill="#ff3333"/>
<path d="M581.0 134.0L575.7 123.6L580.6 121.5L585.9 131.9Z" fill="#ffa9a9"/>
<path d="M565.5 116.4L560.1 108.1L565.1 106.1L570.4 114.3Z" fill="#ff7171"/>
<path d="M461.9 93.8L457.3 92.6L462.7 91.8L467.4 92.8Z" fill="#ff3434"/>
<path d="M524.0 97.9L518.9 93.8L524.0 92.1L529.2 96.0Z" fill="#ff3a3a"/>
<path d="M436.0 93.4L431.6 92.7L437.2 92.5L441.6 93.0Z" fill="#ff3434"/>
<path d="M602.0 184.2L596.8 170.4L601.6 168.4L606.7 182.4Z" fill="#b4b4ff"/>
<path d="M586.3 145.3L581.0 134.0L585.9 131.9L591.1 143.2Z" fill="#ffcbcb"/>
<path d="M555.1 110.2L549.8 103.1L554.8 101.1L560.1 108.1Z" fill="#ff5d5d"/>
<path d="M534.4 101.1L529.2 96.0L534.3 94.2L539.5 99.1Z" fill="#ff4242"/>
<path d="M544.8 105.2L539.5 99.1L544.6 97.1L549.8 103.1Z" fill="#ff4d4d"/>
<path d="M596.8 170.4L591.6 157.4L596.4 155.4L601.6 168.4Z" fill="#e2e2ff"/>
<path d="M591.6 157.4L586.3 145.3L591.1 143.2L596.4 155.4Z" fill="#fff1f1"/>
<path d="M498.1 95.5L493.2 92.7L498.4 91.3L503.4 93.9Z" fill="#ff3333"/>
<path d="M472.2 94.6L467.4 92.8L472.8 91.8L477.6 93.3Z" fill="#ff3333"/>
<path d="M570.8 125.7L565.5 116.4L570.4 114.3L575.7 123.6Z" fill="#ff8b8b"/>
<path d="M607.4 216.3L602.3 200.7L607.1 199.0L612.2 214.8Z" fill="#4e4eff"/>
<path d="M446.2 94.0L441.6 93.0L447.2 92.5L451.8 93.3Z" fill="#ff3333"/>
<path d="M508.5 97.3L503.4 93.9L508.6 92.3L513.7 95.6Z" fill="#ff3535"/>
<path d="M420.1 92.9L415.8 92.1L421.5 92.3L425.9 92.8Z" fill="#ff3333"/>
<path d="M576.1 136.1L570.8 125.7L575.7 123.6L581.0 134.0Z" fill="#ffa9a9"/>
<path d="M560.5 118.5L555.1 110.2L560.1 108.1L565.5 116.4Z" fill="#ff7171"/>
<path d="M602.3 200.7L597.2 186.1L602.0 184.2L607.1 199.0Z" fill="#8585ff"/>
<path d="M482.5 95.6L477.6 93.3L483.0 92.1L487.8 94.2Z" fill="#ff3333"/>
<path d="M518.9 99.8L513.7 95.6L518.9 93.8L524.0 97.9Z" fill="#ff3939"/>
<path d="M456.4 94.8L451.8 93.3L457.3 92.6L461.9 93.8Z" fill="#ff3333"/>
<path d="M550.1 112.3L544.8 105.2L549.8 103.1L555.1 110.2Z" fill="#ff5d5d"/>
<path d="M581.4 147.3L576.1 136.1L581.0 134.0L586.3 145.3Z" fill="#ffcbcb"/>
<path d="M529.3 103.1L524.0 97.9L529.2 96.0L534.4 101.1Z" fill="#ff4141"/>
<path d="M597.2 186.1L591.9 172.3L596.8 170.4L602.0 184.2Z" fill="#b6b6ff"/>
<path d="M539.7 107.2L534.4 101.1L539.5 99.1L544.8 105.2Z" fill="#ff4d4d"/>
<path d="M430.3 93.9L425.9 92.8L431.6 92.7L436.0 93.4Z" fill="#ff3333"/>
<path d="M586.7 159.4L581.4 147.3L586.3 145.3L591.6 157.4Z" fill="#fff1f1"/>
<path d="M591.9 172.3L586.7 159.4L591.6 157.4L596.8 170.4Z" fill="#e4e4ff"/>
<path d="M492.8 97.1L487.8 94.2L493.2 92.7L498.1 95.5Z" fill="#ff3333"/>
<path d="M565.8 127.8L560.5 118.5L565.5 116.4L570.8 125.7Z" fill="#ff8b8b"/>
<path d="M466.7 95.8L461.9 93.8L467.4 92.8L472.2 94.6Z" fill="#ff3333"/>
<path d="M602.7 218.0L597.5 202.5L602.3 200.7L607.4 216.3Z" fill="#5252ff"/>
<path d="M503.2 99.1L498.1 95.5L503.4 93.9L508.5 97.3Z" fill="#ff3434"/>
<path d="M440.6 94.8L436.0 93.4L441.6 93.0L446.2 94.0Z" fill="#ff3333"/>
<path d="M555.4 120.6L550.1 112.3L555.1 110.2L560.5 118.5Z" fill="#ff7171"/>
<path d="M571.1 138.2L565.8 127.8L570.8 125.7L576.1 136.1Z" fill="#ffa9a9"/>
<path d="M597.5 202.5L592.3 187.9L597.2 186.1L602.3 200.7Z" fill="#8888ff"/>
<path d="M513.6 101.8L508.5 97.3L513.7 95.6L518.9 99.8Z" fill="#ff3939"/>
<path d="M477.0 97.1L472.2 94.6L477.6 93.3L482.5 95.6Z" fill="#ff3333"/>
<path d="M545.0 114.5L539.7 107.2L544.8 105.2L550.1 112.3Z" fill="#ff5d5d"/>
<path d="M576.5 149.4L571.1 138.2L576.1 136.1L581.4 147.3Z" fill="#ffcaca"/>
<path d="M524.1 105.1L518.9 99.8L524.0 97.9L529.3 103.1Z" fill="#ff4141"/>
<path d="M534.5 109.3L529.3 103.1L534.4 101.1L539.7 107.2Z" fill="#ff4d4d"/>
<path d="M450.8 95.8L446.2 94.0L451.8 93.3L456.4 94.8Z" fill="#ff3333"/>
<path d="M592.3 187.9L587.1 174.3L591.9 172.3L597.2 186.1Z" fill="#b9b9ff"/>
<path d="M581.8 161.4L576.5 149.4L581.4 147.3L586.7 159.4Z" fill="#fff0f0"/>
<path d="M587.1 174.3L581.8 161.4L586.7 159.4L591.9 172.3Z" fill="#e5e5ff"/>
<path d="M487.4 98.8L482.5 95.6L487.8 94.2L492.8 97.1Z" fill="#ff3333"/>
<path d="M560.8 130.0L555.4 120.6L560.5 118.5L565.8 127.8Z" fill="#ff8b8b"/>
<path d="M424.6 94.3L420.1 92.9L425.9 92.8L430.3 93.9Z" fill="#ff3333"/>
<path d="M461.2 97.1L456.4 94.8L461.9 93.8L466.7 95.8Z" fill="#ff3333"/>
<path d="M597.9 219.6L592.7 204.2L597.5 202.5L602.7 218.0Z" fill="#5656ff"/>
<path d="M497.9 100.9L492.8 97.1L498.1 95.5L503.2 99.1Z" fill="#ff3333"/>
<path d="M550.3 122.8L545.0 114.5L550.1 112.3L555.4 120.6Z" fill="#ff7272"/>
<path d="M566.1 140.3L560.8 130.0L565.8 127.8L571.1 138.2Z" fill="#ffa9a9"/>
<path d="M434.9 95.6L430.3 93.9L436.0 93.4L440.6 94.8Z" fill="#ff3333"/>
<path d="M508.3 103.7L503.2 99.1L508.5 97.3L513.6 101.8Z" fill="#ff3939"/>
<path d="M592.7 204.2L587.4 189.8L592.3 187.9L597.5 202.5Z" fill="#8a8aff"/>
<path d="M539.9 116.6L534.5 109.3L539.7 107.2L545.0 114.5Z" fill="#ff5d5d"/>
<path d="M471.6 98.6L466.7 95.8L472.2 94.6L477.0 97.1Z" fill="#ff3333"/>
<path d="M571.5 151.5L566.1 140.3L571.1 138.2L576.5 149.4Z" fill="#ffc9c9"/>
<path d="M518.8 107.1L513.6 101.8L518.9 99.8L524.1 105.1Z" fill="#ff4141"/>
<path d="M529.4 111.4L524.1 105.1L529.3 103.1L534.5 109.3Z" fill="#ff4d4d"/>
<path d="M587.4 189.8L582.1 176.2L587.1 174.3L592.3 187.9Z" fill="#babaff"/>
<path d="M576.8 163.5L571.5 151.5L576.5 149.4L581.8 161.4Z" fill="#ffefef"/>
<path d="M582.1 176.2L576.8 163.5L581.8 161.4L587.1 174.3Z" fill="#e7e7ff"/>
<path d="M445.2 96.9L440.6 94.8L446.2 94.0L450.8 95.8Z" fill="#ff3333"/>
<path d="M555.7 132.2L550.3 122.8L555.4 120.6L560.8 130.0Z" fill="#ff8b8b"/>
<path d="M482.0 100.4L477.0 97.1L482.5 95.6L487.4 98.8Z" fill="#ff3333"/>
<path d="M492.5 102.8L487.4 98.8L492.8 97.1L497.9 100.9Z" fill="#ff3333"/>
<path d="M455.6 98.3L450.8 95.8L456.4 94.8L461.2 97.1Z" fill="#ff3333"/>
<path d="M545.2 125.0L539.9 116.6L545.0 114.5L550.3 122.8Z" fill="#ff7272"/>
<path d="M593.0 221.2L587.8 206.0L592.7 204.2L597.9 219.6Z" fill="#5959ff"/>
<path d="M561.1 142.5L555.7 132.2L560.8 130.0L566.1 140.3Z" fill="#ffa8a8"/>
<path d="M503.0 105.6L497.9 100.9L503.2 99.1L508.3 103.7Z" fill="#ff3838"/>
<path d="M534.7 118.8L529.4 111.4L534.5 109.3L539.9 116.6Z" fill="#ff5d5d"/>
<path d="M429.1 96.3L424.6 94.3L430.3 93.9L434.9 95.6Z" fill="#ff3333"/>
<path d="M513.6 109.2L508.3 103.7L513.6 101.8L518.8 107.1Z" fill="#ff4141"/>
<path d="M566.4 153.6L561.1 142.5L566.1 140.3L571.5 151.5Z" fill="#ffc9c9"/>
<path d="M587.8 206.0L582.5 191.7L587.4 189.8L592.7 204.2Z" fill="#8d8dff"/>
<path d="M524.1 113.5L518.8 107.1L524.1 105.1L529.4 111.4Z" fill="#ff4d4d"/>
<path d="M466.1 100.1L461.2 97.1L466.7 95.8L471.6 98.6Z" fill="#ff3333"/>
<path d="M571.8 165.6L566.4 153.6L571.5 151.5L576.8 163.5Z" fill="#ffeeee"/>
<path d="M582.5 191.7L577.1 178.2L582.1 176.2L587.4 189.8Z" fill="#bdbdff"/>
<path d="M577.1 178.2L571.8 165.6L576.8 163.5L582.1 176.2Z" fill="#e8e8ff"/>
<path d="M550.6 134.4L545.2 125.0L550.3 122.8L555.7 132.2Z" fill="#ff8b8b"/>
<path d="M439.5 97.9L434.9 95.6L440.6 94.8L445.2 96.9Z" fill="#ff3333"/>
<path d="M476.5 102.1L471.6 98.6L477.0 97.1L482.0 100.4Z" fill="#ff3333"/>
<path d="M540.0 127.2L534.7 118.8L539.9 116.6L545.2 125.0Z" fill="#ff7272"/>
<path d="M487.1 104.6L482.0 100.4L487.4 98.8L492.5 102.8Z" fill="#ff3333"/>
<path d="M556.0 144.6L550.6 134.4L555.7 132.2L561.1 142.5Z" fill="#ffa8a8"/>
<path d="M450.0 99.6L445.2 96.9L450.8 95.8L455.6 98.3Z" fill="#ff3333"/>
<path d="M588.1 222.9L582.8 207.8L587.8 206.0L593.0 221.2Z" fill="#5d5dff"/>
<path d="M497.6 107.6L492.5 102.8L497.9 100.9L503.0 105.6Z" fill="#ff3737"/>
<path d="M529.4 121.0L524.1 113.5L529.4 111.4L534.7 118.8Z" fill="#ff5d5d"/>
<path d="M508.2 111.3L503.0 105.6L508.3 103.7L513.6 109.2Z" fill="#ff4141"/>
<path d="M561.3 155.8L556.0 144.6L561.1 142.5L566.4 153.6Z" fill="#ffc9c9"/>
<path d="M518.8 115.7L513.6 109.2L518.8 107.1L524.1 113.5Z" fill="#ff4d4d"/>
<path d="M582.8 207.8L577.5 193.6L582.5 191.7L587.8 206.0Z" fill="#9191ff"/>
<path d="M460.5 101.6L455.6 98.3L461.2 97.1L466.1 100.1Z" fill="#ff3333"/>
<path d="M566.7 167.6L561.3 155.8L566.4 153.6L571.8 165.6Z" fill="#ffeded"/>
<path d="M545.4 136.6L540.0 127.2L545.2 125.0L550.6 134.4Z" fill="#ff8b8b"/>
<path d="M577.5 193.6L572.1 180.2L577.1 178.2L582.5 191.7Z" fill="#bfbfff"/>
<path d="M572.1 180.2L566.7 167.6L571.8 165.6L577.1 178.2Z" fill="#e9e9ff"/>
<path d="M471.0 103.8L466.1 100.1L471.6 98.6L476.5 102.1Z" fill="#ff3333"/>
<path d="M433.8 99.0L429.1 96.3L434.9 95.6L439.5 97.9Z" fill="#ff3333"/>
<path d="M534.8 129.4L529.4 121.0L534.7 118.8L540.0 127.2Z" fill="#ff7272"/>
<path d="M550.8 146.8L545.4 136.6L550.6 134.4L556.0 144.6Z" fill="#ffa8a8"/>
<path d="M481.6 106.4L476.5 102.1L482.0 100.4L487.1 104.6Z" fill="#ff3333"/>
<path d="M444.3 100.9L439.5 97.9L445.2 96.9L450.0 99.6Z" fill="#ff3333"/>
<path d="M524.2 123.2L518.8 115.7L524.1 113.5L529.4 121.0Z" fill="#ff5e5e"/>
<path d="M492.2 109.6L487.1 104.6L492.5 102.8L497.6 107.6Z" fill="#ff3636"/>
<path d="M583.1 224.6L577.8 209.6L582.8 207.8L588.1 222.9Z" fill="#6161ff"/>
<path d="M502.8 113.4L497.6 107.6L503.0 105.6L508.2 111.3Z" fill="#ff4040"/>
<path d="M513.5 117.9L508.2 111.3L513.6 109.2L518.8 115.7Z" fill="#ff4d4d"/>
<path d="M556.2 157.9L550.8 146.8L556.0 144.6L561.3 155.8Z" fill="#ffc9c9"/>
<path d="M577.8 209.6L572.4 195.5L577.5 193.6L582.8 207.8Z" fill="#9393ff"/>
<path d="M454.8 103.1L450.0 99.6L455.6 98.3L460.5 101.6Z" fill="#ff3333"/>
<path d="M540.2 138.8L534.8 129.4L540.0 127.2L545.4 136.6Z" fill="#ff8b8b"/>
<path d="M561.6 169.7L556.2 157.9L561.3 155.8L566.7 167.6Z" fill="#ffecec"/>
<path d="M572.4 195.5L567.0 182.3L572.1 180.2L577.5 193.6Z" fill="#c1c1ff"/>
<path d="M567.0 182.3L561.6 169.7L566.7 167.6L572.1 180.2Z" fill="#ebebff"/>
<path d="M465.4 105.5L460.5 101.6L466.1 100.1L471.0 103.8Z" fill="#ff3333"/>
<path d="M529.5 131.6L524.2 123.2L529.4 121.0L534.8 129.4Z" fill="#ff7272"/>
<path d="M545.6 149.1L540.2 138.8L545.4 136.6L550.8 146.8Z" fill="#ffa8a8"/>
<path d="M476.1 108.3L471.0 103.8L476.5 102.1L481.6 106.4Z" fill="#ff3333"/>
<path d="M518.8 125.4L513.5 117.9L518.8 115.7L524.2 123.2Z" fill="#ff5e5e"/>
<path d="M486.7 111.6L481.6 106.4L487.1 104.6L492.2 109.6Z" fill="#ff3535"/>
<path d="M508.1 120.0L502.8 113.4L508.2 111.3L513.5 117.9Z" fill="#ff4d4d"/>
<path d="M438.5 102.2L433.8 99.0L439.5 97.9L444.3 100.9Z" fill="#ff3333"/>
<path d="M497.4 115.5L492.2 109.6L497.6 107.6L502.8 113.4Z" fill="#ff4040"/>
<path d="M551.0 160.1L545.6 149.1L550.8 146.8L556.2 157.9Z" fill="#ffc8c8"/>
<path d="M578.1 226.2L572.7 211.5L577.8 209.6L583.1 224.6Z" fill="#6565ff"/>
<path d="M534.9 141.0L529.5 131.6L534.8 129.4L540.2 138.8Z" fill="#ff8b8b"/>
<path d="M556.5 171.9L551.0 160.1L556.2 157.9L561.6 169.7Z" fill="#ffebeb"/>
<path d="M572.7 211.5L567.3 197.5L572.4 195.5L577.8 209.6Z" fill="#9696ff"/>
<path d="M449.2 104.6L444.3 100.9L450.0 99.6L454.8 103.1Z" fill="#ff3333"/>
<path d="M561.9 184.3L556.5 171.9L561.6 169.7L567.0 182.3Z" fill="#ededff"/>
<path d="M567.3 197.5L561.9 184.3L567.0 182.3L572.4 195.5Z" fill="#c3c3ff"/>
<path d="M459.8 107.2L454.8 103.1L460.5 101.6L465.4 105.5Z" fill="#ff3333"/>
<path d="M524.2 133.9L518.8 125.4L524.2 123.2L529.5 131.6Z" fill="#ff7373"/>
<path d="M540.4 151.3L534.9 141.0L540.2 138.8L545.6 149.1Z" fill="#ffa8a8"/>
<path d="M470.5 110.2L465.4 105.5L471.0 103.8L476.1 108.3Z" fill="#ff3333"/>
<path d="M513.5 127.6L508.1 120.0L513.5 117.9L518.8 125.4Z" fill="#ff5e5e"/>
<path d="M481.2 113.6L476.1 108.3L481.6 106.4L486.7 111.6Z" fill="#ff3535"/>
<path d="M502.7 122.2L497.4 115.5L502.8 113.4L508.1 120.0Z" fill="#ff4d4d"/>
<path d="M491.9 117.6L486.7 111.6L492.2 109.6L497.4 115.5Z" fill="#ff4040"/>
<path d="M545.8 162.3L540.4 151.3L545.6 149.1L551.0 160.1Z" fill="#ffc7c7"/>
<path d="M573.0 228.0L567.6 213.3L572.7 211.5L578.1 226.2Z" fill="#6969ff"/>
<path d="M529.6 143.3L524.2 133.9L529.5 131.6L534.9 141.0Z" fill="#ff8b8b"/>
<path d="M551.3 174.0L545.8 162.3L551.0 160.1L556.5 171.9Z" fill="#ffeaea"/>
<path d="M567.6 213.3L562.2 199.5L567.3 197.5L572.7 211.5Z" fill="#9999ff"/>
<path d="M443.4 106.2L438.5 102.2L444.3 100.9L449.2 104.6Z" fill="#ff3333"/>
<path d="M556.7 186.4L551.3 174.0L556.5 171.9L561.9 184.3Z" fill="#eeeeff"/>
<path d="M562.2 199.5L556.7 186.4L561.9 184.3L567.3 197.5Z" fill="#c5c5ff"/>
<path d="M518.9 136.2L513.5 127.6L518.8 125.4L524.2 133.9Z" fill="#ff7373"/>
<path d="M454.1 109.0L449.2 104.6L454.8 103.1L459.8 107.2Z" fill="#ff3333"/>
<path d="M535.1 153.6L529.6 143.3L534.9 141.0L540.4 151.3Z" fill="#ffa7a7"/>
<path d="M464.8 112.1L459.8 107.2L465.4 105.5L470.5 110.2Z" fill="#ff3333"/>
<path d="M508.0 129.9L502.7 122.2L508.1 120.0L513.5 127.6Z" fill="#ff5e5e"/>
<path d="M475.6 115.7L470.5 110.2L476.1 108.3L481.2 113.6Z" fill="#ff3434"/>
<path d="M497.2 124.5L491.9 117.6L497.4 115.5L502.7 122.2Z" fill="#ff4d4d"/>
<path d="M486.4 119.8L481.2 113.6L486.7 111.6L491.9 117.6Z" fill="#ff3f3f"/>
<path d="M540.6 164.5L535.1 153.6L540.4 151.3L545.8 162.3Z" fill="#ffc7c7"/>
<path d="M524.3 145.6L518.9 136.2L524.2 133.9L529.6 143.3Z" fill="#ff8b8b"/>
<path d="M567.9 229.7L562.5 215.2L567.6 213.3L573.0 228.0Z" fill="#6d6dff"/>
<path d="M546.0 176.2L540.6 164.5L545.8 162.3L551.3 174.0Z" fill="#ffe9e9"/>
<path d="M551.5 188.5L546.0 176.2L551.3 174.0L556.7 186.4Z" fill="#f0f0ff"/>
<path d="M562.5 215.2L557.0 201.5L562.2 199.5L567.6 213.3Z" fill="#9c9cff"/>
<path d="M557.0 201.5L551.5 188.5L556.7 186.4L562.2 199.5Z" fill="#c8c8ff"/>
<path d="M513.4 138.5L508.0 129.9L513.5 127.6L518.9 136.2Z" fill="#ff7373"/>
<path d="M529.7 155.8L524.3 145.6L529.6 143.3L535.1 153.6Z" fill="#ffa7a7"/>
<path d="M448.4 110.8L443.4 106.2L449.2 104.6L454.1 109.0Z" fill="#ff3333"/>
<path d="M502.6 132.2L497.2 124.5L502.7 122.2L508.0 129.9Z" fill="#ff5e5e"/>
<path d="M459.2 114.1L454.1 109.0L459.8 107.2L464.8 112.1Z" fill="#ff3333"/>
<path d="M470.0 117.7L464.8 112.1L470.5 110.2L475.6 115.7Z" fill="#ff3333"/>
<path d="M491.7 126.7L486.4 119.8L491.9 117.6L497.2 124.5Z" fill="#ff4d4d"/>
<path d="M480.8 121.9L475.6 115.7L481.2 113.6L486.4 119.8Z" fill="#ff3f3f"/>
<path d="M535.2 166.8L529.7 155.8L535.1 153.6L540.6 164.5Z" fill="#ffc6c6"/>
<path d="M518.9 147.9L513.4 138.5L518.9 136.2L524.3 145.6Z" fill="#ff8b8b"/>
<path d="M540.7 178.4L535.2 166.8L540.6 164.5L546.0 176.2Z" fill="#ffe8e8"/>
<path d="M562.7 231.4L557.2 217.1L562.5 215.2L567.9 229.7Z" fill="#7171ff"/>
<path d="M546.2 190.6L540.7 178.4L546.0 176.2L551.5 188.5Z" fill="#f1f1ff"/>
<path d="M557.2 217.1L551.7 203.5L557.0 201.5L562.5 215.2Z" fill="#9f9fff"/>
<path d="M508.0 140.8L502.6 132.2L508.0 129.9L513.4 138.5Z" fill="#ff7373"/>
<path d="M551.7 203.5L546.2 190.6L551.5 188.5L557.0 201.5Z" fill="#c9c9ff"/>
<path d="M524.4 158.1L518.9 147.9L524.3 145.6L529.7 155.8Z" fill="#ffa7a7"/>
<path d="M497.1 134.5L491.7 126.7L497.2 124.5L502.6 132.2Z" fill="#ff5e5e"/>
<path d="M453.4 116.0L448.4 110.8L454.1 109.0L459.2 114.1Z" fill="#ff3333"/>
<path d="M486.1 129.0L480.8 121.9L486.4 119.8L491.7 126.7Z" fill="#ff4d4d"/>
<path d="M464.3 119.8L459.2 114.1L464.8 112.1L470.0 117.7Z" fill="#ff3333"/>
<path d="M475.2 124.1L470.0 117.7L475.6 115.7L480.8 121.9Z" fill="#ff3e3e"/>
<path d="M529.9 169.0L524.4 158.1L529.7 155.8L535.2 166.8Z" fill="#ffc5c5"/>
<path d="M513.4 150.3L508.0 140.8L513.4 138.5L518.9 147.9Z" fill="#ff8b8b"/>
<path d="M535.4 180.6L529.9 169.0L535.2 166.8L540.7 178.4Z" fill="#ffe7e7"/>
<path d="M557.5 233.2L552.0 219.0L557.2 217.1L562.7 231.4Z" fill="#7575ff"/>
<path d="M540.9 192.7L535.4 180.6L540.7 178.4L546.2 190.6Z" fill="#f3f3ff"/>
<path d="M502.5 143.2L497.1 134.5L502.6 132.2L508.0 140.8Z" fill="#ff7373"/>
<path d="M546.4 205.5L540.9 192.7L546.2 190.6L551.7 203.5Z" fill="#ccccff"/>
<path d="M552.0 219.0L546.4 205.5L551.7 203.5L557.2 217.1Z" fill="#a2a2ff"/>
<path d="M518.9 160.5L513.4 150.3L518.9 147.9L524.4 158.1Z" fill="#ffa7a7"/>
<path d="M491.5 136.8L486.1 129.0L491.7 126.7L497.1 134.5Z" fill="#ff5e5e"/>
<path d="M480.5 131.3L475.2 124.1L480.8 121.9L486.1 129.0Z" fill="#ff4d4d"/>
<path d="M458.6 121.9L453.4 116.0L459.2 114.1L464.3 119.8Z" fill="#ff3333"/>
<path d="M469.5 126.3L464.3 119.8L470.0 117.7L475.2 124.1Z" fill="#ff3e3e"/>
<path d="M524.4 171.3L518.9 160.5L524.4 158.1L529.9 169.0Z" fill="#ffc5c5"/>
<path d="M507.9 152.6L502.5 143.2L508.0 140.8L513.4 150.3Z" fill="#ff8b8b"/>
<path d="M530.0 182.8L524.4 171.3L529.9 169.0L535.4 180.6Z" fill="#ffe6e6"/>
<path d="M496.9 145.5L491.5 136.8L497.1 134.5L502.5 143.2Z" fill="#ff7373"/>
<path d="M535.5 194.9L530.0 182.8L535.4 180.6L540.9 192.7Z" fill="#f5f5ff"/>
<path d="M552.2 235.0L546.6 220.9L552.0 219.0L557.5 233.2Z" fill="#7979ff"/>
<path d="M513.4 162.8L507.9 152.6L513.4 150.3L518.9 160.5Z" fill="#ffa6a6"/>
<path d="M541.1 207.6L535.5 194.9L540.9 192.7L546.4 205.5Z" fill="#ceceff"/>
<path d="M546.6 220.9L541.1 207.6L546.4 205.5L552.0 219.0Z" fill="#a5a5ff"/>
<path d="M485.9 139.2L480.5 131.3L486.1 129.0L491.5 136.8Z" fill="#ff5f5f"/>
<path d="M474.8 133.6L469.5 126.3L475.2 124.1L480.5 131.3Z" fill="#ff4d4d"/>
<path d="M463.8 128.6L458.6 121.9L464.3 119.8L469.5 126.3Z" fill="#ff3e3e"/>
<path d="M519.0 173.6L513.4 162.8L518.9 160.5L524.4 171.3Z" fill="#ffc5c5"/>
<path d="M502.4 155.0L496.9 145.5L502.5 143.2L507.9 152.6Z" fill="#ff8b8b"/>
<path d="M524.5 185.1L519.0 173.6L524.4 171.3L530.0 182.8Z" fill="#ffe5e5"/>
<path d="M491.3 147.9L485.9 139.2L491.5 136.8L496.9 145.5Z" fill="#ff7474"/>
<path d="M530.1 197.1L524.5 185.1L530.0 182.8L535.5 194.9Z" fill="#f5f5ff"/>
<path d="M507.9 165.2L502.4 155.0L507.9 152.6L513.4 162.8Z" fill="#ffa6a6"/>
<path d="M480.2 141.6L474.8 133.6L480.5 131.3L485.9 139.2Z" fill="#ff5f5f"/>
<path d="M535.7 209.6L530.1 197.1L535.5 194.9L541.1 207.6Z" fill="#d1d1ff"/>
<path d="M546.8 236.8L541.3 222.9L546.6 220.9L552.2 235.0Z" fill="#7d7dff"/>
<path d="M541.3 222.9L535.7 209.6L541.1 207.6L546.6 220.9Z" fill="#a8a8ff"/>
<path d="M469.1 135.9L463.8 128.6L469.5 126.3L474.8 133.6Z" fill="#ff4d4d"/>
<path d="M513.4 176.0L507.9 165.2L513.4 162.8L519.0 173.6Z" fill="#ffc4c4"/>
<path d="M496.8 157.4L491.3 147.9L496.9 145.5L502.4 155.0Z" fill="#ff8c8c"/>
<path d="M519.0 187.3L513.4 176.0L519.0 173.6L524.5 185.1Z" fill="#ffe5e5"/>
<path d="M485.6 150.3L480.2 141.6L485.9 139.2L491.3 147.9Z" fill="#ff7474"/>
<path d="M502.3 167.6L496.8 157.4L502.4 155.0L507.9 165.2Z" fill="#ffa6a6"/>
<path d="M524.6 199.2L519.0 187.3L524.5 185.1L530.1 197.1Z" fill="#f7f7ff"/>
<path d="M474.5 144.0L469.1 135.9L474.8 133.6L480.2 141.6Z" fill="#ff5f5f"/>
<path d="M530.2 211.7L524.6 199.2L530.1 197.1L535.7 209.6Z" fill="#d2d2ff"/>
<path d="M541.4 238.6L535.8 224.8L541.3 222.9L546.8 236.8Z" fill="#8181ff"/>
<path d="M535.8 224.8L530.2 211.7L535.7 209.6L541.3 222.9Z" fill="#ababff"/>
<path d="M507.8 178.3L502.3 167.6L507.9 165.2L513.4 176.0Z" fill="#ffc4c4"/>
<path d="M491.1 159.8L485.6 150.3L491.3 147.9L496.8 157.4Z" fill="#ff8c8c"/>
<path d="M513.4 189.6L507.8 178.3L513.4 176.0L519.0 187.3Z" fill="#ffe3e3"/>
<path d="M479.9 152.8L474.5 144.0L480.2 141.6L485.6 150.3Z" fill="#ff7474"/>
<path d="M496.6 170.0L491.1 159.8L496.8 157.4L502.3 167.6Z" fill="#ffa6a6"/>
<path d="M519.1 201.5L513.4 189.6L519.0 187.3L524.6 199.2Z" fill="#f9f9ff"/>
<path d="M524.7 213.8L519.1 201.5L524.6 199.2L530.2 211.7Z" fill="#d5d5ff"/>
<path d="M530.3 226.8L524.7 213.8L530.2 211.7L535.8 224.8Z" fill="#aeaeff"/>
<path d="M536.0 240.4L530.3 226.8L535.8 224.8L541.4 238.6Z" fill="#8585ff"/>
<path d="M502.2 180.7L496.6 170.0L502.3 167.6L507.8 178.3Z" fill="#ffc3c3"/>
<path d="M485.4 162.3L479.9 152.8L485.6 150.3L491.1 159.8Z" fill="#ff8c8c"/>
<path d="M507.8 192.0L502.2 180.7L507.8 178.3L513.4 189.6Z" fill="#ffe2e2"/>
<path d="M490.9 172.4L485.4 162.3L491.1 159.8L496.6 170.0Z" fill="#ffa6a6"/>
<path d="M513.5 203.7L507.8 192.0L513.4 189.6L519.1 201.5Z" fill="#fafaff"/>
<path d="M519.1 216.0L513.5 203.7L519.1 201.5L524.7 213.8Z" fill="#d7d7ff"/>
<path d="M496.5 183.1L490.9 172.4L496.6 170.0L502.2 180.7Z" fill="#ffc3c3"/>
<path d="M524.8 228.8L519.1 216.0L524.7 213.8L530.3 226.8Z" fill="#b1b1ff"/>
<path d="M530.4 242.3L524.8 228.8L530.3 226.8L536.0 240.4Z" fill="#8989ff"/>
<path d="M502.1 194.3L496.5 183.1L502.2 180.7L507.8 192.0Z" fill="#ffe1e1"/>
<path d="M507.8 206.0L502.1 194.3L507.8 192.0L513.5 203.7Z" fill="#fcfcff"/>
<path d="M513.5 218.1L507.8 206.0L513.5 203.7L519.1 216.0Z" fill="#d9d9ff"/>
<path d="M519.2 230.9L513.5 218.1L519.1 216.0L524.8 228.8Z" fill="#b4b4ff"/>
<path d="M524.9 244.2L519.2 230.9L524.8 228.8L530.4 242.3Z" fill="#8d8dff"/>
</g>
<g stroke="#222" stroke-width="0.7" fill="none">
<path d="M411.9 44.1L488.5 88.5" />
<path d="M663.6 53.3L590.3 82.5" />
<path d="M524.4 243.2L524.5 269.2" />
</g>
<g stroke="#222" stroke-width="0.7" fill="none" opacity="0.75">
<path d="M488.5 88.5L523.7 109.0" />
<path d="M590.3 82.5L523.7 109.0" />
<path d="M523.7 109.0L524.4 243.2" />
</g>
<g font-family='"Liberation Sans", sans-serif' font-size="11.8" fill="#111" text-anchor="middle">
<text x="511.0" y="295.8" >1991</text>
<text x="489.8" y="278.4" >1995</text>
<text x="469.8" y="262.0" >1999</text>
<text x="450.7" y="246.4" >2003</text>
<text x="432.6" y="231.5" >2007</text>
<text x="415.4" y="217.4" >2011</text>
<text x="563.1" y="282.6" >0.00</text>
<text x="605.2" y="259.0" >0.02</text>
<text x="644.2" y="237.1" >0.04</text>
<text x="397.5" y="182.1" >−1.0</text>
<text x="394.5" y="150.7" >−0.5</text>
<text x="391.3" y="118.0" >0.0</text>
<text x="387.9" y="83.7" >0.5</text>
<text x="384.5" y="47.8" >1.0</text>
</g>
<g font-family='"Liberation Sans", sans-serif' font-size="12.5" fill="#111" text-anchor="middle">
<text x="364.0" y="118.2" transform="rotate(-90 364.0 118.2)">Scaled price</text>
<text x="429.0" y="266.2">Year</text>
<text x="648.4" y="274.9">Phylogenetic</text>
<text x="648.4" y="290.1">contribution</text>
</g>
<text x="351.9" y="25.3" font-family='"DejaVu Sans", sans-serif' font-size="30.5" fill="#000">(b)</text>
<g stroke="#222" stroke-width="0.7" fill="none">
<path d="M57.8 355.2L191.5 313.2" />
<path d="M191.5 313.2L309.5 364.4" />
<path d="M57.8 355.2L69.5 501.3" />
<path d="M309.5 364.4L297.3 512.7" />
<path d="M69.5 501.3L170.5 580.3" />
<path d="M170.5 580.3L297.3 512.7" />
<path d="M191.5 313.2L190.7 448.9" stroke-dasharray="1.4 1.9"/>
<path d="M69.5 501.3L190.7 448.9" stroke-dasharray="1.4 1.9"/>
<path d="M297.3 512.7L190.7 448.9" stroke-dasharray="1.4 1.9"/>
<path d="M170.9 580.3L163.2 592.4" />
<path d="M149.4 563.6L141.9 575.3" />
<path d="M129.0 547.7L121.7 559.1" />
<path d="M109.6 532.6L102.5 543.7" />
<path d="M91.2 518.3L84.2 529.1" />
<path d="M73.7 504.7L66.8 515.2" />
<path d="M205.6 561.8L211.9 574.2" />
<path d="M253.4 536.2L259.5 548.1" />
<path d="M297.3 512.7L303.3 524.0" />
<path d="M68.5 489.8L56.2 489.2" />
<path d="M66.0 458.3L53.4 457.8" />
<path d="M63.4 425.5L50.5 425.0" />
<path d="M60.7 391.2L47.5 390.6" />
<path d="M57.8 355.2L44.3 354.7" />
</g>
<g stroke="#000" stroke-width="0.48" stroke-linejoin="round">
<path d="M186.4 362.6L181.6 364.6L186.0 362.7L190.8 360.6Z" fill="#ff5151"/>
<path d="M181.9 364.6L177.2 366.5L181.6 364.6L186.4 362.6Z" fill="#ff5252"/>
<path d="M177.4 366.6L172.7 368.4L177.2 366.5L181.9 364.6Z" fill="#ff5454"/>
<path d="M191.3 361.4L186.4 362.6L190.8 360.6L195.7 359.4Z" fill="#ff3d3d"/>
<path d="M172.9 368.6L168.2 370.3L172.7 368.4L177.4 366.6Z" fill="#ff5555"/>
<path d="M186.8 363.4L181.9 364.6L186.4 362.6L191.3 361.4Z" fill="#ff4040"/>
<path d="M168.3 370.6L163.6 372.3L168.2 370.3L172.9 368.6Z" fill="#ff5757"/>
<path d="M182.2 365.5L177.4 366.6L181.9 364.6L186.8 363.4Z" fill="#ff4141"/>
<path d="M196.2 361.1L191.3 361.4L195.7 359.4L200.7 359.0Z" fill="#ff3333"/>
<path d="M163.7 372.6L159.0 374.2L163.6 372.3L168.3 370.6Z" fill="#ff5959"/>
<path d="M177.7 367.6L172.9 368.6L177.4 366.6L182.2 365.5Z" fill="#ff4444"/>
<path d="M191.7 363.2L186.8 363.4L191.3 361.4L196.2 361.1Z" fill="#ff3333"/>
<path d="M159.1 374.7L154.4 376.2L159.0 374.2L163.7 372.6Z" fill="#ff5a5a"/>
<path d="M173.1 369.7L168.3 370.6L172.9 368.6L177.7 367.6Z" fill="#ff4545"/>
<path d="M187.1 365.3L182.2 365.5L186.8 363.4L191.7 363.2Z" fill="#ff3333"/>
<path d="M201.2 361.6L196.2 361.1L200.7 359.0L205.7 359.4Z" fill="#ff3333"/>
<path d="M154.4 376.7L149.8 378.2L154.4 376.2L159.1 374.7Z" fill="#ff5c5c"/>
<path d="M168.5 371.8L163.7 372.6L168.3 370.6L173.1 369.7Z" fill="#ff4848"/>
<path d="M182.5 367.4L177.7 367.6L182.2 365.5L187.1 365.3Z" fill="#ff3535"/>
<path d="M196.6 363.7L191.7 363.2L196.2 361.1L201.2 361.6Z" fill="#ff3333"/>
<path d="M149.7 378.8L145.1 380.2L149.8 378.2L154.4 376.7Z" fill="#ff5e5e"/>
<path d="M163.8 373.9L159.1 374.7L163.7 372.6L168.5 371.8Z" fill="#ff4949"/>
<path d="M206.2 363.0L201.2 361.6L205.7 359.4L210.7 360.8Z" fill="#ff3333"/>
<path d="M177.9 369.6L173.1 369.7L177.7 367.6L182.5 367.4Z" fill="#ff3838"/>
<path d="M192.1 365.9L187.1 365.3L191.7 363.2L196.6 363.7Z" fill="#ff3333"/>
<path d="M144.9 380.9L140.3 382.2L145.1 380.2L149.7 378.8Z" fill="#ff6060"/>
<path d="M159.1 376.0L154.4 376.7L159.1 374.7L163.8 373.9Z" fill="#ff4b4b"/>
<path d="M201.7 365.2L196.6 363.7L201.2 361.6L206.2 363.0Z" fill="#ff3333"/>
<path d="M173.3 371.7L168.5 371.8L173.1 369.7L177.9 369.6Z" fill="#ff3a3a"/>
<path d="M187.5 368.1L182.5 367.4L187.1 365.3L192.1 365.9Z" fill="#ff3333"/>
<path d="M140.1 383.0L135.6 384.2L140.3 382.2L144.9 380.9Z" fill="#ff6161"/>
<path d="M211.3 365.3L206.2 363.0L210.7 360.8L215.8 363.1Z" fill="#ff3333"/>
<path d="M154.4 378.2L149.7 378.8L154.4 376.7L159.1 376.0Z" fill="#ff4d4d"/>
<path d="M197.1 367.4L192.1 365.9L196.6 363.7L201.7 365.2Z" fill="#ff3333"/>
<path d="M168.6 373.9L163.8 373.9L168.5 371.8L173.3 371.7Z" fill="#ff3c3c"/>
<path d="M182.9 370.3L177.9 369.6L182.5 367.4L187.5 368.1Z" fill="#ff3333"/>
<path d="M135.3 385.1L130.8 386.3L135.6 384.2L140.1 383.0Z" fill="#ff6363"/>
<path d="M206.8 367.5L201.7 365.2L206.2 363.0L211.3 365.3Z" fill="#ff3333"/>
<path d="M149.6 380.3L144.9 380.9L149.7 378.8L154.4 378.2Z" fill="#ff4f4f"/>
<path d="M192.5 369.6L187.5 368.1L192.1 365.9L197.1 367.4Z" fill="#ff3333"/>
<path d="M163.9 376.1L159.1 376.0L163.8 373.9L168.6 373.9Z" fill="#ff3e3e"/>
<path d="M178.2 372.5L173.3 371.7L177.9 369.6L182.9 370.3Z" fill="#ff3333"/>
<path d="M216.5 368.5L211.3 365.3L215.8 363.1L221.0 366.2Z" fill="#ff3333"/>
<path d="M130.5 387.3L126.0 388.3L130.8 386.3L135.3 385.1Z" fill="#ff6565"/>
<path d="M202.2 369.8L197.1 367.4L201.7 365.2L206.8 367.5Z" fill="#ff3333"/>
<path d="M144.8 382.5L140.1 383.0L144.9 380.9L149.6 380.3Z" fill="#ff5151"/>
<path d="M187.9 371.9L182.9 370.3L187.5 368.1L192.5 369.6Z" fill="#ff3333"/>
<path d="M159.2 378.3L154.4 378.2L159.1 376.0L163.9 376.1Z" fill="#ff4141"/>
<path d="M173.5 374.8L168.6 373.9L173.3 371.7L178.2 372.5Z" fill="#ff3333"/>
<path d="M211.9 370.7L206.8 367.5L211.3 365.3L216.5 368.5Z" fill="#ff3333"/>
<path d="M125.6 389.4L121.1 390.4L126.0 388.3L130.5 387.3Z" fill="#ff6666"/>
<path d="M197.6 372.0L192.5 369.6L197.1 367.4L202.2 369.8Z" fill="#ff3333"/>
<path d="M221.7 372.6L216.5 368.5L221.0 366.2L226.2 370.3Z" fill="#ff3333"/>
<path d="M140.0 384.7L135.3 385.1L140.1 383.0L144.8 382.5Z" fill="#ff5353"/>
<path d="M183.2 374.1L178.2 372.5L182.9 370.3L187.9 371.9Z" fill="#ff3333"/>
<path d="M154.4 380.6L149.6 380.3L154.4 378.2L159.2 378.3Z" fill="#ff4343"/>
<path d="M168.8 377.0L163.9 376.1L168.6 373.9L173.5 374.8Z" fill="#ff3535"/>
<path d="M207.3 373.0L202.2 369.8L206.8 367.5L211.9 370.7Z" fill="#ff3333"/>
<path d="M120.7 391.6L116.2 392.5L121.1 390.4L125.6 389.4Z" fill="#ff6868"/>
<path d="M192.9 374.3L187.9 371.9L192.5 369.6L197.6 372.0Z" fill="#ff3333"/>
<path d="M217.1 374.9L211.9 370.7L216.5 368.5L221.7 372.6Z" fill="#ff3333"/>
<path d="M135.1 386.9L130.5 387.3L135.3 385.1L140.0 384.7Z" fill="#ff5555"/>
<path d="M178.5 376.4L173.5 374.8L178.2 372.5L183.2 374.1Z" fill="#ff3333"/>
<path d="M149.6 382.8L144.8 382.5L149.6 380.3L154.4 380.6Z" fill="#ff4545"/>
<path d="M164.0 379.3L159.2 378.3L163.9 376.1L168.8 377.0Z" fill="#ff3737"/>
<path d="M226.9 377.6L221.7 372.6L226.2 370.3L231.4 375.4Z" fill="#ff3333"/>
<path d="M202.7 375.3L197.6 372.0L202.2 369.8L207.3 373.0Z" fill="#ff3333"/>
<path d="M188.2 376.6L183.2 374.1L187.9 371.9L192.9 374.3Z" fill="#ff3333"/>
<path d="M115.7 393.8L111.3 394.6L116.2 392.5L120.7 391.6Z" fill="#ff6969"/>
<path d="M212.5 377.2L207.3 373.0L211.9 370.7L217.1 374.9Z" fill="#ff3333"/>
<path d="M130.2 389.2L125.6 389.4L130.5 387.3L135.1 386.9Z" fill="#ff5757"/>
<path d="M173.7 378.7L168.8 377.0L173.5 374.8L178.5 376.4Z" fill="#ff3333"/>
<path d="M144.7 385.1L140.0 384.7L144.8 382.5L149.6 382.8Z" fill="#ff4747"/>
<path d="M159.2 381.6L154.4 380.6L159.2 378.3L164.0 379.3Z" fill="#ff3939"/>
<path d="M222.3 379.9L217.1 374.9L221.7 372.6L226.9 377.6Z" fill="#ff3333"/>
<path d="M232.1 383.6L226.9 377.6L231.4 375.4L236.6 381.4Z" fill="#ff3737"/>
<path d="M198.0 377.6L192.9 374.3L197.6 372.0L202.7 375.3Z" fill="#ff3333"/>
<path d="M183.5 378.9L178.5 376.4L183.2 374.1L188.2 376.6Z" fill="#ff3333"/>
<path d="M110.7 396.0L106.3 396.7L111.3 394.6L115.7 393.8Z" fill="#ff6b6b"/>
<path d="M207.9 379.5L202.7 375.3L207.3 373.0L212.5 377.2Z" fill="#ff3333"/>
<path d="M169.0 381.0L164.0 379.3L168.8 377.0L173.7 378.7Z" fill="#ff3333"/>
<path d="M125.2 391.4L120.7 391.6L125.6 389.4L130.2 389.2Z" fill="#ff5959"/>
<path d="M154.4 383.9L149.6 382.8L154.4 380.6L159.2 381.6Z" fill="#ff3c3c"/>
<path d="M139.8 387.4L135.1 386.9L140.0 384.7L144.7 385.1Z" fill="#ff4949"/>
<path d="M217.7 382.2L212.5 377.2L217.1 374.9L222.3 379.9Z" fill="#ff3333"/>
<path d="M237.3 390.5L232.1 383.6L236.6 381.4L241.9 388.3Z" fill="#ff4848"/>
<path d="M227.5 385.9L222.3 379.9L226.9 377.6L232.1 383.6Z" fill="#ff3939"/>
<path d="M193.4 379.9L188.2 376.6L192.9 374.3L198.0 377.6Z" fill="#ff3333"/>
<path d="M178.8 381.3L173.7 378.7L178.5 376.4L183.5 378.9Z" fill="#ff3333"/>
<path d="M203.2 381.8L198.0 377.6L202.7 375.3L207.9 379.5Z" fill="#ff3333"/>
<path d="M105.7 398.2L101.3 398.9L106.3 396.7L110.7 396.0Z" fill="#ff6d6d"/>
<path d="M164.2 383.4L159.2 381.6L164.0 379.3L169.0 381.0Z" fill="#ff3434"/>
<path d="M120.3 393.7L115.7 393.8L120.7 391.6L125.2 391.4Z" fill="#ff5b5b"/>
<path d="M149.5 386.2L144.7 385.1L149.6 382.8L154.4 383.9Z" fill="#ff3e3e"/>
<path d="M134.9 389.7L130.2 389.2L135.1 386.9L139.8 387.4Z" fill="#ff4b4b"/>
<path d="M242.6 398.3L237.3 390.5L241.9 388.3L247.1 396.1Z" fill="#ff5d5d"/>
<path d="M213.1 384.5L207.9 379.5L212.5 377.2L217.7 382.2Z" fill="#ff3333"/>
<path d="M232.8 392.8L227.5 385.9L232.1 383.6L237.3 390.5Z" fill="#ff4a4a"/>
<path d="M222.9 388.2L217.7 382.2L222.3 379.9L227.5 385.9Z" fill="#ff3c3c"/>
<path d="M188.6 382.3L183.5 378.9L188.2 376.6L193.4 379.9Z" fill="#ff3333"/>
<path d="M288.3 508.4L283.4 492.9L287.8 491.1L292.6 506.7Z" fill="#3333ff"/>
<path d="M174.0 383.6L169.0 381.0L173.7 378.7L178.8 381.3Z" fill="#ff3333"/>
<path d="M247.8 407.1L242.6 398.3L247.1 396.1L252.3 404.9Z" fill="#ff7575"/>
<path d="M198.5 384.1L193.4 379.9L198.0 377.6L203.2 381.8Z" fill="#ff3333"/>
<path d="M100.6 400.5L96.2 401.0L101.3 398.9L105.7 398.2Z" fill="#ff6e6e"/>
<path d="M159.3 385.7L154.4 383.9L159.2 381.6L164.2 383.4Z" fill="#ff3636"/>
<path d="M115.2 396.0L110.7 396.0L115.7 393.8L120.3 393.7Z" fill="#ff5d5d"/>
<path d="M144.6 388.5L139.8 387.4L144.7 385.1L149.5 386.2Z" fill="#ff4141"/>
<path d="M129.9 392.0L125.2 391.4L130.2 389.2L134.9 389.7Z" fill="#ff4d4d"/>
<path d="M208.4 386.9L203.2 381.8L207.9 379.5L213.1 384.5Z" fill="#ff3434"/>
<path d="M238.0 400.6L232.8 392.8L237.3 390.5L242.6 398.3Z" fill="#ff5e5e"/>
<path d="M283.4 492.9L278.5 478.1L282.9 476.3L287.8 491.1Z" fill="#6c6cff"/>
<path d="M218.3 390.5L213.1 384.5L217.7 382.2L222.9 388.2Z" fill="#ff3e3e"/>
<path d="M228.2 395.1L222.9 388.2L227.5 385.9L232.8 392.8Z" fill="#ff4c4c"/>
<path d="M183.9 384.6L178.8 381.3L183.5 378.9L188.6 382.3Z" fill="#ff3333"/>
<path d="M253.0 416.7L247.8 407.1L252.3 404.9L257.5 414.6Z" fill="#ff9292"/>
<path d="M278.5 478.1L273.5 464.2L277.9 462.2L282.9 476.3Z" fill="#a0a0ff"/>
<path d="M258.2 427.3L253.0 416.7L257.5 414.6L262.7 425.2Z" fill="#ffb3b3"/>
<path d="M169.2 386.0L164.2 383.4L169.0 381.0L174.0 383.6Z" fill="#ff3333"/>
<path d="M193.8 386.5L188.6 382.3L193.4 379.9L198.5 384.1Z" fill="#ff3333"/>
<path d="M284.0 510.2L279.1 494.7L283.4 492.9L288.3 508.4Z" fill="#3535ff"/>
<path d="M243.3 409.3L238.0 400.6L242.6 398.3L247.8 407.1Z" fill="#ff7777"/>
<path d="M273.5 464.2L268.5 451.0L272.9 449.0L277.9 462.2Z" fill="#d1d1ff"/>
<path d="M95.5 402.7L91.1 403.2L96.2 401.0L100.6 400.5Z" fill="#ff7070"/>
<path d="M263.4 438.7L258.2 427.3L262.7 425.2L267.8 436.7Z" fill="#ffd8d8"/>
<path d="M154.4 388.1L149.5 386.2L154.4 383.9L159.3 385.7Z" fill="#ff3939"/>
<path d="M268.5 451.0L263.4 438.7L267.8 436.7L272.9 449.0Z" fill="#fdfdff"/>
<path d="M110.2 398.3L105.7 398.2L110.7 396.0L115.2 396.0Z" fill="#ff5f5f"/>
<path d="M139.7 390.9L134.9 389.7L139.8 387.4L144.6 388.5Z" fill="#ff4343"/>
<path d="M124.9 394.3L120.3 393.7L125.2 391.4L129.9 392.0Z" fill="#ff5050"/>
<path d="M203.7 389.2L198.5 384.1L203.2 381.8L208.4 386.9Z" fill="#ff3636"/>
<path d="M233.5 402.8L228.2 395.1L232.8 392.8L238.0 400.6Z" fill="#ff6161"/>
<path d="M213.7 392.8L208.4 386.9L213.1 384.5L218.3 390.5Z" fill="#ff4040"/>
<path d="M223.6 397.4L218.3 390.5L222.9 388.2L228.2 395.1Z" fill="#ff4e4e"/>
<path d="M179.1 387.0L174.0 383.6L178.8 381.3L183.9 384.6Z" fill="#ff3333"/>
<path d="M279.1 494.7L274.1 480.0L278.5 478.1L283.4 492.9Z" fill="#6d6dff"/>
<path d="M248.5 418.9L243.3 409.3L247.8 407.1L253.0 416.7Z" fill="#ff9494"/>
<path d="M164.3 388.4L159.3 385.7L164.2 383.4L169.2 386.0Z" fill="#ff3535"/>
<path d="M274.1 480.0L269.1 466.1L273.5 464.2L278.5 478.1Z" fill="#a1a1ff"/>
<path d="M253.7 429.4L248.5 418.9L253.0 416.7L258.2 427.3Z" fill="#ffb4b4"/>
<path d="M189.0 388.9L183.9 384.6L188.6 382.3L193.8 386.5Z" fill="#ff3333"/>
<path d="M238.7 411.5L233.5 402.8L238.0 400.6L243.3 409.3Z" fill="#ff7979"/>
<path d="M90.3 405.0L86.0 405.4L91.1 403.2L95.5 402.7Z" fill="#ff7171"/>
<path d="M149.5 390.5L144.6 388.5L149.5 386.2L154.4 388.1Z" fill="#ff3b3b"/>
<path d="M269.1 466.1L264.0 453.1L268.5 451.0L273.5 464.2Z" fill="#d1d1ff"/>
<path d="M258.9 440.8L253.7 429.4L258.2 427.3L263.4 438.7Z" fill="#ffd9d9"/>
<path d="M279.7 511.9L274.7 496.5L279.1 494.7L284.0 510.2Z" fill="#3838ff"/>
<path d="M105.1 400.6L100.6 400.5L105.7 398.2L110.2 398.3Z" fill="#ff6161"/>
<path d="M264.0 453.1L258.9 440.8L263.4 438.7L268.5 451.0Z" fill="#fdfdff"/>
<path d="M134.7 393.2L129.9 392.0L134.9 389.7L139.7 390.9Z" fill="#ff4545"/>
<path d="M119.9 396.6L115.2 396.0L120.3 393.7L124.9 394.3Z" fill="#ff5252"/>
<path d="M199.0 391.6L193.8 386.5L198.5 384.1L203.7 389.2Z" fill="#ff3939"/>
<path d="M228.8 405.1L223.6 397.4L228.2 395.1L233.5 402.8Z" fill="#ff6262"/>
<path d="M209.0 395.2L203.7 389.2L208.4 386.9L213.7 392.8Z" fill="#ff4242"/>
<path d="M174.2 389.4L169.2 386.0L174.0 383.6L179.1 387.0Z" fill="#ff3333"/>
<path d="M218.9 399.7L213.7 392.8L218.3 390.5L223.6 397.4Z" fill="#ff5151"/>
<path d="M244.0 421.1L238.7 411.5L243.3 409.3L248.5 418.9Z" fill="#ff9595"/>
<path d="M274.7 496.5L269.7 481.9L274.1 480.0L279.1 494.7Z" fill="#6f6fff"/>
<path d="M159.4 390.8L154.4 388.1L159.3 385.7L164.3 388.4Z" fill="#ff3737"/>
<path d="M184.2 391.3L179.1 387.0L183.9 384.6L189.0 388.9Z" fill="#ff3535"/>
<path d="M249.2 431.6L244.0 421.1L248.5 418.9L253.7 429.4Z" fill="#ffb5b5"/>
<path d="M269.7 481.9L264.7 468.1L269.1 466.1L274.1 480.0Z" fill="#a2a2ff"/>
<path d="M234.1 413.8L228.8 405.1L233.5 402.8L238.7 411.5Z" fill="#ff7a7a"/>
<path d="M85.1 407.3L80.8 407.6L86.0 405.4L90.3 405.0Z" fill="#ff7373"/>
<path d="M144.5 392.9L139.7 390.9L144.6 388.5L149.5 390.5Z" fill="#ff3d3d"/>
<path d="M254.4 442.9L249.2 431.6L253.7 429.4L258.9 440.8Z" fill="#ffd9d9"/>
<path d="M99.9 402.9L95.5 402.7L100.6 400.5L105.1 400.6Z" fill="#ff6363"/>
<path d="M129.7 395.6L124.9 394.3L129.9 392.0L134.7 393.2Z" fill="#ff4848"/>
<path d="M264.7 468.1L259.5 455.1L264.0 453.1L269.1 466.1Z" fill="#d1d1ff"/>
<path d="M194.2 394.0L189.0 388.9L193.8 386.5L199.0 391.6Z" fill="#ff3b3b"/>
<path d="M114.8 399.0L110.2 398.3L115.2 396.0L119.9 396.6Z" fill="#ff5454"/>
<path d="M259.5 455.1L254.4 442.9L258.9 440.8L264.0 453.1Z" fill="#fdfdff"/>
<path d="M275.3 513.7L270.3 498.4L274.7 496.5L279.7 511.9Z" fill="#3a3aff"/>
<path d="M224.2 407.4L218.9 399.7L223.6 397.4L228.8 405.1Z" fill="#ff6565"/>
<path d="M204.2 397.5L199.0 391.6L203.7 389.2L209.0 395.2Z" fill="#ff4545"/>
<path d="M169.4 391.8L164.3 388.4L169.2 386.0L174.2 389.4Z" fill="#ff3535"/>
<path d="M214.2 402.0L209.0 395.2L213.7 392.8L218.9 399.7Z" fill="#ff5353"/>
<path d="M239.4 423.3L234.1 413.8L238.7 411.5L244.0 421.1Z" fill="#ff9696"/>
<path d="M270.3 498.4L265.3 483.9L269.7 481.9L274.7 496.5Z" fill="#7171ff"/>
<path d="M154.5 393.2L149.5 390.5L154.4 388.1L159.4 390.8Z" fill="#ff3939"/>
<path d="M179.4 393.7L174.2 389.4L179.1 387.0L184.2 391.3Z" fill="#ff3838"/>
<path d="M244.6 433.8L239.4 423.3L244.0 421.1L249.2 431.6Z" fill="#ffb6b6"/>
<path d="M229.5 416.1L224.2 407.4L228.8 405.1L234.1 413.8Z" fill="#ff7d7d"/>
<path d="M139.5 395.3L134.7 393.2L139.7 390.9L144.5 392.9Z" fill="#ff4141"/>
<path d="M79.9 409.6L75.6 409.8L80.8 407.6L85.1 407.3Z" fill="#ff7575"/>
<path d="M265.3 483.9L260.2 470.1L264.7 468.1L269.7 481.9Z" fill="#a3a3ff"/>
<path d="M124.6 398.0L119.9 396.6L124.9 394.3L129.7 395.6Z" fill="#ff4a4a"/>
<path d="M94.8 405.3L90.3 405.0L95.5 402.7L99.9 402.9Z" fill="#ff6565"/>
<path d="M189.4 396.4L184.2 391.3L189.0 388.9L194.2 394.0Z" fill="#ff3d3d"/>
<path d="M249.8 445.0L244.6 433.8L249.2 431.6L254.4 442.9Z" fill="#ffd9d9"/>
<path d="M109.7 401.4L105.1 400.6L110.2 398.3L114.8 399.0Z" fill="#ff5656"/>
<path d="M260.2 470.1L255.0 457.2L259.5 455.1L264.7 468.1Z" fill="#d2d2ff"/>
<path d="M219.5 409.8L214.2 402.0L218.9 399.7L224.2 407.4Z" fill="#ff6666"/>
<path d="M255.0 457.2L249.8 445.0L254.4 442.9L259.5 455.1Z" fill="#fdfdff"/>
<path d="M164.5 394.3L159.4 390.8L164.3 388.4L169.4 391.8Z" fill="#ff3838"/>
<path d="M199.5 399.9L194.2 394.0L199.0 391.6L204.2 397.5Z" fill="#ff4747"/>
<path d="M209.5 404.4L204.2 397.5L209.0 395.2L214.2 402.0Z" fill="#ff5555"/>
<path d="M270.9 515.4L265.8 500.3L270.3 498.4L275.3 513.7Z" fill="#3d3dff"/>
<path d="M234.7 425.6L229.5 416.1L234.1 413.8L239.4 423.3Z" fill="#ff9898"/>
<path d="M149.5 395.6L144.5 392.9L149.5 390.5L154.5 393.2Z" fill="#ff3c3c"/>
<path d="M174.5 396.1L169.4 391.8L174.2 389.4L179.4 393.7Z" fill="#ff3a3a"/>
<path d="M265.8 500.3L260.8 485.8L265.3 483.9L270.3 498.4Z" fill="#7272ff"/>
<path d="M240.0 436.0L234.7 425.6L239.4 423.3L244.6 433.8Z" fill="#ffb7b7"/>
<path d="M134.5 397.7L129.7 395.6L134.7 393.2L139.5 395.3Z" fill="#ff4343"/>
<path d="M224.8 418.4L219.5 409.8L224.2 407.4L229.5 416.1Z" fill="#ff7e7e"/>
<path d="M74.6 412.0L70.3 412.1L75.6 409.8L79.9 409.6Z" fill="#ff7777"/>
<path d="M119.5 400.5L114.8 399.0L119.9 396.6L124.6 398.0Z" fill="#ff4d4d"/>
<path d="M89.5 407.7L85.1 407.3L90.3 405.0L94.8 405.3Z" fill="#ff6767"/>
<path d="M184.6 398.8L179.4 393.7L184.2 391.3L189.4 396.4Z" fill="#ff4141"/>
<path d="M104.5 403.8L99.9 402.9L105.1 400.6L109.7 401.4Z" fill="#ff5959"/>
<path d="M260.8 485.8L255.6 472.1L260.2 470.1L265.3 483.9Z" fill="#a4a4ff"/>
<path d="M245.3 447.2L240.0 436.0L244.6 433.8L249.8 445.0Z" fill="#ffdada"/>
<path d="M214.8 412.1L209.5 404.4L214.2 402.0L219.5 409.8Z" fill="#ff6969"/>
<path d="M159.5 396.7L154.5 393.2L159.4 390.8L164.5 394.3Z" fill="#ff3b3b"/>
<path d="M194.6 402.3L189.4 396.4L194.2 394.0L199.5 399.9Z" fill="#ff4949"/>
<path d="M255.6 472.1L250.5 459.2L255.0 457.2L260.2 470.1Z" fill="#d2d2ff"/>
<path d="M250.5 459.2L245.3 447.2L249.8 445.0L255.0 457.2Z" fill="#fdfdff"/>
<path d="M204.7 406.8L199.5 399.9L204.2 397.5L209.5 404.4Z" fill="#ff5757"/>
<path d="M230.1 427.8L224.8 418.4L229.5 416.1L234.7 425.6Z" fill="#ff9999"/>
<path d="M266.4 517.2L261.3 502.1L265.8 500.3L270.9 515.4Z" fill="#3e3eff"/>
<path d="M144.5 398.1L139.5 395.3L144.5 392.9L149.5 395.6Z" fill="#ff3e3e"/>
<path d="M169.6 398.6L164.5 394.3L169.4 391.8L174.5 396.1Z" fill="#ff3d3d"/>
<path d="M129.4 400.2L124.6 398.0L129.7 395.6L134.5 397.7Z" fill="#ff4545"/>
<path d="M220.1 420.7L214.8 412.1L219.5 409.8L224.8 418.4Z" fill="#ff8080"/>
<path d="M235.4 438.2L230.1 427.8L234.7 425.6L240.0 436.0Z" fill="#ffb8b8"/>
<path d="M261.3 502.1L256.2 487.8L260.8 485.8L265.8 500.3Z" fill="#7474ff"/>
<path d="M114.4 402.9L109.7 401.4L114.8 399.0L119.5 400.5Z" fill="#ff4f4f"/>
<path d="M179.7 401.2L174.5 396.1L179.4 393.7L184.6 398.8Z" fill="#ff4343"/>
<path d="M84.3 410.1L79.9 409.6L85.1 407.3L89.5 407.7Z" fill="#ff6969"/>
<path d="M99.3 406.2L94.8 405.3L99.9 402.9L104.5 403.8Z" fill="#ff5a5a"/>
<path d="M210.0 414.4L204.7 406.8L209.5 404.4L214.8 412.1Z" fill="#ff6a6a"/>
<path d="M240.6 449.3L235.4 438.2L240.0 436.0L245.3 447.2Z" fill="#ffdbdb"/>
<path d="M256.2 487.8L251.1 474.2L255.6 472.1L260.8 485.8Z" fill="#a5a5ff"/>
<path d="M154.5 399.2L149.5 395.6L154.5 393.2L159.5 396.7Z" fill="#ff3d3d"/>
<path d="M189.8 404.8L184.6 398.8L189.4 396.4L194.6 402.3Z" fill="#ff4c4c"/>
<path d="M199.9 409.2L194.6 402.3L199.5 399.9L204.7 406.8Z" fill="#ff5959"/>
<path d="M245.9 461.3L240.6 449.3L245.3 447.2L250.5 459.2Z" fill="#fdfdff"/>
<path d="M251.1 474.2L245.9 461.3L250.5 459.2L255.6 472.1Z" fill="#d3d3ff"/>
<path d="M225.4 430.1L220.1 420.7L224.8 418.4L230.1 427.8Z" fill="#ff9a9a"/>
<path d="M139.4 400.6L134.5 397.7L139.5 395.3L144.5 398.1Z" fill="#ff4141"/>
<path d="M261.9 519.1L256.8 504.0L261.3 502.1L266.4 517.2Z" fill="#4141ff"/>
<path d="M164.6 401.0L159.5 396.7L164.5 394.3L169.6 398.6Z" fill="#ff4040"/>
<path d="M124.3 402.7L119.5 400.5L124.6 398.0L129.4 400.2Z" fill="#ff4848"/>
<path d="M215.3 423.0L210.0 414.4L214.8 412.1L220.1 420.7Z" fill="#ff8181"/>
<path d="M230.7 440.4L225.4 430.1L230.1 427.8L235.4 438.2Z" fill="#ffb9b9"/>
<path d="M109.2 405.4L104.5 403.8L109.7 401.4L114.4 402.9Z" fill="#ff5151"/>
<path d="M174.8 403.7L169.6 398.6L174.5 396.1L179.7 401.2Z" fill="#ff4545"/>
<path d="M79.0 412.5L74.6 412.0L79.9 409.6L84.3 410.1Z" fill="#ff6a6a"/>
<path d="M256.8 504.0L251.7 489.7L256.2 487.8L261.3 502.1Z" fill="#7575ff"/>
<path d="M94.1 408.7L89.5 407.7L94.8 405.3L99.3 406.2Z" fill="#ff5d5d"/>
<path d="M205.2 416.8L199.9 409.2L204.7 406.8L210.0 414.4Z" fill="#ff6d6d"/>
<path d="M149.5 401.7L144.5 398.1L149.5 395.6L154.5 399.2Z" fill="#ff4040"/>
<path d="M184.9 407.2L179.7 401.2L184.6 398.8L189.8 404.8Z" fill="#ff4e4e"/>
<path d="M236.0 451.5L230.7 440.4L235.4 438.2L240.6 449.3Z" fill="#ffdbdb"/>
<path d="M195.1 411.6L189.8 404.8L194.6 402.3L199.9 409.2Z" fill="#ff5c5c"/>
<path d="M251.7 489.7L246.5 476.2L251.1 474.2L256.2 487.8Z" fill="#a6a6ff"/>
<path d="M241.2 463.5L236.0 451.5L240.6 449.3L245.9 461.3Z" fill="#fdfdff"/>
<path d="M246.5 476.2L241.2 463.5L245.9 461.3L251.1 474.2Z" fill="#d3d3ff"/>
<path d="M220.6 432.4L215.3 423.0L220.1 420.7L225.4 430.1Z" fill="#ff9c9c"/>
<path d="M134.4 403.1L129.4 400.2L134.5 397.7L139.4 400.6Z" fill="#ff4444"/>
<path d="M159.6 403.5L154.5 399.2L159.5 396.7L164.6 401.0Z" fill="#ff4242"/>
<path d="M257.4 520.9L252.2 506.0L256.8 504.0L261.9 519.1Z" fill="#4343ff"/>
<path d="M119.2 405.1L114.4 402.9L119.5 400.5L124.3 402.7Z" fill="#ff4a4a"/>
<path d="M210.5 425.3L205.2 416.8L210.0 414.4L215.3 423.0Z" fill="#ff8383"/>
<path d="M226.0 442.6L220.6 432.4L225.4 430.1L230.7 440.4Z" fill="#ffbaba"/>
<path d="M104.0 407.9L99.3 406.2L104.5 403.8L109.2 405.4Z" fill="#ff5353"/>
<path d="M169.8 406.2L164.6 401.0L169.6 398.6L174.8 403.7Z" fill="#ff4848"/>
<path d="M88.8 411.1L84.3 410.1L89.5 407.7L94.1 408.7Z" fill="#ff5f5f"/>
<path d="M144.5 404.2L139.4 400.6L144.5 398.1L149.5 401.7Z" fill="#ff4242"/>
<path d="M200.4 419.2L195.1 411.6L199.9 409.2L205.2 416.8Z" fill="#ff6e6e"/>
<path d="M252.2 506.0L247.0 491.7L251.7 489.7L256.8 504.0Z" fill="#7777ff"/>
<path d="M180.0 409.7L174.8 403.7L179.7 401.2L184.9 407.2Z" fill="#ff5151"/>
<path d="M190.2 414.0L184.9 407.2L189.8 404.8L195.1 411.6Z" fill="#ff5d5d"/>
<path d="M231.3 453.7L226.0 442.6L230.7 440.4L236.0 451.5Z" fill="#ffdcdc"/>
<path d="M247.0 491.7L241.8 478.3L246.5 476.2L251.7 489.7Z" fill="#a7a7ff"/>
<path d="M236.6 465.6L231.3 453.7L236.0 451.5L241.2 463.5Z" fill="#fdfdff"/>
<path d="M241.8 478.3L236.6 465.6L241.2 463.5L246.5 476.2Z" fill="#d4d4ff"/>
<path d="M129.2 405.6L124.3 402.7L129.4 400.2L134.4 403.1Z" fill="#ff4646"/>
<path d="M215.9 434.7L210.5 425.3L215.3 423.0L220.6 432.4Z" fill="#ff9d9d"/>
<path d="M154.6 406.0L149.5 401.7L154.5 399.2L159.6 403.5Z" fill="#ff4545"/>
<path d="M114.0 407.7L109.2 405.4L114.4 402.9L119.2 405.1Z" fill="#ff4d4d"/>
<path d="M205.7 427.7L200.4 419.2L205.2 416.8L210.5 425.3Z" fill="#ff8585"/>
<path d="M98.7 410.4L94.1 408.7L99.3 406.2L104.0 407.9Z" fill="#ff5555"/>
<path d="M164.8 408.7L159.6 403.5L164.6 401.0L169.8 406.2Z" fill="#ff4a4a"/>
<path d="M252.8 522.7L247.6 507.9L252.2 506.0L257.4 520.9Z" fill="#4545ff"/>
<path d="M221.2 444.9L215.9 434.7L220.6 432.4L226.0 442.6Z" fill="#ffbbbb"/>
<path d="M83.5 413.6L79.0 412.5L84.3 410.1L88.8 411.1Z" fill="#ff6161"/>
<path d="M139.4 406.7L134.4 403.1L139.4 400.6L144.5 404.2Z" fill="#ff4545"/>
<path d="M195.5 421.6L190.2 414.0L195.1 411.6L200.4 419.2Z" fill="#ff7171"/>
<path d="M175.0 412.1L169.8 406.2L174.8 403.7L180.0 409.7Z" fill="#ff5353"/>
<path d="M185.3 416.4L180.0 409.7L184.9 407.2L190.2 414.0Z" fill="#ff6060"/>
<path d="M247.6 507.9L242.4 493.8L247.0 491.7L252.2 506.0Z" fill="#7979ff"/>
<path d="M226.5 455.9L221.2 444.9L226.0 442.6L231.3 453.7Z" fill="#ffdddd"/>
<path d="M124.1 408.1L119.2 405.1L124.3 402.7L129.2 405.6Z" fill="#ff4949"/>
<path d="M242.4 493.8L237.1 480.4L241.8 478.3L247.0 491.7Z" fill="#a9a9ff"/>
<path d="M231.8 467.8L226.5 455.9L231.3 453.7L236.6 465.6Z" fill="#fdfdff"/>
<path d="M211.1 437.0L205.7 427.7L210.5 425.3L215.9 434.7Z" fill="#ff9f9f"/>
<path d="M149.6 408.6L144.5 404.2L149.5 401.7L154.6 406.0Z" fill="#ff4747"/>
<path d="M237.1 480.4L231.8 467.8L236.6 465.6L241.8 478.3Z" fill="#d5d5ff"/>
<path d="M108.8 410.2L104.0 407.9L109.2 405.4L114.0 407.7Z" fill="#ff4f4f"/>
<path d="M200.9 430.1L195.5 421.6L200.4 419.2L205.7 427.7Z" fill="#ff8686"/>
<path d="M159.8 411.2L154.6 406.0L159.6 403.5L164.8 408.7Z" fill="#ff4d4d"/>
<path d="M93.4 412.9L88.8 411.1L94.1 408.7L98.7 410.4Z" fill="#ff5858"/>
<path d="M216.4 447.2L211.1 437.0L215.9 434.7L221.2 444.9Z" fill="#ffbcbc"/>
<path d="M134.2 409.2L129.2 405.6L134.4 403.1L139.4 406.7Z" fill="#ff4848"/>
<path d="M248.1 524.6L242.9 509.8L247.6 507.9L252.8 522.7Z" fill="#4848ff"/>
<path d="M170.1 414.6L164.8 408.7L169.8 406.2L175.0 412.1Z" fill="#ff5555"/>
<path d="M190.6 424.1L185.3 416.4L190.2 414.0L195.5 421.6Z" fill="#ff7272"/>
<path d="M180.3 418.9L175.0 412.1L180.0 409.7L185.3 416.4Z" fill="#ff6262"/>
<path d="M221.8 458.2L216.4 447.2L221.2 444.9L226.5 455.9Z" fill="#ffdddd"/>
<path d="M242.9 509.8L237.7 495.8L242.4 493.8L247.6 507.9Z" fill="#7a7aff"/>
<path d="M118.9 410.7L114.0 407.7L119.2 405.1L124.1 408.1Z" fill="#ff4b4b"/>
<path d="M206.2 439.4L200.9 430.1L205.7 427.7L211.1 437.0Z" fill="#ffa0a0"/>
<path d="M144.4 411.1L139.4 406.7L144.5 404.2L149.6 408.6Z" fill="#ff4a4a"/>
<path d="M227.1 469.9L221.8 458.2L226.5 455.9L231.8 467.8Z" fill="#fdfdff"/>
<path d="M237.7 495.8L232.4 482.5L237.1 480.4L242.4 493.8Z" fill="#a9a9ff"/>
<path d="M232.4 482.5L227.1 469.9L231.8 467.8L237.1 480.4Z" fill="#d5d5ff"/>
<path d="M103.5 412.7L98.7 410.4L104.0 407.9L108.8 410.2Z" fill="#ff5151"/>
<path d="M154.7 413.7L149.6 408.6L154.6 406.0L159.8 411.2Z" fill="#ff4f4f"/>
<path d="M88.1 415.4L83.5 413.6L88.8 411.1L93.4 412.9Z" fill="#ff5a5a"/>
<path d="M195.9 432.5L190.6 424.1L195.5 421.6L200.9 430.1Z" fill="#ff8888"/>
<path d="M129.1 411.8L124.1 408.1L129.2 405.6L134.2 409.2Z" fill="#ff4a4a"/>
<path d="M211.6 449.5L206.2 439.4L211.1 437.0L216.4 447.2Z" fill="#ffbdbd"/>
<path d="M165.0 417.2L159.8 411.2L164.8 408.7L170.1 414.6Z" fill="#ff5858"/>
<path d="M185.6 426.5L180.3 418.9L185.3 416.4L190.6 424.1Z" fill="#ff7575"/>
<path d="M175.3 421.4L170.1 414.6L175.0 412.1L180.3 418.9Z" fill="#ff6565"/>
<path d="M243.5 526.5L238.2 511.8L242.9 509.8L248.1 524.6Z" fill="#4a4aff"/>
<path d="M216.9 460.4L211.6 449.5L216.4 447.2L221.8 458.2Z" fill="#ffdddd"/>
<path d="M113.6 413.2L108.8 410.2L114.0 407.7L118.9 410.7Z" fill="#ff4e4e"/>
<path d="M139.3 413.7L134.2 409.2L139.4 406.7L144.4 411.1Z" fill="#ff4d4d"/>
<path d="M201.3 441.8L195.9 432.5L200.9 430.1L206.2 439.4Z" fill="#ffa1a1"/>
<path d="M238.2 511.8L233.0 497.8L237.7 495.8L242.9 509.8Z" fill="#7c7cff"/>
<path d="M222.3 472.1L216.9 460.4L221.8 458.2L227.1 469.9Z" fill="#fdfdff"/>
<path d="M98.2 415.3L93.4 412.9L98.7 410.4L103.5 412.7Z" fill="#ff5454"/>
<path d="M233.0 497.8L227.6 484.6L232.4 482.5L237.7 495.8Z" fill="#aaaaff"/>
<path d="M227.6 484.6L222.3 472.1L227.1 469.9L232.4 482.5Z" fill="#d5d5ff"/>
<path d="M149.6 416.3L144.4 411.1L149.6 408.6L154.7 413.7Z" fill="#ff5151"/>
<path d="M191.0 434.9L185.6 426.5L190.6 424.1L195.9 432.5Z" fill="#ff8a8a"/>
<path d="M123.8 414.4L118.9 410.7L124.1 408.1L129.1 411.8Z" fill="#ff4d4d"/>
<path d="M206.7 451.8L201.3 441.8L206.2 439.4L211.6 449.5Z" fill="#ffbebe"/>
<path d="M159.9 419.7L154.7 413.7L159.8 411.2L165.0 417.2Z" fill="#ff5a5a"/>
<path d="M180.7 429.0L175.3 421.4L180.3 418.9L185.6 426.5Z" fill="#ff7676"/>
<path d="M170.3 423.9L165.0 417.2L170.1 414.6L175.3 421.4Z" fill="#ff6666"/>
<path d="M108.3 415.8L103.5 412.7L108.8 410.2L113.6 413.2Z" fill="#ff5151"/>
<path d="M238.8 528.4L233.5 513.8L238.2 511.8L243.5 526.5Z" fill="#4d4dff"/>
<path d="M212.1 462.7L206.7 451.8L211.6 449.5L216.9 460.4Z" fill="#ffdede"/>
<path d="M134.1 416.3L129.1 411.8L134.2 409.2L139.3 413.7Z" fill="#ff4f4f"/>
<path d="M196.4 444.1L191.0 434.9L195.9 432.5L201.3 441.8Z" fill="#ffa3a3"/>
<path d="M92.8 417.9L88.1 415.4L93.4 412.9L98.2 415.3Z" fill="#ff5757"/>
<path d="M233.5 513.8L228.2 499.9L233.0 497.8L238.2 511.8Z" fill="#7d7dff"/>
<path d="M217.5 474.3L212.1 462.7L216.9 460.4L222.3 472.1Z" fill="#fdfdff"/>
<path d="M144.5 418.9L139.3 413.7L144.4 411.1L149.6 416.3Z" fill="#ff5555"/>
<path d="M228.2 499.9L222.8 486.7L227.6 484.6L233.0 497.8Z" fill="#ababff"/>
<path d="M222.8 486.7L217.5 474.3L222.3 472.1L227.6 484.6Z" fill="#d5d5ff"/>
<path d="M186.0 437.4L180.7 429.0L185.6 426.5L191.0 434.9Z" fill="#ff8c8c"/>
<path d="M118.6 417.0L113.6 413.2L118.9 410.7L123.8 414.4Z" fill="#ff5050"/>
<path d="M154.8 422.3L149.6 416.3L154.7 413.7L159.9 419.7Z" fill="#ff5d5d"/>
<path d="M175.6 431.5L170.3 423.9L175.3 421.4L180.7 429.0Z" fill="#ff7979"/>
<path d="M201.8 454.2L196.4 444.1L201.3 441.8L206.7 451.8Z" fill="#ffbfbf"/>
<path d="M165.2 426.4L159.9 419.7L165.0 417.2L170.3 423.9Z" fill="#ff6969"/>
<path d="M103.0 418.4L98.2 415.3L103.5 412.7L108.3 415.8Z" fill="#ff5353"/>
<path d="M128.9 418.9L123.8 414.4L129.1 411.8L134.1 416.3Z" fill="#ff5151"/>
<path d="M207.2 465.0L201.8 454.2L206.7 451.8L212.1 462.7Z" fill="#ffdfdf"/>
<path d="M234.0 530.3L228.7 515.8L233.5 513.8L238.8 528.4Z" fill="#4f4fff"/>
<path d="M191.4 446.5L186.0 437.4L191.0 434.9L196.4 444.1Z" fill="#ffa5a5"/>
<path d="M212.6 476.5L207.2 465.0L212.1 462.7L217.5 474.3Z" fill="#fdfdff"/>
<path d="M139.3 421.5L134.1 416.3L139.3 413.7L144.5 418.9Z" fill="#ff5757"/>
<path d="M228.7 515.8L223.3 502.0L228.2 499.9L233.5 513.8Z" fill="#7f7fff"/>
<path d="M181.0 439.8L175.6 431.5L180.7 429.0L186.0 437.4Z" fill="#ff8d8d"/>
<path d="M218.0 488.9L212.6 476.5L217.5 474.3L222.8 486.7Z" fill="#d6d6ff"/>
<path d="M223.3 502.0L218.0 488.9L222.8 486.7L228.2 499.9Z" fill="#adadff"/>
<path d="M113.3 419.6L108.3 415.8L113.6 413.2L118.6 417.0Z" fill="#ff5252"/>
<path d="M149.7 424.8L144.5 418.9L149.6 416.3L154.8 422.3Z" fill="#ff5f5f"/>
<path d="M170.6 434.0L165.2 426.4L170.3 423.9L175.6 431.5Z" fill="#ff7a7a"/>
<path d="M160.1 429.0L154.8 422.3L159.9 419.7L165.2 426.4Z" fill="#ff6b6b"/>
<path d="M196.8 456.5L191.4 446.5L196.4 444.1L201.8 454.2Z" fill="#ffc0c0"/>
<path d="M97.6 421.1L92.8 417.9L98.2 415.3L103.0 418.4Z" fill="#ff5555"/>
<path d="M123.6 421.5L118.6 417.0L123.8 414.4L128.9 418.9Z" fill="#ff5454"/>
<path d="M202.2 467.3L196.8 456.5L201.8 454.2L207.2 465.0Z" fill="#ffdfdf"/>
<path d="M186.4 449.0L181.0 439.8L186.0 437.4L191.4 446.5Z" fill="#ffa5a5"/>
<path d="M229.2 532.2L223.9 517.8L228.7 515.8L234.0 530.3Z" fill="#5151ff"/>
<path d="M134.0 424.1L128.9 418.9L134.1 416.3L139.3 421.5Z" fill="#ff5959"/>
<path d="M207.7 478.8L202.2 467.3L207.2 465.0L212.6 476.5Z" fill="#fcfcff"/>
<path d="M107.9 422.3L103.0 418.4L108.3 415.8L113.3 419.6Z" fill="#ff5555"/>
<path d="M175.9 442.3L170.6 434.0L175.6 431.5L181.0 439.8Z" fill="#ff8f8f"/>
<path d="M223.9 517.8L218.5 504.1L223.3 502.0L228.7 515.8Z" fill="#8181ff"/>
<path d="M213.1 491.1L207.7 478.8L212.6 476.5L218.0 488.9Z" fill="#d6d6ff"/>
<path d="M144.5 427.4L139.3 421.5L144.5 418.9L149.7 424.8Z" fill="#ff6161"/>
<path d="M218.5 504.1L213.1 491.1L218.0 488.9L223.3 502.0Z" fill="#adadff"/>
<path d="M165.4 436.5L160.1 429.0L165.2 426.4L170.6 434.0Z" fill="#ff7d7d"/>
<path d="M154.9 431.6L149.7 424.8L154.8 422.3L160.1 429.0Z" fill="#ff6d6d"/>
<path d="M191.8 458.9L186.4 449.0L191.4 446.5L196.8 456.5Z" fill="#ffc1c1"/>
<path d="M118.3 424.1L113.3 419.6L118.6 417.0L123.6 421.5Z" fill="#ff5757"/>
<path d="M197.2 469.6L191.8 458.9L196.8 456.5L202.2 467.3Z" fill="#ffe0e0"/>
<path d="M181.3 451.4L175.9 442.3L181.0 439.8L186.4 449.0Z" fill="#ffa7a7"/>
<path d="M128.7 426.7L123.6 421.5L128.9 418.9L134.0 424.1Z" fill="#ff5c5c"/>
<path d="M102.6 424.9L97.6 421.1L103.0 418.4L107.9 422.3Z" fill="#ff5757"/>
<path d="M224.4 534.2L219.0 519.9L223.9 517.8L229.2 532.2Z" fill="#5353ff"/>
<path d="M202.7 481.1L197.2 469.6L202.2 467.3L207.7 478.8Z" fill="#fcfcff"/>
<path d="M170.8 444.8L165.4 436.5L170.6 434.0L175.9 442.3Z" fill="#ff9191"/>
<path d="M139.2 430.0L134.0 424.1L139.3 421.5L144.5 427.4Z" fill="#ff6464"/>
<path d="M160.3 439.1L154.9 431.6L160.1 429.0L165.4 436.5Z" fill="#ff7e7e"/>
<path d="M219.0 519.9L213.6 506.2L218.5 504.1L223.9 517.8Z" fill="#8282ff"/>
<path d="M208.1 493.3L202.7 481.1L207.7 478.8L213.1 491.1Z" fill="#d7d7ff"/>
<path d="M149.7 434.2L144.5 427.4L149.7 424.8L154.9 431.6Z" fill="#ff6f6f"/>
<path d="M213.6 506.2L208.1 493.3L213.1 491.1L218.5 504.1Z" fill="#aeaeff"/>
<path d="M186.8 461.3L181.3 451.4L186.4 449.0L191.8 458.9Z" fill="#ffc2c2"/>
<path d="M113.0 426.8L107.9 422.3L113.3 419.6L118.3 424.1Z" fill="#ff5959"/>
<path d="M176.2 453.9L170.8 444.8L175.9 442.3L181.3 451.4Z" fill="#ffa9a9"/>
<path d="M192.2 472.0L186.8 461.3L191.8 458.9L197.2 469.6Z" fill="#ffe1e1"/>
<path d="M123.4 429.4L118.3 424.1L123.6 421.5L128.7 426.7Z" fill="#ff5e5e"/>
<path d="M165.7 447.3L160.3 439.1L165.4 436.5L170.8 444.8Z" fill="#ff9292"/>
<path d="M133.9 432.7L128.7 426.7L134.0 424.1L139.2 430.0Z" fill="#ff6666"/>
<path d="M197.7 483.4L192.2 472.0L197.2 469.6L202.7 481.1Z" fill="#fcfcff"/>
<path d="M219.5 536.2L214.0 521.9L219.0 519.9L224.4 534.2Z" fill="#5555ff"/>
<path d="M155.1 441.6L149.7 434.2L154.9 431.6L160.3 439.1Z" fill="#ff8181"/>
<path d="M144.5 436.8L139.2 430.0L144.5 427.4L149.7 434.2Z" fill="#ff7171"/>
<path d="M203.1 495.5L197.7 483.4L202.7 481.1L208.1 493.3Z" fill="#d7d7ff"/>
<path d="M214.0 521.9L208.6 508.4L213.6 506.2L219.0 519.9Z" fill="#8484ff"/>
<path d="M181.7 463.7L176.2 453.9L181.3 451.4L186.8 461.3Z" fill="#ffc3c3"/>
<path d="M208.6 508.4L203.1 495.5L208.1 493.3L213.6 506.2Z" fill="#afafff"/>
<path d="M107.6 429.5L102.6 424.9L107.9 422.3L113.0 426.8Z" fill="#ff5c5c"/>
<path d="M171.1 456.4L165.7 447.3L170.8 444.8L176.2 453.9Z" fill="#ffa9a9"/>
<path d="M187.1 474.3L181.7 463.7L186.8 461.3L192.2 472.0Z" fill="#ffe1e1"/>
<path d="M118.1 432.1L113.0 426.8L118.3 424.1L123.4 429.4Z" fill="#ff6161"/>
<path d="M160.5 449.9L155.1 441.6L160.3 439.1L165.7 447.3Z" fill="#ff9494"/>
<path d="M128.6 435.4L123.4 429.4L128.7 426.7L133.9 432.7Z" fill="#ff6969"/>
<path d="M192.6 485.7L187.1 474.3L192.2 472.0L197.7 483.4Z" fill="#fcfcff"/>
<path d="M149.8 444.2L144.5 436.8L149.7 434.2L155.1 441.6Z" fill="#ff8282"/>
<path d="M139.2 439.4L133.9 432.7L139.2 430.0L144.5 436.8Z" fill="#ff7474"/>
<path d="M214.5 538.2L209.1 524.0L214.0 521.9L219.5 536.2Z" fill="#5858ff"/>
<path d="M176.5 466.2L171.1 456.4L176.2 453.9L181.7 463.7Z" fill="#ffc4c4"/>
<path d="M198.1 497.7L192.6 485.7L197.7 483.4L203.1 495.5Z" fill="#d8d8ff"/>
<path d="M209.1 524.0L203.6 510.5L208.6 508.4L214.0 521.9Z" fill="#8585ff"/>
<path d="M203.6 510.5L198.1 497.7L203.1 495.5L208.6 508.4Z" fill="#b1b1ff"/>
<path d="M165.9 458.9L160.5 449.9L165.7 447.3L171.1 456.4Z" fill="#ffabab"/>
<path d="M112.7 434.8L107.6 429.5L113.0 426.8L118.1 432.1Z" fill="#ff6363"/>
<path d="M182.0 476.7L176.5 466.2L181.7 463.7L187.1 474.3Z" fill="#ffe1e1"/>
<path d="M123.3 438.0L118.1 432.1L123.4 429.4L128.6 435.4Z" fill="#ff6b6b"/>
<path d="M155.2 452.5L149.8 444.2L155.1 441.6L160.5 449.9Z" fill="#ff9696"/>
<path d="M133.9 442.1L128.6 435.4L133.9 432.7L139.2 439.4Z" fill="#ff7676"/>
<path d="M144.6 446.8L139.2 439.4L144.5 436.8L149.8 444.2Z" fill="#ff8585"/>
<path d="M187.5 488.0L182.0 476.7L187.1 474.3L192.6 485.7Z" fill="#fcfcff"/>
<path d="M171.4 468.6L165.9 458.9L171.1 456.4L176.5 466.2Z" fill="#ffc5c5"/>
<path d="M193.0 500.0L187.5 488.0L192.6 485.7L198.1 497.7Z" fill="#d8d8ff"/>
<path d="M209.5 540.2L204.0 526.1L209.1 524.0L214.5 538.2Z" fill="#5a5aff"/>
<path d="M198.5 512.7L193.0 500.0L198.1 497.7L203.6 510.5Z" fill="#b1b1ff"/>
<path d="M204.0 526.1L198.5 512.7L203.6 510.5L209.1 524.0Z" fill="#8787ff"/>
<path d="M160.7 461.4L155.2 452.5L160.5 449.9L165.9 458.9Z" fill="#ffadad"/>
<path d="M176.9 479.1L171.4 468.6L176.5 466.2L182.0 476.7Z" fill="#ffe2e2"/>
<path d="M117.8 440.7L112.7 434.8L118.1 432.1L123.3 438.0Z" fill="#ff6d6d"/>
<path d="M150.0 455.0L144.6 446.8L149.8 444.2L155.2 452.5Z" fill="#ff9898"/>
<path d="M128.5 444.7L123.3 438.0L128.6 435.4L133.9 442.1Z" fill="#ff7878"/>
<path d="M139.2 449.5L133.9 442.1L139.2 439.4L144.6 446.8Z" fill="#ff8686"/>
<path d="M182.4 490.3L176.9 479.1L182.0 476.7L187.5 488.0Z" fill="#fcfcff"/>
<path d="M166.1 471.1L160.7 461.4L165.9 458.9L171.4 468.6Z" fill="#ffc6c6"/>
<path d="M187.9 502.3L182.4 490.3L187.5 488.0L193.0 500.0Z" fill="#d9d9ff"/>
<path d="M204.5 542.2L199.0 528.2L204.0 526.1L209.5 540.2Z" fill="#5d5dff"/>
<path d="M193.4 514.9L187.9 502.3L193.0 500.0L198.5 512.7Z" fill="#b2b2ff"/>
<path d="M199.0 528.2L193.4 514.9L198.5 512.7L204.0 526.1Z" fill="#8989ff"/>
<path d="M155.4 464.0L150.0 455.0L155.2 452.5L160.7 461.4Z" fill="#ffaeae"/>
<path d="M171.7 481.6L166.1 471.1L171.4 468.6L176.9 479.1Z" fill="#ffe3e3"/>
<path d="M144.6 457.6L139.2 449.5L144.6 446.8L150.0 455.0Z" fill="#ff9999"/>
<path d="M123.1 447.4L117.8 440.7L123.3 438.0L128.5 444.7Z" fill="#ff7a7a"/>
<path d="M133.9 452.1L128.5 444.7L133.9 442.1L139.2 449.5Z" fill="#ff8888"/>
<path d="M177.2 492.7L171.7 481.6L176.9 479.1L182.4 490.3Z" fill="#fcfcff"/>
<path d="M160.9 473.6L155.4 464.0L160.7 461.4L166.1 471.1Z" fill="#ffc7c7"/>
<path d="M182.7 504.6L177.2 492.7L182.4 490.3L187.9 502.3Z" fill="#d9d9ff"/>
<path d="M199.4 544.2L193.8 530.4L199.0 528.2L204.5 542.2Z" fill="#5f5fff"/>
<path d="M188.3 517.1L182.7 504.6L187.9 502.3L193.4 514.9Z" fill="#b3b3ff"/>
<path d="M150.1 466.5L144.6 457.6L150.0 455.0L155.4 464.0Z" fill="#ffafaf"/>
<path d="M193.8 530.4L188.3 517.1L193.4 514.9L199.0 528.2Z" fill="#8a8aff"/>
<path d="M166.4 484.0L160.9 473.6L166.1 471.1L171.7 481.6Z" fill="#ffe4e4"/>
<path d="M139.3 460.3L133.9 452.1L139.2 449.5L144.6 457.6Z" fill="#ff9b9b"/>
<path d="M128.4 454.8L123.1 447.4L128.5 444.7L133.9 452.1Z" fill="#ff8a8a"/>
<path d="M171.9 495.1L166.4 484.0L171.7 481.6L177.2 492.7Z" fill="#fcfcff"/>
<path d="M155.6 476.2L150.1 466.5L155.4 464.0L160.9 473.6Z" fill="#ffc8c8"/>
<path d="M177.5 506.9L171.9 495.1L177.2 492.7L182.7 504.6Z" fill="#d9d9ff"/>
<path d="M144.7 469.1L139.3 460.3L144.6 457.6L150.1 466.5Z" fill="#ffb1b1"/>
<path d="M183.1 519.4L177.5 506.9L182.7 504.6L188.3 517.1Z" fill="#b5b5ff"/>
<path d="M194.3 546.3L188.7 532.5L193.8 530.4L199.4 544.2Z" fill="#6161ff"/>
<path d="M188.7 532.5L183.1 519.4L188.3 517.1L193.8 530.4Z" fill="#8d8dff"/>
<path d="M161.1 486.5L155.6 476.2L160.9 473.6L166.4 484.0Z" fill="#ffe4e4"/>
<path d="M133.8 462.9L128.4 454.8L133.9 452.1L139.3 460.3Z" fill="#ff9d9d"/>
<path d="M166.7 497.5L161.1 486.5L166.4 484.0L171.9 495.1Z" fill="#fbfbff"/>
<path d="M150.2 478.7L144.7 469.1L150.1 466.5L155.6 476.2Z" fill="#ffc9c9"/>
<path d="M172.2 509.2L166.7 497.5L171.9 495.1L177.5 506.9Z" fill="#d9d9ff"/>
<path d="M139.3 471.8L133.8 462.9L139.3 460.3L144.7 469.1Z" fill="#ffb2b2"/>
<path d="M177.8 521.6L172.2 509.2L177.5 506.9L183.1 519.4Z" fill="#b5b5ff"/>
<path d="M155.7 489.0L150.2 478.7L155.6 476.2L161.1 486.5Z" fill="#ffe5e5"/>
<path d="M189.1 548.4L183.5 534.7L188.7 532.5L194.3 546.3Z" fill="#6464ff"/>
<path d="M183.5 534.7L177.8 521.6L183.1 519.4L188.7 532.5Z" fill="#8e8eff"/>
<path d="M161.3 499.9L155.7 489.0L161.1 486.5L166.7 497.5Z" fill="#fbfbff"/>
<path d="M144.8 481.3L139.3 471.8L144.7 469.1L150.2 478.7Z" fill="#ffcaca"/>
<path d="M166.9 511.6L161.3 499.9L166.7 497.5L172.2 509.2Z" fill="#dadaff"/>
<path d="M172.6 523.9L166.9 511.6L172.2 509.2L177.8 521.6Z" fill="#b6b6ff"/>
<path d="M150.4 491.5L144.8 481.3L150.2 478.7L155.7 489.0Z" fill="#ffe5e5"/>
<path d="M178.2 536.9L172.6 523.9L177.8 521.6L183.5 534.7Z" fill="#9090ff"/>
<path d="M183.8 550.5L178.2 536.9L183.5 534.7L189.1 548.4Z" fill="#6666ff"/>
<path d="M155.9 502.4L150.4 491.5L155.7 489.0L161.3 499.9Z" fill="#fbfbff"/>
<path d="M161.6 514.0L155.9 502.4L161.3 499.9L166.9 511.6Z" fill="#dadaff"/>
<path d="M167.2 526.2L161.6 514.0L166.9 511.6L172.6 523.9Z" fill="#b7b7ff"/>
<path d="M172.9 539.1L167.2 526.2L172.6 523.9L178.2 536.9Z" fill="#9191ff"/>
<path d="M178.5 552.7L172.9 539.1L178.2 536.9L183.8 550.5Z" fill="#6868ff"/>
</g>
<g stroke="#222" stroke-width="0.7" fill="none">
<path d="M57.8 355.2L119.6 391.1" />
<path d="M309.5 364.4L243.4 390.7" />
<path d="M170.2 533.2L170.5 580.3" />
</g>
<g stroke="#222" stroke-width="0.7" fill="none" opacity="0.75">
<path d="M119.6 391.1L169.6 420.1" />
<path d="M243.4 390.7L169.6 420.1" />
<path d="M169.6 420.1L170.2 533.2" />
</g>
<g font-family='"Liberation Sans", sans-serif' font-size="11.8" fill="#111" text-anchor="middle">
<text x="156.9" y="606.9" >1991</text>
<text x="135.7" y="589.6" >1995</text>
<text x="115.6" y="573.1" >1999</text>
<text x="96.6" y="557.5" >2003</text>
<text x="78.5" y="542.7" >2007</text>
<text x="61.2" y="528.6" >2011</text>
<text x="217.1" y="589.2" >0.00</text>
<text x="264.6" y="562.5" >0.03</text>
<text x="308.2" y="538.1" >0.06</text>
<text x="43.4" y="493.3" >−1.0</text>
<text x="40.3" y="461.9" >−0.5</text>
<text x="37.1" y="429.1" >0.0</text>
<text x="33.8" y="394.8" >0.5</text>
<text x="30.3" y="358.9" >1.0</text>
</g>
<g font-family='"Liberation Sans", sans-serif' font-size="12.5" fill="#111" text-anchor="middle">
<text x="10.0" y="429.6" transform="rotate(-90 10.0 429.6)">Scaled price</text>
<text x="74.7" y="577.5">Year</text>
<text x="294.7" y="579.0">Functional</text>
<text x="294.7" y="594.4">distinctiveness</text>
</g>
<text x="2.5" y="339.5" font-family='"DejaVu Sans", sans-serif' font-size="30.5" fill="#000">(c)</text>
<g stroke="#222" stroke-width="0.7" fill="none">
<path d="M410.9 353.6L544.5 311.6" />
<path d="M544.5 311.6L662.6 362.8" />
<path d="M410.9 353.6L422.6 499.7" />
<path d="M662.6 362.8L650.4 511.1" />
<path d="M422.6 499.7L523.5 578.7" />
<path d="M523.5 578.7L650.4 511.1" />
<path d="M544.5 311.6L543.7 447.3" stroke-dasharray="1.4 1.9"/>
<path d="M422.6 499.7L543.7 447.3" stroke-dasharray="1.4 1.9"/>
<path d="M650.4 511.1L543.7 447.3" stroke-dasharray="1.4 1.9"/>
<path d="M524.0 578.7L516.3 590.8" />
<path d="M502.5 562.0L495.0 573.7" />
<path d="M482.1 546.1L474.8 557.5" />
<path d="M462.7 531.0L455.6 542.1" />
<path d="M444.3 516.7L437.3 527.5" />
<path d="M426.8 503.1L419.9 513.6" />
<path d="M549.7 565.0L556.0 577.5" />
<path d="M598.6 538.8L604.8 550.8" />
<path d="M643.5 514.8L649.5 526.2" />
<path d="M421.6 488.2L409.3 487.6" />
<path d="M419.1 456.7L406.5 456.2" />
<path d="M416.5 423.9L403.6 423.4" />
<path d="M413.8 389.6L400.6 389.0" />
<path d="M410.9 353.6L397.4 353.1" />
</g>
<g stroke="#000" stroke-width="0.48" stroke-linejoin="round">
<path d="M543.7 350.6L538.9 351.8L543.8 349.3L548.6 348.0Z" fill="#ff3333"/>
<path d="M538.8 353.2L534.0 354.3L538.9 351.8L543.7 350.6Z" fill="#ff3535"/>
<path d="M533.8 355.7L529.0 356.9L534.0 354.3L538.8 353.2Z" fill="#ff3939"/>
<path d="M548.6 350.2L543.7 350.6L548.6 348.0L553.5 347.6Z" fill="#ff3333"/>
<path d="M528.8 358.3L524.0 359.4L529.0 356.9L533.8 355.7Z" fill="#ff3d3d"/>
<path d="M543.7 352.8L538.8 353.2L543.7 350.6L548.6 350.2Z" fill="#ff3333"/>
<path d="M523.7 361.0L519.0 362.0L524.0 359.4L528.8 358.3Z" fill="#ff4141"/>
<path d="M553.6 350.7L548.6 350.2L553.5 347.6L558.5 348.1Z" fill="#ff3333"/>
<path d="M538.7 355.4L533.8 355.7L538.8 353.2L543.7 352.8Z" fill="#ff3333"/>
<path d="M518.7 363.6L514.0 364.6L519.0 362.0L523.7 361.0Z" fill="#ff4444"/>
<path d="M548.6 353.3L543.7 352.8L548.6 350.2L553.6 350.7Z" fill="#ff3333"/>
<path d="M533.6 358.0L528.8 358.3L533.8 355.7L538.7 355.4Z" fill="#ff3333"/>
<path d="M558.6 352.0L553.6 350.7L558.5 348.1L563.5 349.4Z" fill="#ff3333"/>
<path d="M513.5 366.3L508.8 367.2L514.0 364.6L518.7 363.6Z" fill="#ff4848"/>
<path d="M543.6 355.9L538.7 355.4L543.7 352.8L548.6 353.3Z" fill="#ff3333"/>
<path d="M528.6 360.7L523.7 361.0L528.8 358.3L533.6 358.0Z" fill="#ff3434"/>
<path d="M553.6 354.6L548.6 353.3L553.6 350.7L558.6 352.0Z" fill="#ff3333"/>
<path d="M508.4 368.9L503.7 369.9L508.8 367.2L513.5 366.3Z" fill="#ff4c4c"/>
<path d="M538.5 358.6L533.6 358.0L538.7 355.4L543.6 355.9Z" fill="#ff3333"/>
<path d="M523.4 363.4L518.7 363.6L523.7 361.0L528.6 360.7Z" fill="#ff3838"/>
<path d="M563.6 354.2L558.6 352.0L563.5 349.4L568.6 351.6Z" fill="#ff3333"/>
<path d="M548.6 357.3L543.6 355.9L548.6 353.3L553.6 354.6Z" fill="#ff3333"/>
<path d="M503.2 371.6L498.5 372.5L503.7 369.9L508.4 368.9Z" fill="#ff4f4f"/>
<path d="M533.4 361.3L528.6 360.7L533.6 358.0L538.5 358.6Z" fill="#ff3333"/>
<path d="M518.3 366.1L513.5 366.3L518.7 363.6L523.4 363.4Z" fill="#ff3b3b"/>
<path d="M558.6 356.8L553.6 354.6L558.6 352.0L563.6 354.2Z" fill="#ff3333"/>
<path d="M543.5 360.0L538.5 358.6L543.6 355.9L548.6 357.3Z" fill="#ff3333"/>
<path d="M497.9 374.4L493.3 375.2L498.5 372.5L503.2 371.6Z" fill="#ff5353"/>
<path d="M528.3 364.0L523.4 363.4L528.6 360.7L533.4 361.3Z" fill="#ff3333"/>
<path d="M513.1 368.8L508.4 368.9L513.5 366.3L518.3 366.1Z" fill="#ff3f3f"/>
<path d="M568.8 357.3L563.6 354.2L568.6 351.6L573.7 354.7Z" fill="#ff3333"/>
<path d="M553.6 359.5L548.6 357.3L553.6 354.6L558.6 356.8Z" fill="#ff3333"/>
<path d="M538.4 362.6L533.4 361.3L538.5 358.6L543.5 360.0Z" fill="#ff3333"/>
<path d="M492.6 377.1L488.0 377.9L493.3 375.2L497.9 374.4Z" fill="#ff5757"/>
<path d="M523.1 366.7L518.3 366.1L523.4 363.4L528.3 364.0Z" fill="#ff3333"/>
<path d="M507.9 371.5L503.2 371.6L508.4 368.9L513.1 368.8Z" fill="#ff4343"/>
<path d="M563.8 360.0L558.6 356.8L563.6 354.2L568.8 357.3Z" fill="#ff3333"/>
<path d="M573.9 361.3L568.8 357.3L573.7 354.7L578.9 358.7Z" fill="#ff3333"/>
<path d="M548.5 362.2L543.5 360.0L548.6 357.3L553.6 359.5Z" fill="#ff3333"/>
<path d="M533.3 365.4L528.3 364.0L533.4 361.3L538.4 362.6Z" fill="#ff3333"/>
<path d="M487.3 379.9L482.7 380.6L488.0 377.9L492.6 377.1Z" fill="#ff5a5a"/>
<path d="M517.9 369.4L513.1 368.8L518.3 366.1L523.1 366.7Z" fill="#ff3636"/>
<path d="M502.6 374.3L497.9 374.4L503.2 371.6L507.9 371.5Z" fill="#ff4747"/>
<path d="M558.7 362.6L553.6 359.5L558.6 356.8L563.8 360.0Z" fill="#ff3333"/>
<path d="M568.9 364.0L563.8 360.0L568.8 357.3L573.9 361.3Z" fill="#ff3333"/>
<path d="M543.4 364.9L538.4 362.6L543.5 360.0L548.5 362.2Z" fill="#ff3333"/>
<path d="M579.1 366.3L573.9 361.3L578.9 358.7L584.1 363.7Z" fill="#ff3333"/>
<path d="M528.1 368.1L523.1 366.7L528.3 364.0L533.3 365.4Z" fill="#ff3333"/>
<path d="M481.9 382.7L477.4 383.4L482.7 380.6L487.3 379.9Z" fill="#ff5e5e"/>
<path d="M512.7 372.2L507.9 371.5L513.1 368.8L517.9 369.4Z" fill="#ff3a3a"/>
<path d="M497.3 377.1L492.6 377.1L497.9 374.4L502.6 374.3Z" fill="#ff4b4b"/>
<path d="M553.6 365.3L548.5 362.2L553.6 359.5L558.7 362.6Z" fill="#ff3333"/>
<path d="M563.8 366.6L558.7 362.6L563.8 360.0L568.9 364.0Z" fill="#ff3333"/>
<path d="M538.3 367.6L533.3 365.4L538.4 362.6L543.4 364.9Z" fill="#ff3333"/>
<path d="M574.1 368.9L568.9 364.0L573.9 361.3L579.1 366.3Z" fill="#ff3333"/>
<path d="M584.3 372.1L579.1 366.3L584.1 363.7L589.2 369.6Z" fill="#ff3333"/>
<path d="M522.8 370.9L517.9 369.4L523.1 366.7L528.1 368.1Z" fill="#ff3333"/>
<path d="M476.5 385.5L472.0 386.1L477.4 383.4L481.9 382.7Z" fill="#ff6262"/>
<path d="M507.4 375.0L502.6 374.3L507.9 371.5L512.7 372.2Z" fill="#ff3d3d"/>
<path d="M492.0 379.9L487.3 379.9L492.6 377.1L497.3 377.1Z" fill="#ff4e4e"/>
<path d="M548.5 368.0L543.4 364.9L548.5 362.2L553.6 365.3Z" fill="#ff3333"/>
<path d="M558.8 369.3L553.6 365.3L558.7 362.6L563.8 366.6Z" fill="#ff3333"/>
<path d="M533.1 370.3L528.1 368.1L533.3 365.4L538.3 367.6Z" fill="#ff3333"/>
<path d="M589.5 378.9L584.3 372.1L589.2 369.6L594.4 376.4Z" fill="#ff3a3a"/>
<path d="M569.0 371.5L563.8 366.6L568.9 364.0L574.1 368.9Z" fill="#ff3333"/>
<path d="M579.3 374.7L574.1 368.9L579.1 366.3L584.3 372.1Z" fill="#ff3333"/>
<path d="M517.6 373.6L512.7 372.2L517.9 369.4L522.8 370.9Z" fill="#ff3434"/>
<path d="M471.1 388.3L466.6 388.9L472.0 386.1L476.5 385.5Z" fill="#ff6565"/>
<path d="M502.1 377.8L497.3 377.1L502.6 374.3L507.4 375.0Z" fill="#ff4141"/>
<path d="M486.6 382.7L481.9 382.7L487.3 379.9L492.0 379.9Z" fill="#ff5252"/>
<path d="M543.3 370.7L538.3 367.6L543.4 364.9L548.5 368.0Z" fill="#ff3333"/>
<path d="M644.9 511.4L640.2 495.5L644.8 493.8L649.5 509.8Z" fill="#3b3bff"/>
<path d="M553.6 372.0L548.5 368.0L553.6 365.3L558.8 369.3Z" fill="#ff3333"/>
<path d="M594.7 386.7L589.5 378.9L594.4 376.4L599.6 384.2Z" fill="#ff4d4d"/>
<path d="M527.8 373.1L522.8 370.9L528.1 368.1L533.1 370.3Z" fill="#ff3333"/>
<path d="M563.9 374.1L558.8 369.3L563.8 366.6L569.0 371.5Z" fill="#ff3333"/>
<path d="M584.5 381.5L579.3 374.7L584.3 372.1L589.5 378.9Z" fill="#ff3d3d"/>
<path d="M512.3 376.4L507.4 375.0L512.7 372.2L517.6 373.6Z" fill="#ff3838"/>
<path d="M574.2 377.3L569.0 371.5L574.1 368.9L579.3 374.7Z" fill="#ff3333"/>
<path d="M465.6 391.1L461.1 391.7L466.6 388.9L471.1 388.3Z" fill="#ff6969"/>
<path d="M496.7 380.6L492.0 379.9L497.3 377.1L502.1 377.8Z" fill="#ff4545"/>
<path d="M481.1 385.5L476.5 385.5L481.9 382.7L486.6 382.7Z" fill="#ff5656"/>
<path d="M640.2 495.5L635.3 480.3L640.0 478.5L644.8 493.8Z" fill="#6f6fff"/>
<path d="M538.1 373.4L533.1 370.3L538.3 367.6L543.3 370.7Z" fill="#ff3333"/>
<path d="M599.9 395.4L594.7 386.7L599.6 384.2L604.8 393.0Z" fill="#ff6363"/>
<path d="M548.4 374.7L543.3 370.7L548.5 368.0L553.6 372.0Z" fill="#ff3333"/>
<path d="M522.5 375.9L517.6 373.6L522.8 370.9L527.8 373.1Z" fill="#ff3333"/>
<path d="M635.3 480.3L630.4 465.9L635.2 464.0L640.0 478.5Z" fill="#a0a0ff"/>
<path d="M589.7 389.2L584.5 381.5L589.5 378.9L594.7 386.7Z" fill="#ff4f4f"/>
<path d="M605.1 405.0L599.9 395.4L604.8 393.0L610.0 402.7Z" fill="#ff7d7d"/>
<path d="M640.2 513.0L635.4 497.2L640.2 495.5L644.9 511.4Z" fill="#3e3eff"/>
<path d="M558.8 376.8L553.6 372.0L558.8 369.3L563.9 374.1Z" fill="#ff3333"/>
<path d="M579.4 384.0L574.2 377.3L579.3 374.7L584.5 381.5Z" fill="#ff4040"/>
<path d="M506.9 379.3L502.1 377.8L507.4 375.0L512.3 376.4Z" fill="#ff3c3c"/>
<path d="M569.1 379.9L563.9 374.1L569.0 371.5L574.2 377.3Z" fill="#ff3535"/>
<path d="M630.4 465.9L625.4 452.2L630.2 450.2L635.2 464.0Z" fill="#cdcdff"/>
<path d="M460.0 394.0L455.6 394.5L461.1 391.7L465.6 391.1Z" fill="#ff6d6d"/>
<path d="M610.2 415.6L605.1 405.0L610.0 402.7L615.1 413.3Z" fill="#ff9999"/>
<path d="M491.3 383.4L486.6 382.7L492.0 379.9L496.7 380.6Z" fill="#ff4949"/>
<path d="M475.7 388.4L471.1 388.3L476.5 385.5L481.1 385.5Z" fill="#ff5a5a"/>
<path d="M532.9 376.2L527.8 373.1L533.1 370.3L538.1 373.4Z" fill="#ff3333"/>
<path d="M625.4 452.2L620.4 439.2L625.2 437.1L630.2 450.2Z" fill="#f8f8ff"/>
<path d="M615.3 427.0L610.2 415.6L615.1 413.3L620.2 424.8Z" fill="#ffbaba"/>
<path d="M620.4 439.2L615.3 427.0L620.2 424.8L625.2 437.1Z" fill="#ffdfdf"/>
<path d="M594.9 397.8L589.7 389.2L594.7 386.7L599.9 395.4Z" fill="#ff6565"/>
<path d="M635.4 497.2L630.6 482.1L635.3 480.3L640.2 495.5Z" fill="#7171ff"/>
<path d="M543.2 377.4L538.1 373.4L543.3 370.7L548.4 374.7Z" fill="#ff3333"/>
<path d="M517.2 378.7L512.3 376.4L517.6 373.6L522.5 375.9Z" fill="#ff3535"/>
<path d="M584.7 391.7L579.4 384.0L584.5 381.5L589.7 389.2Z" fill="#ff5151"/>
<path d="M600.1 407.4L594.9 397.8L599.9 395.4L605.1 405.0Z" fill="#ff7e7e"/>
<path d="M630.6 482.1L625.6 467.8L630.4 465.9L635.3 480.3Z" fill="#a1a1ff"/>
<path d="M553.6 379.5L548.4 374.7L553.6 372.0L558.8 376.8Z" fill="#ff3333"/>
<path d="M501.5 382.1L496.7 380.6L502.1 377.8L506.9 379.3Z" fill="#ff4040"/>
<path d="M574.3 386.6L569.1 379.9L574.2 377.3L579.4 384.0Z" fill="#ff4343"/>
<path d="M564.0 382.5L558.8 376.8L563.9 374.1L569.1 379.9Z" fill="#ff3838"/>
<path d="M454.5 396.9L450.1 397.4L455.6 394.5L460.0 394.0Z" fill="#ff7171"/>
<path d="M485.8 386.3L481.1 385.5L486.6 382.7L491.3 383.4Z" fill="#ff4d4d"/>
<path d="M635.5 514.6L630.7 498.9L635.4 497.2L640.2 513.0Z" fill="#4141ff"/>
<path d="M470.1 391.3L465.6 391.1L471.1 388.3L475.7 388.4Z" fill="#ff5e5e"/>
<path d="M605.3 417.8L600.1 407.4L605.1 405.0L610.2 415.6Z" fill="#ff9b9b"/>
<path d="M527.6 379.0L522.5 375.9L527.8 373.1L532.9 376.2Z" fill="#ff3333"/>
<path d="M625.6 467.8L620.6 454.2L625.4 452.2L630.4 465.9Z" fill="#cfcfff"/>
<path d="M610.4 429.2L605.3 417.8L610.2 415.6L615.3 427.0Z" fill="#ffbbbb"/>
<path d="M620.6 454.2L615.5 441.3L620.4 439.2L625.4 452.2Z" fill="#f9f9ff"/>
<path d="M589.9 400.2L584.7 391.7L589.7 389.2L594.9 397.8Z" fill="#ff6767"/>
<path d="M615.5 441.3L610.4 429.2L615.3 427.0L620.4 439.2Z" fill="#ffdfdf"/>
<path d="M538.0 380.1L532.9 376.2L538.1 373.4L543.2 377.4Z" fill="#ff3333"/>
<path d="M511.9 381.5L506.9 379.3L512.3 376.4L517.2 378.7Z" fill="#ff3939"/>
<path d="M630.7 498.9L625.7 484.0L630.6 482.1L635.4 497.2Z" fill="#7474ff"/>
<path d="M579.6 394.2L574.3 386.6L579.4 384.0L584.7 391.7Z" fill="#ff5555"/>
<path d="M548.4 382.2L543.2 377.4L548.4 374.7L553.6 379.5Z" fill="#ff3434"/>
<path d="M496.1 385.0L491.3 383.4L496.7 380.6L501.5 382.1Z" fill="#ff4343"/>
<path d="M595.1 409.7L589.9 400.2L594.9 397.8L600.1 407.4Z" fill="#ff8080"/>
<path d="M569.2 389.2L564.0 382.5L569.1 379.9L574.3 386.6Z" fill="#ff4545"/>
<path d="M558.8 385.2L553.6 379.5L558.8 376.8L564.0 382.5Z" fill="#ff3b3b"/>
<path d="M448.8 399.8L444.5 400.3L450.1 397.4L454.5 396.9Z" fill="#ff7575"/>
<path d="M480.3 389.2L475.7 388.4L481.1 385.5L485.8 386.3Z" fill="#ff5151"/>
<path d="M625.7 484.0L620.7 469.7L625.6 467.8L630.6 482.1Z" fill="#a4a4ff"/>
<path d="M464.6 394.2L460.0 394.0L465.6 391.1L470.1 391.3Z" fill="#ff6161"/>
<path d="M522.3 381.8L517.2 378.7L522.5 375.9L527.6 379.0Z" fill="#ff3535"/>
<path d="M600.3 420.1L595.1 409.7L600.1 407.4L605.3 417.8Z" fill="#ff9d9d"/>
<path d="M630.8 516.3L625.9 500.7L630.7 498.9L635.5 514.6Z" fill="#4545ff"/>
<path d="M620.7 469.7L615.7 456.2L620.6 454.2L625.6 467.8Z" fill="#d0d0ff"/>
<path d="M584.8 402.7L579.6 394.2L584.7 391.7L589.9 400.2Z" fill="#ff6969"/>
<path d="M605.5 431.4L600.3 420.1L605.3 417.8L610.4 429.2Z" fill="#ffbcbc"/>
<path d="M615.7 456.2L610.6 443.4L615.5 441.3L620.6 454.2Z" fill="#f9f9ff"/>
<path d="M610.6 443.4L605.5 431.4L610.4 429.2L615.5 441.3Z" fill="#ffdfdf"/>
<path d="M506.5 384.4L501.5 382.1L506.9 379.3L511.9 381.5Z" fill="#ff3d3d"/>
<path d="M532.7 382.9L527.6 379.0L532.9 376.2L538.0 380.1Z" fill="#ff3535"/>
<path d="M574.5 396.7L569.2 389.2L574.3 386.6L579.6 394.2Z" fill="#ff5757"/>
<path d="M490.6 387.9L485.8 386.3L491.3 383.4L496.1 385.0Z" fill="#ff4747"/>
<path d="M543.1 384.9L538.0 380.1L543.2 377.4L548.4 382.2Z" fill="#ff3838"/>
<path d="M625.9 500.7L620.9 485.8L625.7 484.0L630.7 498.9Z" fill="#7676ff"/>
<path d="M590.0 412.1L584.8 402.7L589.9 400.2L595.1 409.7Z" fill="#ff8181"/>
<path d="M564.0 391.8L558.8 385.2L564.0 382.5L569.2 389.2Z" fill="#ff4949"/>
<path d="M553.6 387.9L548.4 382.2L553.6 379.5L558.8 385.2Z" fill="#ff3e3e"/>
<path d="M443.2 402.8L438.8 403.1L444.5 400.3L448.8 399.8Z" fill="#ff7979"/>
<path d="M474.8 392.1L470.1 391.3L475.7 388.4L480.3 389.2Z" fill="#ff5555"/>
<path d="M459.0 397.1L454.5 396.9L460.0 394.0L464.6 394.2Z" fill="#ff6565"/>
<path d="M516.9 384.6L511.9 381.5L517.2 378.7L522.3 381.8Z" fill="#ff3939"/>
<path d="M620.9 485.8L615.8 471.7L620.7 469.7L625.7 484.0Z" fill="#a5a5ff"/>
<path d="M595.3 422.4L590.0 412.1L595.1 409.7L600.3 420.1Z" fill="#ff9d9d"/>
<path d="M579.7 405.2L574.5 396.7L579.6 394.2L584.8 402.7Z" fill="#ff6b6b"/>
<path d="M615.8 471.7L610.8 458.3L615.7 456.2L620.7 469.7Z" fill="#d1d1ff"/>
<path d="M501.0 387.3L496.1 385.0L501.5 382.1L506.5 384.4Z" fill="#ff4040"/>
<path d="M527.3 385.7L522.3 381.8L527.6 379.0L532.7 382.9Z" fill="#ff3838"/>
<path d="M600.5 433.6L595.3 422.4L600.3 420.1L605.5 431.4Z" fill="#ffbdbd"/>
<path d="M625.9 517.9L621.0 502.5L625.9 500.7L630.8 516.3Z" fill="#4848ff"/>
<path d="M610.8 458.3L605.6 445.6L610.6 443.4L615.7 456.2Z" fill="#f9f9ff"/>
<path d="M605.6 445.6L600.5 433.6L605.5 431.4L610.6 443.4Z" fill="#ffdfdf"/>
<path d="M569.3 399.3L564.0 391.8L569.2 389.2L574.5 396.7Z" fill="#ff5959"/>
<path d="M485.1 390.8L480.3 389.2L485.8 386.3L490.6 387.9Z" fill="#ff4b4b"/>
<path d="M537.8 387.7L532.7 382.9L538.0 380.1L543.1 384.9Z" fill="#ff3b3b"/>
<path d="M437.4 405.7L433.1 406.1L438.8 403.1L443.2 402.8Z" fill="#ff7d7d"/>
<path d="M558.8 394.4L553.6 387.9L558.8 385.2L564.0 391.8Z" fill="#ff4b4b"/>
<path d="M469.2 395.1L464.6 394.2L470.1 391.3L474.8 392.1Z" fill="#ff5959"/>
<path d="M548.3 390.6L543.1 384.9L548.4 382.2L553.6 387.9Z" fill="#ff4141"/>
<path d="M585.0 414.5L579.7 405.2L584.8 402.7L590.0 412.1Z" fill="#ff8383"/>
<path d="M453.3 400.1L448.8 399.8L454.5 396.9L459.0 397.1Z" fill="#ff6969"/>
<path d="M621.0 502.5L616.0 487.7L620.9 485.8L625.9 500.7Z" fill="#7979ff"/>
<path d="M511.5 387.5L506.5 384.4L511.9 381.5L516.9 384.6Z" fill="#ff3d3d"/>
<path d="M590.2 424.8L585.0 414.5L590.0 412.1L595.3 422.4Z" fill="#ff9f9f"/>
<path d="M616.0 487.7L610.9 473.6L615.8 471.7L620.9 485.8Z" fill="#a7a7ff"/>
<path d="M574.6 407.7L569.3 399.3L574.5 396.7L579.7 405.2Z" fill="#ff6d6d"/>
<path d="M495.5 390.2L490.6 387.9L496.1 385.0L501.0 387.3Z" fill="#ff4444"/>
<path d="M522.0 388.5L516.9 384.6L522.3 381.8L527.3 385.7Z" fill="#ff3c3c"/>
<path d="M595.4 435.8L590.2 424.8L595.3 422.4L600.5 433.6Z" fill="#ffbdbd"/>
<path d="M610.9 473.6L605.8 460.3L610.8 458.3L615.8 471.7Z" fill="#d2d2ff"/>
<path d="M479.6 393.7L474.8 392.1L480.3 389.2L485.1 390.8Z" fill="#ff4f4f"/>
<path d="M600.6 447.7L595.4 435.8L600.5 433.6L605.6 445.6Z" fill="#ffdfdf"/>
<path d="M605.8 460.3L600.6 447.7L605.6 445.6L610.8 458.3Z" fill="#fafaff"/>
<path d="M564.1 401.9L558.8 394.4L564.0 391.8L569.3 399.3Z" fill="#ff5c5c"/>
<path d="M532.5 390.4L527.3 385.7L532.7 382.9L537.8 387.7Z" fill="#ff3e3e"/>
<path d="M621.1 519.6L616.1 504.2L621.0 502.5L625.9 517.9Z" fill="#4b4bff"/>
<path d="M431.7 408.7L427.4 409.0L433.1 406.1L437.4 405.7Z" fill="#ff8080"/>
<path d="M463.6 398.0L459.0 397.1L464.6 394.2L469.2 395.1Z" fill="#ff5d5d"/>
<path d="M553.6 397.1L548.3 390.6L553.6 387.9L558.8 394.4Z" fill="#ff4e4e"/>
<path d="M543.0 393.3L537.8 387.7L543.1 384.9L548.3 390.6Z" fill="#ff4545"/>
<path d="M447.6 403.1L443.2 402.8L448.8 399.8L453.3 400.1Z" fill="#ff6d6d"/>
<path d="M579.8 417.0L574.6 407.7L579.7 405.2L585.0 414.5Z" fill="#ff8585"/>
<path d="M506.0 390.3L501.0 387.3L506.5 384.4L511.5 387.5Z" fill="#ff4040"/>
<path d="M616.1 504.2L611.0 489.6L616.0 487.7L621.0 502.5Z" fill="#7c7cff"/>
<path d="M585.1 427.1L579.8 417.0L585.0 414.5L590.2 424.8Z" fill="#ffa0a0"/>
<path d="M490.0 393.1L485.1 390.8L490.6 387.9L495.5 390.2Z" fill="#ff4848"/>
<path d="M516.5 391.4L511.5 387.5L516.9 384.6L522.0 388.5Z" fill="#ff3f3f"/>
<path d="M569.4 410.2L564.1 401.9L569.3 399.3L574.6 407.7Z" fill="#ff7070"/>
<path d="M611.0 489.6L605.9 475.6L610.9 473.6L616.0 487.7Z" fill="#a9a9ff"/>
<path d="M473.9 396.7L469.2 395.1L474.8 392.1L479.6 393.7Z" fill="#ff5353"/>
<path d="M590.3 438.1L585.1 427.1L590.2 424.8L595.4 435.8Z" fill="#ffbebe"/>
<path d="M527.1 393.2L522.0 388.5L527.3 385.7L532.5 390.4Z" fill="#ff4141"/>
<path d="M558.8 404.5L553.6 397.1L558.8 394.4L564.1 401.9Z" fill="#ff5e5e"/>
<path d="M605.9 475.6L600.7 462.4L605.8 460.3L610.9 473.6Z" fill="#d3d3ff"/>
<path d="M425.9 411.8L421.6 412.0L427.4 409.0L431.7 408.7Z" fill="#ff8484"/>
<path d="M457.9 401.0L453.3 400.1L459.0 397.1L463.6 398.0Z" fill="#ff6161"/>
<path d="M595.5 449.9L590.3 438.1L595.4 435.8L600.6 447.7Z" fill="#ffdfdf"/>
<path d="M441.9 406.1L437.4 405.7L443.2 402.8L447.6 403.1Z" fill="#ff7171"/>
<path d="M600.7 462.4L595.5 449.9L600.6 447.7L605.8 460.3Z" fill="#fafaff"/>
<path d="M537.7 396.0L532.5 390.4L537.8 387.7L543.0 393.3Z" fill="#ff4848"/>
<path d="M548.3 399.7L543.0 393.3L548.3 390.6L553.6 397.1Z" fill="#ff5151"/>
<path d="M500.5 393.2L495.5 390.2L501.0 387.3L506.0 390.3Z" fill="#ff4444"/>
<path d="M574.6 419.4L569.4 410.2L574.6 407.7L579.8 417.0Z" fill="#ff8787"/>
<path d="M616.2 521.3L611.1 506.0L616.1 504.2L621.1 519.6Z" fill="#4e4eff"/>
<path d="M484.4 396.0L479.6 393.7L485.1 390.8L490.0 393.1Z" fill="#ff4c4c"/>
<path d="M511.0 394.2L506.0 390.3L511.5 387.5L516.5 391.4Z" fill="#ff4343"/>
<path d="M579.9 429.5L574.6 419.4L579.8 417.0L585.1 427.1Z" fill="#ffa1a1"/>
<path d="M611.1 506.0L606.0 491.5L611.0 489.6L616.1 504.2Z" fill="#7e7eff"/>
<path d="M564.1 412.7L558.8 404.5L564.1 401.9L569.4 410.2Z" fill="#ff7171"/>
<path d="M468.3 399.7L463.6 398.0L469.2 395.1L473.9 396.7Z" fill="#ff5656"/>
<path d="M521.7 396.0L516.5 391.4L522.0 388.5L527.1 393.2Z" fill="#ff4545"/>
<path d="M606.0 491.5L600.9 477.6L605.9 475.6L611.0 489.6Z" fill="#aaaaff"/>
<path d="M553.5 407.1L548.3 399.7L553.6 397.1L558.8 404.5Z" fill="#ff6161"/>
<path d="M585.2 440.4L579.9 429.5L585.1 427.1L590.3 438.1Z" fill="#ffbfbf"/>
<path d="M452.2 404.0L447.6 403.1L453.3 400.1L457.9 401.0Z" fill="#ff6565"/>
<path d="M420.0 414.8L415.8 415.0L421.6 412.0L425.9 411.8Z" fill="#ff8888"/>
<path d="M436.1 409.1L431.7 408.7L437.4 405.7L441.9 406.1Z" fill="#ff7575"/>
<path d="M532.3 398.8L527.1 393.2L532.5 390.4L537.7 396.0Z" fill="#ff4b4b"/>
<path d="M542.9 402.4L537.7 396.0L543.0 393.3L548.3 399.7Z" fill="#ff5454"/>
<path d="M494.9 396.2L490.0 393.1L495.5 390.2L500.5 393.2Z" fill="#ff4747"/>
<path d="M600.9 477.6L595.7 464.5L600.7 462.4L605.9 475.6Z" fill="#d4d4ff"/>
<path d="M590.4 452.1L585.2 440.4L590.3 438.1L595.5 449.9Z" fill="#ffe0e0"/>
<path d="M595.7 464.5L590.4 452.1L595.5 449.9L600.7 462.4Z" fill="#fbfbff"/>
<path d="M569.4 421.9L564.1 412.7L569.4 410.2L574.6 419.4Z" fill="#ff8989"/>
<path d="M611.2 523.0L606.1 507.9L611.1 506.0L616.2 521.3Z" fill="#5151ff"/>
<path d="M478.8 399.0L473.9 396.7L479.6 393.7L484.4 396.0Z" fill="#ff4f4f"/>
<path d="M505.5 397.1L500.5 393.2L506.0 390.3L511.0 394.2Z" fill="#ff4646"/>
<path d="M558.8 415.3L553.5 407.1L558.8 404.5L564.1 412.7Z" fill="#ff7474"/>
<path d="M574.7 431.9L569.4 421.9L574.6 419.4L579.9 429.5Z" fill="#ffa2a2"/>
<path d="M462.6 402.7L457.9 401.0L463.6 398.0L468.3 399.7Z" fill="#ff5a5a"/>
<path d="M606.1 507.9L600.9 493.4L606.0 491.5L611.1 506.0Z" fill="#8181ff"/>
<path d="M516.2 398.9L511.0 394.2L516.5 391.4L521.7 396.0Z" fill="#ff4949"/>
<path d="M446.4 407.1L441.9 406.1L447.6 403.1L452.2 404.0Z" fill="#ff6969"/>
<path d="M548.2 409.7L542.9 402.4L548.3 399.7L553.5 407.1Z" fill="#ff6363"/>
<path d="M430.2 412.2L425.9 411.8L431.7 408.7L436.1 409.1Z" fill="#ff7979"/>
<path d="M580.0 442.7L574.7 431.9L579.9 429.5L585.2 440.4Z" fill="#ffc0c0"/>
<path d="M526.8 401.6L521.7 396.0L527.1 393.2L532.3 398.8Z" fill="#ff4d4d"/>
<path d="M489.3 399.1L484.4 396.0L490.0 393.1L494.9 396.2Z" fill="#ff4b4b"/>
<path d="M537.5 405.2L532.3 398.8L537.7 396.0L542.9 402.4Z" fill="#ff5757"/>
<path d="M600.9 493.4L595.8 479.7L600.9 477.6L606.0 491.5Z" fill="#adadff"/>
<path d="M585.3 454.3L580.0 442.7L585.2 440.4L590.4 452.1Z" fill="#ffe0e0"/>
<path d="M595.8 479.7L590.5 466.6L595.7 464.5L600.9 477.6Z" fill="#d5d5ff"/>
<path d="M564.1 424.4L558.8 415.3L564.1 412.7L569.4 421.9Z" fill="#ff8a8a"/>
<path d="M590.5 466.6L585.3 454.3L590.4 452.1L595.7 464.5Z" fill="#fbfbff"/>
<path d="M473.1 402.0L468.3 399.7L473.9 396.7L478.8 399.0Z" fill="#ff5353"/>
<path d="M500.0 400.0L494.9 396.2L500.5 393.2L505.5 397.1Z" fill="#ff4949"/>
<path d="M606.2 524.8L601.0 509.7L606.1 507.9L611.2 523.0Z" fill="#5555ff"/>
<path d="M553.5 417.9L548.2 409.7L553.5 407.1L558.8 415.3Z" fill="#ff7676"/>
<path d="M456.8 405.7L452.2 404.0L457.9 401.0L462.6 402.7Z" fill="#ff5e5e"/>
<path d="M569.4 434.3L564.1 424.4L569.4 421.9L574.7 431.9Z" fill="#ffa4a4"/>
<path d="M510.6 401.8L505.5 397.1L511.0 394.2L516.2 398.9Z" fill="#ff4c4c"/>
<path d="M440.6 410.1L436.1 409.1L441.9 406.1L446.4 407.1Z" fill="#ff6c6c"/>
<path d="M424.4 415.2L420.0 414.8L425.9 411.8L430.2 412.2Z" fill="#ff7d7d"/>
<path d="M542.8 412.4L537.5 405.2L542.9 402.4L548.2 409.7Z" fill="#ff6666"/>
<path d="M521.4 404.4L516.2 398.9L521.7 396.0L526.8 401.6Z" fill="#ff5151"/>
<path d="M483.7 402.1L478.8 399.0L484.4 396.0L489.3 399.1Z" fill="#ff4f4f"/>
<path d="M601.0 509.7L595.8 495.4L600.9 493.4L606.1 507.9Z" fill="#8383ff"/>
<path d="M532.1 407.9L526.8 401.6L532.3 398.8L537.5 405.2Z" fill="#ff5959"/>
<path d="M574.8 445.0L569.4 434.3L574.7 431.9L580.0 442.7Z" fill="#ffc0c0"/>
<path d="M595.8 495.4L590.6 481.7L595.8 479.7L600.9 493.4Z" fill="#aeaeff"/>
<path d="M558.8 426.9L553.5 417.9L558.8 415.3L564.1 424.4Z" fill="#ff8c8c"/>
<path d="M580.1 456.5L574.8 445.0L580.0 442.7L585.3 454.3Z" fill="#ffe0e0"/>
<path d="M467.4 405.0L462.6 402.7L468.3 399.7L473.1 402.0Z" fill="#ff5757"/>
<path d="M590.6 481.7L585.3 468.8L590.5 466.6L595.8 479.7Z" fill="#d6d6ff"/>
<path d="M585.3 468.8L580.1 456.5L585.3 454.3L590.5 466.6Z" fill="#fcfcff"/>
<path d="M494.4 402.9L489.3 399.1L494.9 396.2L500.0 400.0Z" fill="#ff4d4d"/>
<path d="M451.0 408.7L446.4 407.1L452.2 404.0L456.8 405.7Z" fill="#ff6262"/>
<path d="M548.1 420.5L542.8 412.4L548.2 409.7L553.5 417.9Z" fill="#ff7878"/>
<path d="M505.1 404.6L500.0 400.0L505.5 397.1L510.6 401.8Z" fill="#ff4f4f"/>
<path d="M434.7 413.2L430.2 412.2L436.1 409.1L440.6 410.1Z" fill="#ff7070"/>
<path d="M564.1 436.7L558.8 426.9L564.1 424.4L569.4 434.3Z" fill="#ffa5a5"/>
<path d="M601.1 526.5L595.9 511.6L601.0 509.7L606.2 524.8Z" fill="#5858ff"/>
<path d="M537.4 415.1L532.1 407.9L537.5 405.2L542.8 412.4Z" fill="#ff6969"/>
<path d="M478.0 405.1L473.1 402.0L478.8 399.0L483.7 402.1Z" fill="#ff5252"/>
<path d="M515.8 407.2L510.6 401.8L516.2 398.9L521.4 404.4Z" fill="#ff5454"/>
<path d="M526.6 410.7L521.4 404.4L526.8 401.6L532.1 407.9Z" fill="#ff5d5d"/>
<path d="M569.5 447.4L564.1 436.7L569.4 434.3L574.8 445.0Z" fill="#ffc1c1"/>
<path d="M595.9 511.6L590.7 497.3L595.8 495.4L601.0 509.7Z" fill="#8585ff"/>
<path d="M461.6 408.1L456.8 405.7L462.6 402.7L467.4 405.0Z" fill="#ff5b5b"/>
<path d="M553.4 429.4L548.1 420.5L553.5 417.9L558.8 426.9Z" fill="#ff8d8d"/>
<path d="M574.8 458.8L569.5 447.4L574.8 445.0L580.1 456.5Z" fill="#ffe0e0"/>
<path d="M488.7 405.9L483.7 402.1L489.3 399.1L494.4 402.9Z" fill="#ff5151"/>
<path d="M590.7 497.3L585.4 483.8L590.6 481.7L595.8 495.4Z" fill="#b0b0ff"/>
<path d="M580.1 470.9L574.8 458.8L580.1 456.5L585.3 468.8Z" fill="#fcfcff"/>
<path d="M585.4 483.8L580.1 470.9L585.3 468.8L590.6 481.7Z" fill="#d8d8ff"/>
<path d="M445.2 411.8L440.6 410.1L446.4 407.1L451.0 408.7Z" fill="#ff6666"/>
<path d="M542.7 423.1L537.4 415.1L542.8 412.4L548.1 420.5Z" fill="#ff7a7a"/>
<path d="M428.8 416.3L424.4 415.2L430.2 412.2L434.7 413.2Z" fill="#ff7474"/>
<path d="M499.4 407.6L494.4 402.9L500.0 400.0L505.1 404.6Z" fill="#ff5252"/>
<path d="M558.8 439.2L553.4 429.4L558.8 426.9L564.1 436.7Z" fill="#ffa6a6"/>
<path d="M472.3 408.1L467.4 405.0L473.1 402.0L478.0 405.1Z" fill="#ff5656"/>
<path d="M531.9 417.8L526.6 410.7L532.1 407.9L537.4 415.1Z" fill="#ff6b6b"/>
<path d="M510.2 410.1L505.1 404.6L510.6 401.8L515.8 407.2Z" fill="#ff5757"/>
<path d="M521.1 413.5L515.8 407.2L521.4 404.4L526.6 410.7Z" fill="#ff5f5f"/>
<path d="M596.0 528.3L590.7 513.5L595.9 511.6L601.1 526.5Z" fill="#5b5bff"/>
<path d="M564.1 449.7L558.8 439.2L564.1 436.7L569.5 447.4Z" fill="#ffc1c1"/>
<path d="M455.8 411.1L451.0 408.7L456.8 405.7L461.6 408.1Z" fill="#ff5e5e"/>
<path d="M548.0 432.0L542.7 423.1L548.1 420.5L553.4 429.4Z" fill="#ff8f8f"/>
<path d="M483.0 408.9L478.0 405.1L483.7 402.1L488.7 405.9Z" fill="#ff5555"/>
<path d="M590.7 513.5L585.5 499.3L590.7 497.3L595.9 511.6Z" fill="#8888ff"/>
<path d="M569.5 461.1L564.1 449.7L569.5 447.4L574.8 458.8Z" fill="#ffe0e0"/>
<path d="M439.3 414.9L434.7 413.2L440.6 410.1L445.2 411.8Z" fill="#ff6a6a"/>
<path d="M585.5 499.3L580.2 485.9L585.4 483.8L590.7 497.3Z" fill="#b1b1ff"/>
<path d="M574.8 473.1L569.5 461.1L574.8 458.8L580.1 470.9Z" fill="#fdfdff"/>
<path d="M580.2 485.9L574.8 473.1L580.1 470.9L585.4 483.8Z" fill="#d9d9ff"/>
<path d="M493.8 410.5L488.7 405.9L494.4 402.9L499.4 407.6Z" fill="#ff5555"/>
<path d="M537.2 425.8L531.9 417.8L537.4 415.1L542.7 423.1Z" fill="#ff7d7d"/>
<path d="M466.5 411.1L461.6 408.1L467.4 405.0L472.3 408.1Z" fill="#ff5a5a"/>
<path d="M553.4 441.7L548.0 432.0L553.4 429.4L558.8 439.2Z" fill="#ffa7a7"/>
<path d="M504.6 413.0L499.4 407.6L505.1 404.6L510.2 410.1Z" fill="#ff5a5a"/>
<path d="M526.3 420.6L521.1 413.5L526.6 410.7L531.9 417.8Z" fill="#ff6d6d"/>
<path d="M515.5 416.3L510.2 410.1L515.8 407.2L521.1 413.5Z" fill="#ff6262"/>
<path d="M449.9 414.2L445.2 411.8L451.0 408.7L455.8 411.1Z" fill="#ff6262"/>
<path d="M558.8 452.1L553.4 441.7L558.8 439.2L564.1 449.7Z" fill="#ffc2c2"/>
<path d="M477.2 411.9L472.3 408.1L478.0 405.1L483.0 408.9Z" fill="#ff5858"/>
<path d="M590.8 530.1L585.5 515.4L590.7 513.5L596.0 528.3Z" fill="#5e5eff"/>
<path d="M542.6 434.6L537.2 425.8L542.7 423.1L548.0 432.0Z" fill="#ff9191"/>
<path d="M433.4 418.1L428.8 416.3L434.7 413.2L439.3 414.9Z" fill="#ff6d6d"/>
<path d="M564.1 463.4L558.8 452.1L564.1 449.7L569.5 461.1Z" fill="#ffe0e0"/>
<path d="M585.5 515.4L580.2 501.3L585.5 499.3L590.7 513.5Z" fill="#8a8aff"/>
<path d="M488.1 413.5L483.0 408.9L488.7 405.9L493.8 410.5Z" fill="#ff5959"/>
<path d="M531.7 428.5L526.3 420.6L531.9 417.8L537.2 425.8Z" fill="#ff7f7f"/>
<path d="M569.5 475.3L564.1 463.4L569.5 461.1L574.8 473.1Z" fill="#fdfdff"/>
<path d="M580.2 501.3L574.9 488.0L580.2 485.9L585.5 499.3Z" fill="#b3b3ff"/>
<path d="M460.6 414.2L455.8 411.1L461.6 408.1L466.5 411.1Z" fill="#ff5d5d"/>
<path d="M574.9 488.0L569.5 475.3L574.8 473.1L580.2 485.9Z" fill="#d9d9ff"/>
<path d="M498.9 415.9L493.8 410.5L499.4 407.6L504.6 413.0Z" fill="#ff5d5d"/>
<path d="M520.8 423.3L515.5 416.3L521.1 413.5L526.3 420.6Z" fill="#ff7070"/>
<path d="M547.9 444.2L542.6 434.6L548.0 432.0L553.4 441.7Z" fill="#ffa9a9"/>
<path d="M509.8 419.1L504.6 413.0L510.2 410.1L515.5 416.3Z" fill="#ff6565"/>
<path d="M444.0 417.3L439.3 414.9L445.2 411.8L449.9 414.2Z" fill="#ff6666"/>
<path d="M471.4 414.9L466.5 411.1L472.3 408.1L477.2 411.9Z" fill="#ff5c5c"/>
<path d="M553.3 454.5L547.9 444.2L553.4 441.7L558.8 452.1Z" fill="#ffc3c3"/>
<path d="M537.0 437.2L531.7 428.5L537.2 425.8L542.6 434.6Z" fill="#ff9393"/>
<path d="M585.5 531.9L580.2 517.3L585.5 515.4L590.8 530.1Z" fill="#6161ff"/>
<path d="M482.3 416.5L477.2 411.9L483.0 408.9L488.1 413.5Z" fill="#ff5d5d"/>
<path d="M558.7 465.7L553.3 454.5L558.8 452.1L564.1 463.4Z" fill="#ffe1e1"/>
<path d="M526.1 431.2L520.8 423.3L526.3 420.6L531.7 428.5Z" fill="#ff8181"/>
<path d="M454.8 417.3L449.9 414.2L455.8 411.1L460.6 414.2Z" fill="#ff6161"/>
<path d="M580.2 517.3L574.9 503.3L580.2 501.3L585.5 515.4Z" fill="#8d8dff"/>
<path d="M493.2 418.8L488.1 413.5L493.8 410.5L498.9 415.9Z" fill="#ff6161"/>
<path d="M564.1 477.5L558.7 465.7L564.1 463.4L569.5 475.3Z" fill="#fdfdff"/>
<path d="M515.1 426.1L509.8 419.1L515.5 416.3L520.8 423.3Z" fill="#ff7272"/>
<path d="M574.9 503.3L569.5 490.1L574.9 488.0L580.2 501.3Z" fill="#b5b5ff"/>
<path d="M504.2 422.0L498.9 415.9L504.6 413.0L509.8 419.1Z" fill="#ff6868"/>
<path d="M569.5 490.1L564.1 477.5L569.5 475.3L574.9 488.0Z" fill="#dbdbff"/>
<path d="M542.4 446.7L537.0 437.2L542.6 434.6L547.9 444.2Z" fill="#ffa9a9"/>
<path d="M438.1 420.5L433.4 418.1L439.3 414.9L444.0 417.3Z" fill="#ff6a6a"/>
<path d="M465.6 418.0L460.6 414.2L466.5 411.1L471.4 414.9Z" fill="#ff5f5f"/>
<path d="M547.8 457.0L542.4 446.7L547.9 444.2L553.3 454.5Z" fill="#ffc4c4"/>
<path d="M531.5 439.8L526.1 431.2L531.7 428.5L537.0 437.2Z" fill="#ff9595"/>
<path d="M476.5 419.5L471.4 414.9L477.2 411.9L482.3 416.5Z" fill="#ff6060"/>
<path d="M448.8 420.4L444.0 417.3L449.9 414.2L454.8 417.3Z" fill="#ff6565"/>
<path d="M520.5 433.9L515.1 426.1L520.8 423.3L526.1 431.2Z" fill="#ff8383"/>
<path d="M553.2 468.0L547.8 457.0L553.3 454.5L558.7 465.7Z" fill="#ffe1e1"/>
<path d="M580.2 533.8L574.9 519.2L580.2 517.3L585.5 531.9Z" fill="#6565ff"/>
<path d="M487.4 421.8L482.3 416.5L488.1 413.5L493.2 418.8Z" fill="#ff6464"/>
<path d="M509.4 428.9L504.2 422.0L509.8 419.1L515.1 426.1Z" fill="#ff7575"/>
<path d="M498.4 424.9L493.2 418.8L498.9 415.9L504.2 422.0Z" fill="#ff6b6b"/>
<path d="M558.7 479.8L553.2 468.0L558.7 465.7L564.1 477.5Z" fill="#fefeff"/>
<path d="M574.9 519.2L569.5 505.4L574.9 503.3L580.2 517.3Z" fill="#8f8fff"/>
<path d="M536.9 449.2L531.5 439.8L537.0 437.2L542.4 446.7Z" fill="#ffabab"/>
<path d="M564.1 492.2L558.7 479.8L564.1 477.5L569.5 490.1Z" fill="#dcdcff"/>
<path d="M569.5 505.4L564.1 492.2L569.5 490.1L574.9 503.3Z" fill="#b7b7ff"/>
<path d="M459.7 421.1L454.8 417.3L460.6 414.2L465.6 418.0Z" fill="#ff6363"/>
<path d="M525.8 442.5L520.5 433.9L526.1 431.2L531.5 439.8Z" fill="#ff9696"/>
<path d="M542.3 459.4L536.9 449.2L542.4 446.7L547.8 457.0Z" fill="#ffc5c5"/>
<path d="M470.6 422.5L465.6 418.0L471.4 414.9L476.5 419.5Z" fill="#ff6363"/>
<path d="M442.8 423.6L438.1 420.5L444.0 417.3L448.8 420.4Z" fill="#ff6969"/>
<path d="M514.8 436.7L509.4 428.9L515.1 426.1L520.5 433.9Z" fill="#ff8585"/>
<path d="M481.6 424.7L476.5 419.5L482.3 416.5L487.4 421.8Z" fill="#ff6767"/>
<path d="M547.7 470.4L542.3 459.4L547.8 457.0L553.2 468.0Z" fill="#ffe1e1"/>
<path d="M503.7 431.8L498.4 424.9L504.2 422.0L509.4 428.9Z" fill="#ff7878"/>
<path d="M492.7 427.8L487.4 421.8L493.2 418.8L498.4 424.9Z" fill="#ff6d6d"/>
<path d="M574.9 535.6L569.5 521.2L574.9 519.2L580.2 533.8Z" fill="#6868ff"/>
<path d="M531.3 451.8L525.8 442.5L531.5 439.8L536.9 449.2Z" fill="#ffacac"/>
<path d="M553.2 482.1L547.7 470.4L553.2 468.0L558.7 479.8Z" fill="#fefeff"/>
<path d="M453.7 424.2L448.8 420.4L454.8 417.3L459.7 421.1Z" fill="#ff6666"/>
<path d="M569.5 521.2L564.0 507.5L569.5 505.4L574.9 519.2Z" fill="#9191ff"/>
<path d="M558.6 494.4L553.2 482.1L558.7 479.8L564.1 492.2Z" fill="#ddddff"/>
<path d="M564.0 507.5L558.6 494.4L564.1 492.2L569.5 505.4Z" fill="#b9b9ff"/>
<path d="M520.2 445.1L514.8 436.7L520.5 433.9L525.8 442.5Z" fill="#ff9898"/>
<path d="M464.7 425.6L459.7 421.1L465.6 418.0L470.6 422.5Z" fill="#ff6767"/>
<path d="M536.7 461.9L531.3 451.8L536.9 449.2L542.3 459.4Z" fill="#ffc5c5"/>
<path d="M475.7 427.8L470.6 422.5L476.5 419.5L481.6 424.7Z" fill="#ff6a6a"/>
<path d="M509.1 439.4L503.7 431.8L509.4 428.9L514.8 436.7Z" fill="#ff8787"/>
<path d="M486.8 430.8L481.6 424.7L487.4 421.8L492.7 427.8Z" fill="#ff7171"/>
<path d="M497.9 434.6L492.7 427.8L498.4 424.9L503.7 431.8Z" fill="#ff7a7a"/>
<path d="M542.1 472.8L536.7 461.9L542.3 459.4L547.7 470.4Z" fill="#ffe1e1"/>
<path d="M447.7 427.3L442.8 423.6L448.8 420.4L453.7 424.2Z" fill="#ff6a6a"/>
<path d="M525.6 454.4L520.2 445.1L525.8 442.5L531.3 451.8Z" fill="#ffadad"/>
<path d="M547.6 484.3L542.1 472.8L547.7 470.4L553.2 482.1Z" fill="#ffffff"/>
<path d="M569.4 537.5L564.0 523.2L569.5 521.2L574.9 535.6Z" fill="#6b6bff"/>
<path d="M553.1 496.6L547.6 484.3L553.2 482.1L558.6 494.4Z" fill="#dedeff"/>
<path d="M564.0 523.2L558.6 509.6L564.0 507.5L569.5 521.2Z" fill="#9494ff"/>
<path d="M558.6 509.6L553.1 496.6L558.6 494.4L564.0 507.5Z" fill="#babaff"/>
<path d="M458.7 428.7L453.7 424.2L459.7 421.1L464.7 425.6Z" fill="#ff6a6a"/>
<path d="M514.4 447.9L509.1 439.4L514.8 436.7L520.2 445.1Z" fill="#ff9999"/>
<path d="M531.0 464.4L525.6 454.4L531.3 451.8L536.7 461.9Z" fill="#ffc5c5"/>
<path d="M469.8 430.8L464.7 425.6L470.6 422.5L475.7 427.8Z" fill="#ff6d6d"/>
<path d="M503.3 442.2L497.9 434.6L503.7 431.8L509.1 439.4Z" fill="#ff8989"/>
<path d="M480.9 433.7L475.7 427.8L481.6 424.7L486.8 430.8Z" fill="#ff7373"/>
<path d="M492.1 437.5L486.8 430.8L492.7 427.8L497.9 434.6Z" fill="#ff7d7d"/>
<path d="M536.5 475.2L531.0 464.4L536.7 461.9L542.1 472.8Z" fill="#ffe1e1"/>
<path d="M519.9 457.0L514.4 447.9L520.2 445.1L525.6 454.4Z" fill="#ffafaf"/>
<path d="M542.0 486.7L536.5 475.2L542.1 472.8L547.6 484.3Z" fill="#fffefe"/>
<path d="M452.7 431.8L447.7 427.3L453.7 424.2L458.7 428.7Z" fill="#ff6d6d"/>
<path d="M564.0 539.4L558.5 525.2L564.0 523.2L569.4 537.5Z" fill="#6e6eff"/>
<path d="M547.5 498.8L542.0 486.7L547.6 484.3L553.1 496.6Z" fill="#dfdfff"/>
<path d="M508.7 450.6L503.3 442.2L509.1 439.4L514.4 447.9Z" fill="#ff9b9b"/>
<path d="M558.5 525.2L553.0 511.7L558.6 509.6L564.0 523.2Z" fill="#9696ff"/>
<path d="M553.0 511.7L547.5 498.8L553.1 496.6L558.6 509.6Z" fill="#bcbcff"/>
<path d="M525.3 467.0L519.9 457.0L525.6 454.4L531.0 464.4Z" fill="#ffc6c6"/>
<path d="M463.8 433.9L458.7 428.7L464.7 425.6L469.8 430.8Z" fill="#ff7171"/>
<path d="M497.4 445.1L492.1 437.5L497.9 434.6L503.3 442.2Z" fill="#ff8c8c"/>
<path d="M475.0 436.7L469.8 430.8L475.7 427.8L480.9 433.7Z" fill="#ff7676"/>
<path d="M486.2 440.5L480.9 433.7L486.8 430.8L492.1 437.5Z" fill="#ff7f7f"/>
<path d="M530.8 477.6L525.3 467.0L531.0 464.4L536.5 475.2Z" fill="#ffe1e1"/>
<path d="M514.1 459.7L508.7 450.6L514.4 447.9L519.9 457.0Z" fill="#ffb0b0"/>
<path d="M536.3 489.0L530.8 477.6L536.5 475.2L542.0 486.7Z" fill="#fffefe"/>
<path d="M502.8 453.3L497.4 445.1L503.3 442.2L508.7 450.6Z" fill="#ff9d9d"/>
<path d="M541.9 501.1L536.3 489.0L542.0 486.7L547.5 498.8Z" fill="#e1e1ff"/>
<path d="M457.8 436.9L452.7 431.8L458.7 428.7L463.8 433.9Z" fill="#ff7373"/>
<path d="M558.4 541.3L552.9 527.2L558.5 525.2L564.0 539.4Z" fill="#7171ff"/>
<path d="M519.6 469.5L514.1 459.7L519.9 457.0L525.3 467.0Z" fill="#ffc7c7"/>
<path d="M547.4 513.8L541.9 501.1L547.5 498.8L553.0 511.7Z" fill="#bebeff"/>
<path d="M552.9 527.2L547.4 513.8L553.0 511.7L558.5 525.2Z" fill="#9999ff"/>
<path d="M491.5 447.9L486.2 440.5L492.1 437.5L497.4 445.1Z" fill="#ff8d8d"/>
<path d="M469.0 439.8L463.8 433.9L469.8 430.8L475.0 436.7Z" fill="#ff7979"/>
<path d="M480.3 443.4L475.0 436.7L480.9 433.7L486.2 440.5Z" fill="#ff8181"/>
<path d="M525.1 480.1L519.6 469.5L525.3 467.0L530.8 477.6Z" fill="#ffe1e1"/>
<path d="M508.3 462.4L502.8 453.3L508.7 450.6L514.1 459.7Z" fill="#ffb1b1"/>
<path d="M530.6 491.4L525.1 480.1L530.8 477.6L536.3 489.0Z" fill="#fffdfd"/>
<path d="M496.9 456.1L491.5 447.9L497.4 445.1L502.8 453.3Z" fill="#ff9f9f"/>
<path d="M536.2 503.3L530.6 491.4L536.3 489.0L541.9 501.1Z" fill="#e1e1ff"/>
<path d="M485.6 450.8L480.3 443.4L486.2 440.5L491.5 447.9Z" fill="#ff9090"/>
<path d="M463.0 442.8L457.8 436.9L463.8 433.9L469.0 439.8Z" fill="#ff7c7c"/>
<path d="M513.8 472.1L508.3 462.4L514.1 459.7L519.6 469.5Z" fill="#ffc8c8"/>
<path d="M474.3 446.4L469.0 439.8L475.0 436.7L480.3 443.4Z" fill="#ff8484"/>
<path d="M552.8 543.2L547.3 529.3L552.9 527.2L558.4 541.3Z" fill="#7575ff"/>
<path d="M541.7 516.0L536.2 503.3L541.9 501.1L547.4 513.8Z" fill="#c0c0ff"/>
<path d="M547.3 529.3L541.7 516.0L547.4 513.8L552.9 527.2Z" fill="#9b9bff"/>
<path d="M502.4 465.1L496.9 456.1L502.8 453.3L508.3 462.4Z" fill="#ffb2b2"/>
<path d="M519.3 482.6L513.8 472.1L519.6 469.5L525.1 480.1Z" fill="#ffe1e1"/>
<path d="M491.0 458.9L485.6 450.8L491.5 447.9L496.9 456.1Z" fill="#ffa1a1"/>
<path d="M524.8 493.8L519.3 482.6L525.1 480.1L530.6 491.4Z" fill="#fffdfd"/>
<path d="M479.6 453.7L474.3 446.4L480.3 443.4L485.6 450.8Z" fill="#ff9292"/>
<path d="M468.2 449.4L463.0 442.8L469.0 439.8L474.3 446.4Z" fill="#ff8787"/>
<path d="M507.9 474.7L502.4 465.1L508.3 462.4L513.8 472.1Z" fill="#ffc9c9"/>
<path d="M530.4 505.6L524.8 493.8L530.6 491.4L536.2 503.3Z" fill="#e2e2ff"/>
<path d="M536.0 518.1L530.4 505.6L536.2 503.3L541.7 516.0Z" fill="#c1c1ff"/>
<path d="M547.1 545.2L541.6 531.3L547.3 529.3L552.8 543.2Z" fill="#7878ff"/>
<path d="M541.6 531.3L536.0 518.1L541.7 516.0L547.3 529.3Z" fill="#9d9dff"/>
<path d="M496.5 467.8L491.0 458.9L496.9 456.1L502.4 465.1Z" fill="#ffb4b4"/>
<path d="M513.4 485.1L507.9 474.7L513.8 472.1L519.3 482.6Z" fill="#ffe1e1"/>
<path d="M485.0 461.8L479.6 453.7L485.6 450.8L491.0 458.9Z" fill="#ffa2a2"/>
<path d="M519.0 496.2L513.4 485.1L519.3 482.6L524.8 493.8Z" fill="#fffdfd"/>
<path d="M473.5 456.7L468.2 449.4L474.3 446.4L479.6 453.7Z" fill="#ff9494"/>
<path d="M502.0 477.4L496.5 467.8L502.4 465.1L507.9 474.7Z" fill="#ffc9c9"/>
<path d="M524.6 507.9L519.0 496.2L524.8 493.8L530.4 505.6Z" fill="#e4e4ff"/>
<path d="M530.2 520.4L524.6 507.9L530.4 505.6L536.0 518.1Z" fill="#c3c3ff"/>
<path d="M541.4 547.2L535.8 533.4L541.6 531.3L547.1 545.2Z" fill="#7b7bff"/>
<path d="M535.8 533.4L530.2 520.4L536.0 518.1L541.6 531.3Z" fill="#a1a1ff"/>
<path d="M490.5 470.5L485.0 461.8L491.0 458.9L496.5 467.8Z" fill="#ffb5b5"/>
<path d="M507.5 487.6L502.0 477.4L507.9 474.7L513.4 485.1Z" fill="#ffe1e1"/>
<path d="M478.9 464.6L473.5 456.7L479.6 453.7L485.0 461.8Z" fill="#ffa4a4"/>
<path d="M513.1 498.6L507.5 487.6L513.4 485.1L519.0 496.2Z" fill="#fffdfd"/>
<path d="M496.0 480.0L490.5 470.5L496.5 467.8L502.0 477.4Z" fill="#ffcaca"/>
<path d="M518.7 510.3L513.1 498.6L519.0 496.2L524.6 507.9Z" fill="#e5e5ff"/>
<path d="M524.3 522.6L518.7 510.3L524.6 507.9L530.2 520.4Z" fill="#c5c5ff"/>
<path d="M484.4 473.3L478.9 464.6L485.0 461.8L490.5 470.5Z" fill="#ffb6b6"/>
<path d="M530.0 535.6L524.3 522.6L530.2 520.4L535.8 533.4Z" fill="#a3a3ff"/>
<path d="M501.5 490.2L496.0 480.0L502.0 477.4L507.5 487.6Z" fill="#ffe1e1"/>
<path d="M535.6 549.2L530.0 535.6L535.8 533.4L541.4 547.2Z" fill="#7e7eff"/>
<path d="M507.1 501.1L501.5 490.2L507.5 487.6L513.1 498.6Z" fill="#fffcfc"/>
<path d="M489.9 482.7L484.4 473.3L490.5 470.5L496.0 480.0Z" fill="#ffcbcb"/>
<path d="M512.7 512.6L507.1 501.1L513.1 498.6L518.7 510.3Z" fill="#e5e5ff"/>
<path d="M518.4 524.8L512.7 512.6L518.7 510.3L524.3 522.6Z" fill="#c7c7ff"/>
<path d="M495.5 492.8L489.9 482.7L496.0 480.0L501.5 490.2Z" fill="#ffe1e1"/>
<path d="M524.1 537.7L518.4 524.8L524.3 522.6L530.0 535.6Z" fill="#a5a5ff"/>
<path d="M529.7 551.2L524.1 537.7L530.0 535.6L535.6 549.2Z" fill="#8181ff"/>
<path d="M501.1 503.6L495.5 492.8L501.5 490.2L507.1 501.1Z" fill="#fffbfb"/>
<path d="M506.7 515.0L501.1 503.6L507.1 501.1L512.7 512.6Z" fill="#e7e7ff"/>
<path d="M512.4 527.1L506.7 515.0L512.7 512.6L518.4 524.8Z" fill="#c9c9ff"/>
<path d="M518.1 539.9L512.4 527.1L518.4 524.8L524.1 537.7Z" fill="#a8a8ff"/>
<path d="M523.8 553.3L518.1 539.9L524.1 537.7L529.7 551.2Z" fill="#8585ff"/>
</g>
<g stroke="#222" stroke-width="0.7" fill="none">
<path d="M410.9 353.6L469.3 387.5" />
<path d="M662.6 362.8L601.1 387.3" />
<path d="M523.4 552.2L523.5 578.7" />
</g>
<g stroke="#222" stroke-width="0.7" fill="none" opacity="0.75">
<path d="M469.3 387.5L522.7 418.5" />
<path d="M601.1 387.3L522.7 418.5" />
<path d="M522.7 418.5L523.4 552.2" />
</g>
<g font-family='"Liberation Sans", sans-serif' font-size="11.8" fill="#111" text-anchor="middle">
<text x="510.0" y="605.3" >1991</text>
<text x="488.8" y="588.0" >1995</text>
<text x="468.7" y="571.5" >1999</text>
<text x="449.7" y="555.9" >2003</text>
<text x="431.6" y="541.1" >2007</text>
<text x="414.3" y="527.0" >2011</text>
<text x="561.3" y="592.6" >0.00</text>
<text x="609.8" y="565.3" >0.03</text>
<text x="654.4" y="540.3" >0.06</text>
<text x="396.5" y="491.7" >−1.0</text>
<text x="393.4" y="460.3" >−0.5</text>
<text x="390.2" y="427.5" >0.0</text>
<text x="386.9" y="393.2" >0.5</text>
<text x="383.4" y="357.3" >1.0</text>
</g>
<g font-family='"Liberation Sans", sans-serif' font-size="12.5" fill="#111" text-anchor="middle">
<text x="363.0" y="428.0" transform="rotate(-90 363.0 428.0)">Scaled price</text>
<text x="428.0" y="575.8">Year</text>
<text x="647.5" y="577.2">Functional</text>
<text x="647.5" y="592.2">contribution</text>
</g>
<text x="352.9" y="336.8" font-family='"DejaVu Sans", sans-serif' font-size="30.5" fill="#000">(d)</text>
</svg></body></html>
